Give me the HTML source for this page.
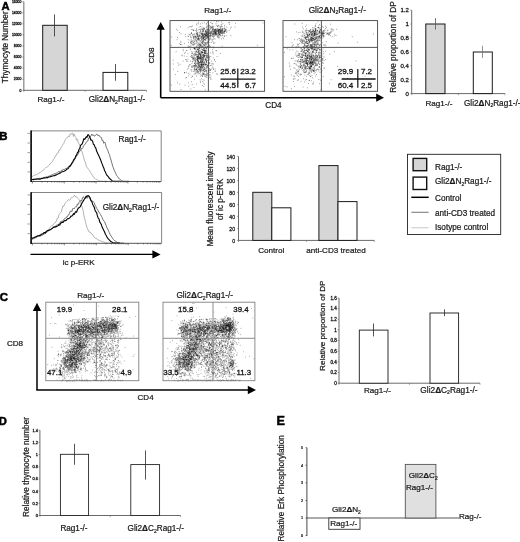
<!DOCTYPE html>
<html lang="en"><head><meta charset="utf-8"><title>Figure</title>
<style>html,body{margin:0;padding:0;background:#fff;}svg{display:block;}</style>
</head><body>
<svg width="520" height="542" viewBox="0 0 520 542" font-family='"Liberation Sans", sans-serif'>
<defs><filter id="bl" x="-5%" y="-5%" width="110%" height="110%"><feGaussianBlur stdDeviation="0.35"/></filter></defs>
<rect x="0" y="0" width="520" height="542" fill="#fff"/>
<text x="1.40" y="9.50" font-size="11.2" text-anchor="start" font-weight="bold" fill="#000" stroke="#000" stroke-width="0.5">A</text>
<text x="-0.70" y="139.50" font-size="11.4" text-anchor="start" font-weight="bold" fill="#000" stroke="#000" stroke-width="0.5">B</text>
<text x="-0.30" y="300.50" font-size="11.4" text-anchor="start" font-weight="bold" fill="#000" stroke="#000" stroke-width="0.5">C</text>
<text x="-1.20" y="425.10" font-size="11.2" text-anchor="start" font-weight="bold" fill="#000" stroke="#000" stroke-width="0.5">D</text>
<text x="276.60" y="425.00" font-size="12.6" text-anchor="start" font-weight="bold" fill="#000" stroke="#000" stroke-width="0.5">E</text>
<line x1="23.85" y1="1.70" x2="23.85" y2="90.30" stroke="#6a6a6a" stroke-width="1.0" />
<line x1="23.35" y1="90.30" x2="146.50" y2="90.30" stroke="#6a6a6a" stroke-width="1.0" />
<line x1="23.85" y1="90.30" x2="23.85" y2="91.90" stroke="#6a6a6a" stroke-width="0.6" />
<line x1="85.17" y1="90.30" x2="85.17" y2="91.90" stroke="#6a6a6a" stroke-width="0.6" />
<line x1="146.50" y1="90.30" x2="146.50" y2="91.90" stroke="#6a6a6a" stroke-width="0.6" />
<line x1="22.35" y1="90.30" x2="23.85" y2="90.30" stroke="#6a6a6a" stroke-width="0.6" />
<text transform="translate(21.40 91.52) scale(1.0 1)" font-size="3.4" text-anchor="end" font-weight="normal" fill="#1a1a1a" stroke="#1a1a1a" stroke-width="0.3">0</text>
<line x1="22.35" y1="79.22" x2="23.85" y2="79.22" stroke="#6a6a6a" stroke-width="0.6" />
<text transform="translate(21.40 80.45) scale(1.0 1)" font-size="3.4" text-anchor="end" font-weight="normal" fill="#1a1a1a" stroke="#1a1a1a" stroke-width="0.3">2000</text>
<line x1="22.35" y1="68.15" x2="23.85" y2="68.15" stroke="#6a6a6a" stroke-width="0.6" />
<text transform="translate(21.40 69.37) scale(1.0 1)" font-size="3.4" text-anchor="end" font-weight="normal" fill="#1a1a1a" stroke="#1a1a1a" stroke-width="0.3">4000</text>
<line x1="22.35" y1="57.08" x2="23.85" y2="57.08" stroke="#6a6a6a" stroke-width="0.6" />
<text transform="translate(21.40 58.30) scale(1.0 1)" font-size="3.4" text-anchor="end" font-weight="normal" fill="#1a1a1a" stroke="#1a1a1a" stroke-width="0.3">6000</text>
<line x1="22.35" y1="46.00" x2="23.85" y2="46.00" stroke="#6a6a6a" stroke-width="0.6" />
<text transform="translate(21.40 47.22) scale(1.0 1)" font-size="3.4" text-anchor="end" font-weight="normal" fill="#1a1a1a" stroke="#1a1a1a" stroke-width="0.3">8000</text>
<line x1="22.35" y1="34.92" x2="23.85" y2="34.92" stroke="#6a6a6a" stroke-width="0.6" />
<text transform="translate(21.40 36.15) scale(1.0 1)" font-size="3.4" text-anchor="end" font-weight="normal" fill="#1a1a1a" stroke="#1a1a1a" stroke-width="0.3">10000</text>
<line x1="22.35" y1="23.85" x2="23.85" y2="23.85" stroke="#6a6a6a" stroke-width="0.6" />
<text transform="translate(21.40 25.07) scale(1.0 1)" font-size="3.4" text-anchor="end" font-weight="normal" fill="#1a1a1a" stroke="#1a1a1a" stroke-width="0.3">12000</text>
<line x1="22.35" y1="12.78" x2="23.85" y2="12.78" stroke="#6a6a6a" stroke-width="0.6" />
<text transform="translate(21.40 14.00) scale(1.0 1)" font-size="3.4" text-anchor="end" font-weight="normal" fill="#1a1a1a" stroke="#1a1a1a" stroke-width="0.3">14000</text>
<line x1="22.35" y1="1.70" x2="23.85" y2="1.70" stroke="#6a6a6a" stroke-width="0.6" />
<text transform="translate(21.40 2.92) scale(1.0 1)" font-size="3.4" text-anchor="end" font-weight="normal" fill="#1a1a1a" stroke="#1a1a1a" stroke-width="0.3">16000</text>
<rect x="42.70" y="25.30" width="24.50" height="65.00" fill="#d6d6d6" stroke="#1a1a1a" stroke-width="1.0"/>
<line x1="54.50" y1="14.40" x2="54.50" y2="36.40" stroke="#2a2a2a" stroke-width="0.8" />
<rect x="103.00" y="72.40" width="24.80" height="17.90" fill="#fff" stroke="#1a1a1a" stroke-width="1.0"/>
<line x1="115.50" y1="64.00" x2="115.50" y2="80.80" stroke="#2a2a2a" stroke-width="0.8" />
<text x="51.00" y="102.00" font-size="8.1" text-anchor="middle" font-weight="normal" fill="#1a1a1a" stroke="#1a1a1a" stroke-width="0.22">Rag1-/-</text>
<text x="117.00" y="102.00" font-size="8.2" text-anchor="middle" font-weight="normal" fill="#1a1a1a" stroke="#1a1a1a" stroke-width="0.22">Gli2<tspan font-weight="bold">Δ</tspan>N<tspan font-size="5.08" dy="1.80">2</tspan><tspan dy="-1.80">Rag1-/-</tspan></text>
<text x="7.80" y="47.30" font-size="8.25" text-anchor="middle" font-weight="normal" fill="#1a1a1a" transform="rotate(-90 7.80 47.30)" stroke="#1a1a1a" stroke-width="0.22">Thymocyte Number</text>
<path d="M201.3 37.1h0.85M201.5 33.5h0.85M197.0 35.1h0.85M210.2 34.5h0.85M209.7 33.9h0.85M205.6 34.7h0.85M192.2 40.9h0.85M206.3 35.8h0.85M192.0 29.7h0.85M197.2 33.9h0.85M205.0 33.8h0.85M206.4 30.9h0.85M205.0 35.7h0.85M198.7 43.0h0.85M206.6 38.8h0.85M199.0 32.3h0.85M200.8 34.6h0.85M207.1 34.6h0.85M200.1 31.1h0.85M199.6 40.6h0.85M197.7 36.9h0.85M205.8 27.4h0.85M203.3 40.1h0.85M189.9 36.4h0.85M202.3 31.1h0.85M206.2 33.4h0.85M193.5 40.4h0.85M207.4 37.5h0.85M212.4 33.7h0.85M203.8 28.7h0.85M207.0 30.9h0.85M200.1 29.8h0.85M196.7 33.8h0.85M211.4 23.7h0.85M193.5 37.9h0.85M212.4 34.7h0.85M190.7 26.7h0.85M205.3 30.8h0.85M195.7 40.5h0.85M210.2 33.4h0.85M204.6 36.0h0.85M213.4 34.6h0.85M206.4 36.0h0.85M192.8 42.5h0.85M209.2 35.2h0.85M190.2 34.9h0.85M208.5 25.3h0.85M201.8 39.2h0.85M194.5 43.5h0.85M206.6 33.0h0.85M205.1 36.8h0.85M203.8 39.2h0.85M198.7 33.8h0.85M209.8 32.9h0.85M197.3 40.0h0.85M212.5 30.2h0.85M194.0 36.1h0.85M202.0 33.5h0.85M212.1 27.8h0.85M211.2 27.0h0.85M197.9 38.5h0.85M210.3 36.4h0.85M205.2 34.6h0.85M204.0 36.7h0.85M201.9 36.0h0.85M206.7 33.6h0.85M208.0 35.7h0.85M216.1 32.7h0.85M200.2 33.6h0.85M202.9 38.5h0.85M200.8 36.7h0.85M195.7 37.4h0.85M205.6 34.9h0.85M200.2 38.0h0.85M204.8 31.8h0.85M218.8 32.1h0.85M199.4 35.0h0.85M201.5 34.6h0.85M185.3 36.8h0.85M209.6 27.8h0.85M202.6 38.7h0.85M208.6 39.5h0.85M191.9 35.7h0.85M200.8 37.7h0.85M210.1 26.5h0.85M207.4 27.0h0.85M204.1 39.4h0.85M202.0 35.6h0.85M208.2 33.8h0.85M202.4 41.2h0.85M209.8 31.5h0.85M220.8 25.1h0.85M208.9 31.9h0.85M203.9 37.3h0.85M204.4 36.9h0.85M193.1 30.5h0.85M207.0 29.4h0.85M196.3 29.8h0.85M211.2 35.7h0.85M212.6 28.1h0.85M203.0 29.6h0.85M208.0 40.1h0.85M197.2 42.7h0.85M209.4 32.1h0.85M190.2 43.7h0.85M202.4 32.1h0.85M205.6 35.6h0.85M212.7 27.7h0.85M210.4 39.1h0.85M212.4 31.4h0.85M198.2 40.1h0.85M203.7 34.8h0.85M212.3 31.1h0.85M188.1 36.5h0.85M190.9 41.0h0.85M205.1 31.4h0.85M202.9 38.1h0.85M203.5 40.1h0.85M202.6 39.1h0.85M212.7 39.0h0.85M198.6 39.4h0.85M190.8 32.9h0.85M190.2 42.3h0.85M195.0 36.4h0.85M201.8 34.7h0.85M199.2 36.5h0.85M214.6 31.8h0.85M206.5 38.0h0.85M201.7 29.4h0.85M199.4 40.0h0.85M192.3 34.6h0.85M209.5 36.3h0.85M203.0 38.0h0.85M204.1 29.2h0.85M192.8 34.3h0.85M209.0 30.6h0.85M197.1 32.6h0.85M193.0 36.5h0.85M195.3 38.0h0.85M187.7 39.7h0.85M198.8 27.2h0.85M207.7 32.1h0.85M188.5 34.3h0.85M204.9 32.1h0.85M208.1 36.5h0.85M207.3 34.8h0.85M211.7 35.2h0.85M205.9 24.8h0.85M208.8 38.7h0.85M201.1 33.0h0.85M215.6 23.8h0.85M206.0 44.2h0.85M197.0 39.0h0.85M215.3 30.9h0.85M206.6 37.5h0.85M197.1 35.6h0.85M204.9 37.6h0.85M202.8 33.7h0.85M196.4 34.6h0.85M208.8 33.5h0.85M197.5 32.2h0.85M220.3 35.1h0.85M207.1 22.3h0.85M207.0 35.6h0.85M213.9 33.6h0.85M202.6 36.9h0.85M190.4 42.1h0.85M205.1 31.0h0.85M211.6 40.2h0.85M193.9 33.9h0.85M204.9 34.8h0.85M200.4 30.9h0.85M216.8 35.6h0.85M195.2 30.6h0.85M214.1 36.0h0.85M214.8 35.1h0.85M197.3 37.0h0.85M189.0 34.8h0.85M202.6 36.8h0.85M198.3 35.1h0.85M206.0 35.4h0.85M207.1 34.4h0.85M200.9 38.4h0.85M203.3 30.9h0.85M198.9 35.5h0.85M202.3 35.4h0.85M203.0 35.3h0.85M202.1 29.3h0.85M205.7 38.4h0.85M205.8 33.0h0.85M205.9 29.6h0.85M190.7 37.8h0.85M197.0 39.2h0.85M196.0 24.9h0.85M196.2 43.0h0.85M200.5 29.2h0.85M198.0 38.0h0.85M206.2 34.5h0.85M212.6 35.2h0.85M202.9 37.1h0.85M213.8 36.0h0.85M209.7 28.2h0.85M202.0 37.9h0.85M201.1 39.6h0.85M206.9 37.5h0.85M201.6 45.8h0.85M211.1 31.6h0.85M203.6 45.5h0.85M200.8 38.8h0.85M209.4 32.9h0.85M195.4 37.2h0.85M205.3 38.8h0.85M208.1 33.3h0.85M208.5 35.5h0.85M204.3 34.4h0.85M201.4 37.8h0.85M196.1 33.5h0.85M203.0 28.2h0.85M200.2 26.5h0.85M198.6 38.0h0.85M206.7 33.4h0.85M201.5 28.8h0.85M214.9 33.8h0.85M210.1 28.9h0.85M201.8 27.0h0.85M208.1 37.3h0.85M190.7 37.3h0.85M207.1 25.9h0.85M191.1 32.8h0.85M198.9 29.5h0.85M203.2 35.5h0.85M207.1 36.5h0.85M212.8 37.1h0.85M194.5 34.4h0.85M196.1 31.6h0.85M202.5 34.7h0.85M206.2 26.9h0.85M195.0 36.4h0.85M201.7 33.5h0.85M202.6 31.3h0.85M207.6 34.9h0.85M202.4 31.7h0.85M201.9 23.1h0.85M196.6 36.2h0.85M193.2 37.8h0.85M204.0 28.3h0.85M201.4 33.6h0.85M206.0 36.4h0.85M202.8 30.9h0.85M202.1 34.5h0.85M207.8 34.6h0.85M198.3 29.8h0.85M200.6 31.9h0.85M195.8 35.8h0.85M199.8 35.7h0.85M206.4 31.9h0.85M218.1 29.4h0.85M210.2 33.3h0.85M210.3 22.5h0.85M198.1 36.8h0.85M206.9 43.6h0.85M205.1 39.5h0.85M208.0 37.3h0.85M206.3 33.0h0.85M206.3 29.0h0.85M210.7 28.2h0.85M204.6 43.2h0.85M201.5 34.9h0.85M210.6 32.7h0.85M197.8 36.9h0.85M206.8 36.6h0.85M198.0 43.3h0.85M213.8 31.9h0.85M204.7 32.2h0.85M212.2 29.2h0.85M207.4 31.3h0.85M198.5 38.7h0.85M211.7 32.3h0.85M198.6 39.1h0.85M202.7 35.9h0.85M212.9 36.9h0.85M199.6 45.2h0.85M203.0 37.9h0.85M198.8 35.3h0.85M191.6 45.0h0.85M211.9 27.1h0.85M193.2 29.9h0.85M210.6 30.6h0.85M202.6 33.2h0.85M202.2 30.0h0.85M203.2 28.3h0.85M202.5 35.9h0.85M206.0 32.7h0.85M197.1 36.6h0.85M199.8 42.0h0.85M208.0 32.8h0.85M199.9 32.2h0.85M196.9 34.5h0.85M204.9 36.2h0.85M206.7 42.6h0.85M198.4 35.7h0.85M221.2 22.0h0.85M199.6 36.1h0.85M204.0 36.0h0.85M201.4 36.5h0.85M203.3 37.7h0.85M190.7 33.7h0.85M203.0 30.1h0.85M196.2 38.9h0.85M198.8 38.3h0.85M207.8 34.6h0.85M206.3 33.2h0.85M193.8 36.6h0.85M206.0 31.5h0.85M202.4 37.9h0.85M197.3 38.7h0.85M215.1 29.1h0.85M204.0 33.6h0.85M213.0 33.4h0.85M208.8 30.1h0.85M202.9 34.5h0.85M191.5 43.6h0.85M208.8 25.5h0.85M207.8 32.7h0.85M205.9 35.4h0.85M193.3 36.0h0.85M212.7 29.6h0.85M196.4 30.3h0.85M211.9 33.2h0.85M226.5 31.7h0.85M219.2 37.9h0.85M215.4 29.8h0.85M220.6 32.8h0.85M212.9 28.7h0.85M219.5 32.1h0.85M211.5 31.7h0.85M215.3 33.2h0.85M217.4 31.3h0.85M216.2 34.8h0.85M225.0 29.6h0.85M222.2 28.8h0.85M218.4 33.7h0.85M225.6 29.5h0.85M217.6 32.1h0.85M210.5 32.4h0.85M214.6 33.0h0.85M212.4 26.4h0.85M218.2 32.2h0.85M215.3 34.4h0.85M216.6 29.9h0.85M220.4 26.6h0.85M214.6 31.8h0.85M222.2 30.5h0.85M219.5 29.4h0.85M219.5 36.2h0.85M214.6 38.9h0.85M214.8 31.9h0.85M218.9 34.4h0.85M211.8 26.1h0.85M221.0 33.5h0.85M221.1 38.9h0.85M219.0 32.1h0.85M222.6 32.0h0.85M226.3 26.9h0.85M216.1 21.6h0.85M222.1 29.9h0.85M222.6 37.3h0.85M218.0 30.8h0.85M215.5 29.3h0.85M214.8 33.8h0.85M218.2 31.7h0.85M217.1 34.3h0.85M220.5 30.8h0.85M221.3 30.7h0.85M212.2 36.5h0.85M220.3 28.4h0.85M223.4 31.9h0.85M210.2 37.2h0.85M219.7 33.9h0.85M219.0 30.9h0.85M210.3 35.3h0.85M218.2 30.6h0.85M219.8 31.5h0.85M221.4 30.0h0.85M217.8 25.2h0.85M215.9 33.7h0.85M224.7 29.6h0.85M217.4 36.2h0.85M216.4 33.9h0.85M226.4 30.6h0.85M224.1 28.7h0.85M219.0 31.1h0.85M218.6 34.8h0.85M229.9 28.1h0.85M215.1 33.3h0.85M212.7 33.6h0.85M220.9 30.3h0.85M220.7 26.6h0.85M221.8 26.5h0.85M214.5 30.3h0.85M216.0 34.3h0.85M218.4 30.3h0.85M220.7 35.8h0.85M218.0 32.6h0.85M224.2 31.5h0.85M211.6 39.6h0.85M229.0 24.3h0.85M217.8 32.8h0.85M222.8 32.9h0.85M216.6 28.6h0.85M218.5 34.5h0.85M212.6 29.1h0.85M217.9 25.8h0.85M216.7 30.4h0.85M220.3 29.2h0.85M213.6 30.9h0.85M217.8 29.6h0.85M218.1 33.7h0.85M223.9 35.8h0.85M214.1 30.7h0.85M205.6 38.6h0.85M214.4 31.8h0.85M220.6 27.2h0.85M220.3 31.1h0.85M208.9 33.5h0.85M224.0 25.3h0.85M222.0 31.6h0.85M220.4 32.5h0.85M224.5 30.1h0.85M222.4 29.8h0.85M221.6 28.7h0.85M217.5 36.7h0.85M220.2 30.8h0.85M212.3 29.9h0.85M219.0 34.1h0.85M220.1 32.8h0.85M217.8 35.5h0.85M216.0 30.1h0.85M222.4 31.2h0.85M216.6 30.0h0.85M216.7 33.5h0.85M219.8 27.7h0.85M220.1 31.8h0.85M213.0 34.4h0.85M216.6 30.7h0.85M222.0 34.9h0.85M214.6 33.2h0.85M213.6 38.8h0.85M215.5 35.3h0.85M214.8 34.3h0.85M229.1 22.7h0.85M215.8 33.2h0.85M217.5 29.6h0.85M228.8 30.4h0.85M209.8 35.0h0.85M209.4 35.9h0.85M215.1 32.3h0.85M224.3 31.1h0.85M211.0 27.3h0.85M223.9 33.0h0.85M213.9 34.5h0.85M220.5 33.1h0.85M206.7 32.0h0.85M222.5 33.1h0.85M222.4 23.7h0.85M218.8 32.8h0.85M230.8 27.2h0.85M216.4 31.8h0.85M222.4 29.7h0.85M223.7 28.5h0.85M219.3 29.8h0.85M218.8 29.4h0.85M210.0 35.7h0.85M219.5 29.7h0.85M219.0 34.3h0.85M213.1 31.8h0.85M220.7 32.7h0.85M216.3 25.5h0.85M224.2 31.7h0.85M218.1 30.7h0.85M219.3 30.1h0.85M212.9 29.9h0.85M215.0 30.1h0.85M212.2 34.1h0.85M211.5 34.2h0.85M212.9 33.1h0.85M224.9 31.3h0.85M214.3 32.1h0.85M218.7 26.3h0.85M215.0 32.3h0.85M215.7 32.0h0.85M221.7 33.3h0.85M222.5 32.7h0.85M216.6 31.6h0.85M216.6 30.7h0.85M217.1 26.5h0.85M216.3 31.6h0.85M213.1 32.0h0.85M220.6 30.7h0.85M228.4 22.6h0.85M217.0 26.3h0.85M222.9 38.7h0.85M205.5 33.4h0.85M220.6 30.3h0.85M220.8 24.6h0.85M222.3 32.1h0.85M218.1 29.8h0.85M221.2 29.7h0.85M219.1 29.9h0.85M206.8 32.8h0.85M219.0 33.6h0.85M213.6 31.9h0.85M221.1 31.6h0.85M224.2 36.6h0.85M213.5 26.4h0.85M222.3 35.5h0.85M222.6 33.3h0.85M214.9 29.8h0.85M222.4 28.3h0.85M208.9 29.7h0.85M230.5 35.7h0.85M214.6 29.8h0.85M219.2 29.2h0.85M224.6 30.5h0.85M212.6 36.0h0.85M215.1 32.5h0.85M217.9 30.6h0.85M219.6 29.3h0.85M208.8 26.1h0.85M211.7 30.0h0.85M217.9 31.7h0.85M220.8 31.5h0.85M214.0 29.9h0.85M207.4 32.3h0.85M220.4 32.8h0.85M217.4 31.1h0.85M222.7 31.0h0.85M221.7 32.8h0.85M219.1 35.2h0.85M215.1 30.8h0.85M214.0 29.6h0.85M225.8 35.7h0.85M218.1 33.2h0.85M223.9 33.2h0.85M224.0 27.1h0.85M214.8 33.2h0.85M225.2 30.9h0.85M213.7 31.0h0.85M214.7 29.4h0.85M225.5 28.8h0.85M218.1 37.8h0.85M223.9 31.8h0.85M214.9 33.1h0.85M226.1 32.4h0.85M224.3 31.0h0.85M220.6 30.6h0.85M220.1 35.1h0.85M210.8 32.2h0.85M201.7 59.2h0.85M199.0 68.3h0.85M210.1 69.6h0.85M202.1 52.3h0.85M209.8 65.6h0.85M200.3 55.0h0.85M200.2 55.1h0.85M200.8 66.4h0.85M200.6 65.0h0.85M196.4 72.3h0.85M197.4 49.4h0.85M199.6 57.4h0.85M195.7 59.4h0.85M201.9 54.9h0.85M199.8 73.0h0.85M203.8 62.7h0.85M201.1 62.3h0.85M200.3 68.2h0.85M200.1 45.8h0.85M200.4 56.6h0.85M203.6 59.4h0.85M201.2 78.7h0.85M195.5 53.9h0.85M193.7 44.4h0.85M191.5 63.6h0.85M197.4 49.0h0.85M193.4 65.8h0.85M196.8 59.6h0.85M202.1 73.0h0.85M209.8 72.4h0.85M201.2 64.5h0.85M209.2 75.1h0.85M199.0 65.9h0.85M201.9 63.7h0.85M198.1 53.0h0.85M197.9 51.4h0.85M206.4 68.1h0.85M194.7 71.6h0.85M204.8 50.4h0.85M209.3 70.8h0.85M210.4 56.5h0.85M203.0 66.6h0.85M201.5 64.4h0.85M205.6 53.5h0.85M194.5 51.7h0.85M197.8 58.1h0.85M202.3 65.3h0.85M200.7 58.2h0.85M198.4 69.3h0.85M204.2 64.5h0.85M199.0 73.7h0.85M197.6 67.0h0.85M206.0 62.4h0.85M204.5 55.9h0.85M205.4 65.5h0.85M192.9 66.1h0.85M196.2 71.2h0.85M197.2 61.1h0.85M201.9 60.9h0.85M201.7 59.3h0.85M203.7 63.8h0.85M201.5 43.6h0.85M206.1 64.5h0.85M191.9 61.8h0.85M202.7 71.1h0.85M195.3 72.8h0.85M199.7 79.9h0.85M199.8 67.7h0.85M198.7 54.7h0.85M205.8 70.6h0.85M207.9 70.8h0.85M197.7 50.5h0.85M197.4 57.5h0.85M196.6 66.3h0.85M202.1 61.4h0.85M201.3 62.1h0.85M201.5 68.6h0.85M205.1 59.2h0.85M193.3 71.5h0.85M201.0 71.0h0.85M192.6 58.9h0.85M200.6 52.8h0.85M198.0 67.6h0.85M205.7 75.5h0.85M196.4 52.1h0.85M203.0 70.3h0.85M201.4 53.9h0.85M204.3 69.5h0.85M203.2 60.1h0.85M202.0 69.0h0.85M197.8 49.3h0.85M202.1 66.8h0.85M200.6 69.3h0.85M197.7 61.8h0.85M199.0 66.7h0.85M208.2 62.9h0.85M210.4 76.1h0.85M204.3 68.0h0.85M209.0 63.6h0.85M200.0 55.3h0.85M202.8 73.1h0.85M203.1 66.6h0.85M199.5 64.0h0.85M193.7 68.9h0.85M198.5 54.7h0.85M196.9 56.3h0.85M204.6 71.5h0.85M194.0 68.1h0.85M204.8 59.8h0.85M193.4 56.1h0.85M197.5 64.8h0.85M198.8 48.2h0.85M201.6 52.3h0.85M204.8 55.4h0.85M197.2 56.2h0.85M197.9 71.7h0.85M204.6 68.2h0.85M202.0 52.3h0.85M198.0 58.5h0.85M195.8 65.6h0.85M196.9 57.1h0.85M195.5 47.2h0.85M203.4 73.1h0.85M201.3 56.2h0.85M187.5 61.3h0.85M206.3 66.4h0.85M205.0 74.5h0.85M205.9 61.1h0.85M205.6 69.7h0.85M193.1 58.5h0.85M193.7 60.7h0.85M203.3 56.0h0.85M190.6 70.0h0.85M202.3 73.9h0.85M194.1 69.1h0.85M210.5 79.5h0.85M199.5 64.7h0.85M199.8 69.9h0.85M205.5 64.7h0.85M194.0 66.8h0.85M198.2 67.0h0.85M201.8 74.8h0.85M206.0 61.0h0.85M202.2 75.9h0.85M197.9 65.5h0.85M206.2 73.2h0.85M203.0 54.2h0.85M194.4 63.4h0.85M202.4 81.6h0.85M196.4 70.2h0.85M204.2 51.9h0.85M196.6 63.3h0.85M198.1 61.4h0.85M202.8 57.7h0.85M202.7 59.0h0.85M197.9 66.2h0.85M197.7 64.4h0.85M208.2 64.9h0.85M199.8 68.1h0.85M198.7 70.3h0.85M194.3 66.0h0.85M198.0 56.8h0.85M209.0 58.9h0.85M208.9 69.6h0.85M207.5 57.6h0.85M206.3 74.7h0.85M199.9 62.0h0.85M212.3 66.9h0.85M198.5 58.1h0.85M202.6 65.8h0.85M201.4 75.4h0.85M198.9 66.0h0.85M207.5 57.4h0.85M205.5 77.2h0.85M194.0 53.7h0.85M195.5 48.7h0.85M202.7 50.3h0.85M202.9 73.9h0.85M192.7 59.0h0.85M191.3 66.5h0.85M197.0 60.3h0.85M200.8 66.9h0.85M198.8 62.7h0.85M197.9 63.2h0.85M194.9 62.2h0.85M191.2 57.4h0.85M209.7 65.6h0.85M194.5 63.5h0.85M195.8 50.2h0.85M197.0 67.5h0.85M202.3 62.7h0.85M196.1 54.3h0.85M207.0 66.2h0.85M195.9 46.9h0.85M193.9 79.1h0.85M195.0 61.2h0.85M201.5 62.1h0.85M199.2 52.9h0.85M195.5 73.9h0.85M196.9 68.2h0.85M192.4 59.2h0.85M201.8 70.7h0.85M195.1 66.0h0.85M202.4 58.2h0.85M202.8 57.1h0.85M196.7 62.0h0.85M187.5 59.3h0.85M195.7 51.5h0.85M198.5 68.0h0.85M198.6 71.6h0.85M194.9 52.4h0.85M207.9 67.5h0.85M205.0 58.1h0.85M204.4 65.7h0.85M203.6 63.9h0.85M206.3 59.7h0.85M195.9 51.4h0.85M206.1 59.0h0.85M195.5 55.2h0.85M198.4 53.5h0.85M199.1 58.2h0.85M197.9 55.6h0.85M200.7 59.8h0.85M201.1 64.9h0.85M202.1 47.8h0.85M197.9 56.8h0.85M204.2 52.6h0.85M197.1 60.1h0.85M198.9 69.7h0.85M198.4 69.4h0.85M193.5 48.5h0.85M206.4 67.4h0.85M202.8 64.4h0.85M202.8 54.9h0.85M205.1 60.2h0.85M205.2 64.7h0.85M191.0 51.7h0.85M205.9 63.2h0.85M198.6 64.3h0.85M198.5 58.7h0.85M201.0 64.1h0.85M207.8 65.0h0.85M209.5 77.9h0.85M208.7 72.4h0.85M201.1 64.1h0.85M199.8 57.6h0.85M200.2 58.4h0.85M208.4 68.6h0.85M198.4 48.9h0.85M200.2 60.0h0.85M195.3 53.7h0.85M189.7 64.6h0.85M200.2 81.3h0.85M200.4 61.9h0.85M207.4 65.5h0.85M201.3 60.5h0.85M197.6 73.0h0.85M205.3 76.3h0.85M198.8 62.8h0.85M196.3 68.9h0.85M193.8 65.5h0.85M205.8 74.2h0.85M196.0 69.7h0.85M197.1 56.8h0.85M194.1 69.8h0.85M208.4 60.5h0.85M196.9 59.8h0.85M212.5 72.9h0.85M197.9 49.6h0.85M197.3 70.7h0.85M209.5 63.1h0.85M197.2 58.6h0.85M191.4 67.4h0.85M195.3 69.4h0.85M192.3 52.1h0.85M201.9 57.9h0.85M204.3 63.9h0.85M194.9 66.2h0.85M204.5 50.3h0.85M209.3 68.5h0.85M204.1 50.6h0.85M197.0 59.7h0.85M205.7 53.8h0.85M196.3 47.6h0.85M199.3 65.2h0.85M192.4 57.0h0.85M202.9 74.8h0.85M203.7 61.6h0.85M194.8 55.1h0.85M197.3 63.3h0.85M200.3 74.8h0.85M201.9 55.7h0.85M207.9 71.4h0.85M201.0 58.0h0.85M191.5 53.7h0.85M204.9 58.3h0.85M194.2 63.0h0.85M201.7 67.6h0.85M203.6 73.7h0.85M196.5 69.1h0.85M195.8 66.9h0.85M201.4 64.9h0.85M205.1 63.9h0.85M205.8 70.4h0.85M201.2 59.1h0.85M196.9 58.4h0.85M199.5 62.6h0.85M214.8 70.8h0.85M204.2 57.7h0.85M197.1 60.0h0.85M201.4 55.8h0.85M208.2 60.7h0.85M205.7 47.5h0.85M200.5 65.0h0.85M201.4 67.5h0.85M201.8 64.5h0.85M191.4 55.9h0.85M189.3 64.9h0.85M202.0 61.9h0.85M196.6 58.0h0.85M209.4 77.3h0.85M200.2 72.1h0.85M192.9 47.5h0.85M198.2 56.2h0.85M197.8 63.7h0.85M215.0 61.6h0.85M200.7 65.0h0.85M200.3 69.6h0.85M209.0 56.1h0.85M201.3 61.3h0.85M202.2 52.5h0.85M192.1 44.6h0.85M203.0 64.9h0.85M200.9 46.2h0.85M198.7 57.2h0.85M193.7 55.0h0.85M203.8 67.6h0.85M200.4 66.6h0.85M197.6 62.9h0.85M200.7 67.0h0.85M200.2 61.9h0.85M199.9 58.3h0.85M211.2 69.1h0.85M202.6 79.8h0.85M207.2 53.4h0.85M203.8 69.7h0.85M209.5 74.4h0.85M204.2 55.5h0.85M196.3 64.0h0.85M202.9 56.3h0.85M198.7 59.7h0.85M200.8 65.5h0.85M199.1 53.9h0.85M206.5 75.7h0.85M200.0 70.2h0.85M202.6 68.2h0.85M202.8 58.1h0.85M203.3 70.8h0.85M196.2 76.0h0.85M210.5 78.2h0.85M210.0 70.4h0.85M198.9 58.4h0.85M196.6 62.9h0.85M200.3 67.7h0.85M190.8 77.3h0.85M211.4 65.3h0.85M203.7 67.1h0.85M201.8 61.8h0.85M199.9 57.0h0.85M201.4 63.0h0.85M202.0 57.3h0.85M200.7 63.4h0.85M203.4 56.1h0.85M202.5 70.5h0.85M203.4 61.0h0.85M198.1 60.8h0.85M204.0 74.8h0.85M199.7 58.3h0.85M202.3 64.9h0.85M196.1 56.8h0.85M200.0 67.7h0.85M194.8 54.5h0.85M202.9 54.8h0.85M201.0 65.6h0.85M200.0 55.6h0.85M200.2 60.6h0.85M202.1 57.4h0.85M205.7 52.3h0.85M199.7 62.9h0.85M205.1 59.7h0.85M203.1 59.6h0.85M204.0 76.2h0.85M198.6 65.7h0.85M196.0 68.9h0.85M206.3 64.6h0.85M195.1 64.6h0.85M206.0 72.0h0.85M204.4 50.8h0.85M197.2 72.4h0.85M194.6 69.7h0.85M209.5 70.5h0.85M205.9 61.8h0.85M194.6 60.9h0.85M199.5 62.4h0.85M203.8 62.7h0.85M201.4 66.2h0.85M200.5 76.1h0.85M202.6 64.1h0.85M199.5 58.3h0.85M207.0 65.5h0.85M195.3 57.8h0.85M199.8 59.7h0.85M205.7 55.9h0.85M202.9 64.6h0.85M194.8 62.1h0.85M200.0 66.5h0.85M198.3 64.7h0.85M192.5 53.5h0.85M204.3 71.3h0.85M200.4 58.7h0.85M205.7 49.3h0.85M196.7 66.9h0.85M203.6 56.4h0.85M191.4 71.3h0.85M201.2 56.8h0.85M200.8 69.5h0.85M188.1 68.1h0.85M204.1 49.0h0.85M204.2 51.2h0.85M206.0 67.1h0.85M211.3 61.1h0.85M200.5 70.5h0.85M197.4 57.3h0.85M198.7 62.1h0.85M195.3 65.3h0.85M203.1 64.1h0.85M208.7 62.5h0.85M206.8 60.5h0.85M204.1 50.0h0.85M201.5 62.0h0.85M198.1 58.1h0.85M198.8 57.5h0.85M190.0 56.4h0.85M197.9 58.7h0.85M195.4 60.9h0.85M204.3 62.1h0.85M198.1 72.1h0.85M205.2 70.6h0.85M206.0 61.9h0.85M199.9 70.8h0.85M197.8 61.6h0.85M202.3 66.1h0.85M199.2 69.7h0.85M199.6 68.0h0.85M205.6 68.8h0.85M204.0 55.5h0.85M194.2 57.2h0.85M202.8 74.2h0.85M194.6 63.9h0.85M196.4 56.9h0.85M202.0 52.8h0.85M203.7 56.3h0.85M199.6 54.2h0.85M206.3 48.5h0.85M204.7 44.1h0.85M199.2 45.2h0.85M200.8 68.2h0.85M201.3 59.6h0.85M203.7 50.2h0.85M205.6 42.5h0.85M206.2 50.6h0.85M197.7 52.2h0.85M204.9 51.2h0.85M208.5 45.1h0.85M204.8 53.2h0.85M199.8 56.4h0.85M197.9 38.9h0.85M204.8 40.4h0.85M202.6 36.5h0.85M203.2 40.1h0.85M204.2 37.3h0.85M204.6 46.1h0.85M203.2 47.5h0.85M203.5 38.8h0.85M194.0 48.2h0.85M199.7 44.8h0.85M204.5 34.1h0.85M200.3 43.7h0.85M199.3 50.3h0.85M202.5 42.3h0.85M199.6 53.7h0.85M200.7 52.1h0.85M204.6 34.7h0.85M199.2 48.0h0.85M204.2 53.5h0.85M205.8 55.2h0.85M201.7 46.5h0.85M205.7 45.0h0.85M206.7 36.9h0.85M205.3 46.8h0.85M196.1 54.9h0.85M204.1 48.1h0.85M199.2 44.7h0.85M208.3 42.2h0.85M190.8 42.0h0.85M198.8 47.1h0.85M201.6 41.6h0.85M200.1 55.3h0.85M198.0 61.7h0.85M201.1 40.4h0.85M205.8 51.9h0.85M199.4 53.2h0.85M196.6 41.5h0.85M206.9 46.2h0.85M198.4 51.6h0.85M206.2 47.8h0.85M196.7 45.6h0.85M204.5 53.4h0.85M209.5 46.2h0.85M201.3 47.7h0.85M207.2 41.4h0.85M207.6 28.8h0.85M205.8 43.3h0.85M204.6 52.8h0.85M198.9 47.4h0.85M203.8 52.1h0.85M199.7 41.1h0.85M196.3 65.8h0.85M202.3 46.4h0.85M197.8 54.5h0.85M201.1 58.0h0.85M206.0 48.1h0.85M205.5 40.2h0.85M201.9 44.0h0.85M198.6 48.1h0.85M202.5 58.0h0.85M191.3 43.3h0.85M199.8 44.8h0.85M204.5 50.8h0.85M203.1 44.7h0.85M204.7 50.5h0.85M196.6 46.2h0.85M198.2 39.7h0.85M203.5 48.4h0.85M203.4 41.9h0.85M202.3 41.6h0.85M204.3 52.8h0.85M209.1 56.9h0.85M200.2 44.8h0.85M199.7 50.1h0.85M209.9 53.0h0.85M195.3 39.2h0.85M198.5 51.6h0.85M203.0 50.1h0.85M209.2 42.2h0.85M200.0 61.8h0.85M204.2 42.5h0.85M195.9 37.3h0.85M194.4 48.5h0.85M203.2 55.0h0.85M202.5 43.1h0.85M200.4 61.3h0.85M196.8 49.2h0.85M203.1 52.3h0.85M201.6 51.5h0.85M205.9 47.0h0.85M201.4 46.7h0.85M199.6 46.5h0.85M201.9 49.5h0.85M207.7 57.2h0.85M201.4 52.2h0.85M204.0 53.3h0.85M203.1 49.9h0.85M201.4 42.5h0.85M206.1 57.1h0.85M205.3 51.1h0.85M203.9 44.8h0.85M196.8 52.6h0.85M203.7 44.1h0.85M199.6 56.9h0.85M196.7 60.3h0.85M205.2 64.6h0.85M200.5 47.8h0.85M201.2 49.1h0.85M202.3 42.8h0.85M206.8 42.5h0.85M201.2 51.9h0.85M201.1 45.0h0.85M204.2 45.4h0.85M198.6 47.3h0.85M202.2 59.9h0.85M199.2 54.8h0.85M200.2 45.5h0.85M201.9 49.9h0.85M206.0 60.2h0.85M200.8 57.3h0.85M206.5 53.7h0.85M200.3 54.3h0.85M202.6 50.5h0.85M202.1 52.6h0.85M206.9 55.9h0.85M202.3 55.0h0.85M208.1 41.5h0.85M208.2 38.7h0.85M204.9 52.2h0.85M208.2 50.0h0.85M201.3 42.4h0.85M198.6 53.4h0.85M202.2 43.0h0.85M204.9 42.6h0.85M193.2 45.1h0.85M216.2 73.9h0.85M196.3 28.4h0.85M201.0 53.1h0.85M201.8 60.5h0.85M194.5 65.9h0.85M207.2 55.2h0.85M193.5 44.8h0.85M205.6 35.5h0.85M196.2 40.8h0.85M182.7 61.1h0.85M197.7 52.5h0.85M207.6 29.6h0.85M197.3 56.3h0.85M207.2 35.7h0.85M205.9 55.3h0.85M212.9 69.1h0.85M204.0 84.2h0.85M198.0 45.6h0.85M194.3 37.9h0.85M197.7 23.8h0.85M197.1 58.4h0.85M208.9 46.8h0.85M213.3 42.2h0.85M196.5 23.8h0.85M189.6 40.1h0.85M214.0 59.8h0.85M186.1 59.8h0.85M203.2 48.6h0.85M198.2 47.5h0.85M192.2 26.0h0.85M197.0 70.8h0.85M213.4 47.9h0.85M190.0 48.9h0.85M207.6 57.1h0.85M191.7 57.3h0.85M195.8 59.5h0.85M193.6 30.5h0.85M198.6 63.1h0.85M186.1 50.4h0.85M207.4 46.5h0.85M191.0 81.7h0.85M206.9 67.0h0.85M187.9 75.9h0.85M180.3 44.4h0.85M205.9 71.4h0.85M188.0 42.3h0.85M200.1 23.9h0.85M204.8 60.2h0.85M193.2 59.8h0.85M206.3 56.5h0.85M203.6 74.1h0.85M192.9 54.4h0.85M192.4 67.1h0.85M193.7 58.9h0.85M199.5 53.0h0.85M216.3 50.8h0.85M213.1 64.0h0.85M212.1 49.6h0.85M207.9 63.0h0.85M191.5 55.9h0.85M196.6 51.5h0.85M211.8 41.6h0.85M180.1 26.8h0.85M193.2 42.7h0.85M198.2 60.2h0.85M216.7 56.5h0.85M202.9 41.4h0.85M204.2 71.7h0.85M212.2 23.7h0.85M207.4 74.9h0.85M206.8 30.4h0.85M194.7 60.5h0.85M202.4 40.3h0.85M188.6 66.0h0.85M183.9 72.7h0.85M198.2 56.3h0.85M183.9 43.4h0.85M205.3 30.8h0.85M219.9 31.7h0.85M185.1 52.6h0.85M203.1 62.6h0.85M194.1 49.0h0.85M195.5 43.7h0.85M200.7 54.3h0.85M191.4 55.6h0.85M197.9 50.9h0.85M209.7 27.2h0.85M200.7 36.6h0.85M194.6 73.6h0.85M186.5 50.6h0.85M191.7 65.7h0.85M187.7 27.8h0.85M203.4 46.9h0.85M194.6 67.6h0.85M188.6 46.6h0.85M199.6 58.0h0.85M192.5 66.9h0.85M221.7 46.1h0.85M217.8 21.6h0.85M212.9 47.0h0.85M199.5 47.1h0.85M191.3 33.6h0.85M193.8 70.7h0.85M210.0 47.0h0.85M192.4 41.9h0.85M185.3 78.0h0.85M205.0 53.7h0.85M192.8 37.3h0.85M211.9 63.2h0.85M187.9 66.2h0.85M186.3 61.2h0.85M187.9 46.0h0.85M203.2 58.2h0.85M208.7 39.9h0.85M214.7 71.4h0.85M197.9 58.7h0.85M189.8 49.8h0.85M184.1 53.3h0.85M200.1 71.3h0.85M208.0 63.7h0.85M194.2 48.8h0.85M194.4 55.2h0.85M177.6 63.1h0.85M181.5 44.6h0.85M198.2 44.6h0.85M215.6 50.6h0.85M214.6 68.9h0.85M192.8 57.8h0.85M211.7 47.2h0.85M198.9 44.0h0.85M198.6 46.9h0.85M198.9 66.4h0.85M212.7 53.9h0.85M200.1 64.3h0.85M194.9 36.8h0.85M209.7 38.5h0.85M207.8 38.1h0.85M217.3 37.0h0.85M207.0 73.6h0.85M187.9 73.4h0.85M189.3 26.6h0.85M205.6 62.1h0.85M197.4 47.6h0.85M194.0 47.8h0.85M179.1 43.8h0.85M217.0 74.3h0.85M194.2 41.7h0.85M202.2 67.3h0.85M205.6 35.2h0.85M199.7 54.0h0.85M213.2 69.2h0.85M203.5 69.5h0.85M193.8 74.1h0.85M193.5 57.7h0.85M207.7 38.8h0.85M190.6 26.7h0.85M199.7 51.2h0.85M194.5 59.2h0.85M175.7 51.7h0.85M198.9 48.2h0.85M206.4 77.2h0.85M193.3 38.5h0.85M191.6 53.3h0.85M204.2 39.6h0.85M208.6 37.2h0.85M206.7 58.2h0.85M202.9 83.1h0.85M195.2 49.6h0.85M203.0 64.4h0.85M183.9 56.0h0.85M190.2 61.1h0.85M212.5 52.7h0.85M196.9 54.6h0.85M203.9 54.4h0.85M193.8 41.5h0.85M196.1 69.5h0.85M196.9 71.4h0.85M170.8 45.4h0.85M200.9 51.8h0.85M180.5 42.4h0.85M211.2 33.4h0.85M187.5 36.2h0.85M192.2 61.3h0.85M204.3 22.8h0.85M213.4 43.5h0.85M191.8 76.0h0.85M197.1 34.1h0.85M191.3 41.5h0.85M187.3 47.2h0.85M207.3 57.0h0.85M187.5 53.7h0.85M198.3 63.0h0.85M194.5 58.6h0.85M220.2 53.4h0.85M186.6 56.7h0.85M189.5 46.7h0.85M200.0 56.9h0.85M195.0 64.2h0.85M196.0 33.2h0.85M207.3 46.8h0.85M210.8 42.6h0.85M204.0 56.5h0.85M186.2 72.3h0.85M178.1 65.2h0.85M209.5 59.1h0.85M205.1 44.9h0.85M197.9 55.2h0.85M202.4 62.2h0.85M195.8 41.9h0.85M192.1 57.9h0.85M180.5 33.9h0.85M193.7 44.0h0.85M194.4 48.4h0.85M206.2 23.5h0.85M194.8 58.8h0.85M203.2 69.2h0.85M209.1 36.9h0.85M204.7 47.2h0.85M189.5 74.1h0.85M191.3 39.7h0.85M193.7 39.7h0.85M208.6 57.5h0.85M212.8 57.9h0.85M185.1 59.6h0.85M196.9 44.7h0.85M190.9 29.5h0.85M211.6 64.0h0.85M214.4 32.1h0.85M197.6 74.0h0.85M184.8 34.5h0.85M177.0 37.5h0.85M204.5 34.2h0.85M206.6 55.1h0.85M194.2 65.5h0.85M195.0 69.8h0.85M197.1 49.3h0.85M203.3 44.8h0.85M202.0 76.5h0.85M204.9 48.0h0.85M204.8 89.9h0.85M190.4 46.0h0.85M193.5 87.6h0.85M175.9 29.2h0.85M191.4 69.7h0.85M204.8 51.3h0.85M214.5 42.9h0.85M204.0 34.2h0.85M171.3 37.0h0.85M172.7 60.1h0.85M195.0 40.0h0.85M212.3 51.5h0.85M176.7 39.7h0.85M203.2 86.4h0.85M177.3 30.4h0.85M205.0 43.8h0.85M214.2 59.9h0.85M198.6 50.2h0.85M206.0 57.4h0.85M184.6 85.2h0.85M174.9 74.6h0.85M172.9 69.1h0.85M188.1 82.8h0.85M172.7 64.0h0.85M188.4 86.2h0.85M212.5 67.9h0.85M180.1 44.4h0.85M181.8 55.8h0.85M180.4 41.3h0.85M204.2 68.9h0.85M179.7 64.3h0.85M177.1 82.7h0.85M209.1 45.4h0.85M203.8 80.2h0.85M182.7 49.4h0.85M191.8 84.5h0.85M177.3 71.4h0.85M196.9 57.0h0.85M196.1 84.0h0.85M179.4 84.0h0.85M186.2 77.5h0.85M208.9 40.0h0.85M198.2 22.3h0.85M180.6 89.5h0.85M170.9 85.1h0.85M184.3 72.6h0.85M179.2 32.5h0.85M234.6 27.0h0.85M202.1 85.5h0.85M237.8 83.0h0.85M262.7 22.9h0.85M192.2 76.6h0.85M235.2 23.3h0.85M217.8 37.0h0.85M210.7 28.0h0.85M199.9 82.7h0.85M181.4 55.1h0.85M182.8 50.9h0.85M186.9 69.1h0.85M184.0 72.8h0.85M217.4 28.5h0.85M203.4 55.7h0.85M256.9 45.3h0.85M190.4 89.0h0.85M253.5 72.3h0.85M195.8 33.1h0.85" stroke="#000" stroke-opacity="0.5" stroke-width="0.85" fill="none" filter="url(#bl)"/>
<rect x="170.00" y="20.60" width="94.60" height="70.70" fill="none" stroke="#444" stroke-width="0.9"/>
<line x1="208.40" y1="20.60" x2="208.40" y2="91.30" stroke="#444" stroke-width="0.9" />
<line x1="170.00" y1="47.40" x2="264.60" y2="47.40" stroke="#444" stroke-width="0.9" />
<text x="217.70" y="12.50" font-size="8.1" text-anchor="middle" font-weight="normal" fill="#1a1a1a" stroke="#1a1a1a" stroke-width="0.22">Rag1-/-</text>
<text x="228.10" y="73.80" font-size="8.05" text-anchor="middle" font-weight="normal" fill="#1a1a1a" stroke="#111" stroke-width="0.3">25.6</text>
<text x="248.00" y="73.80" font-size="8.05" text-anchor="middle" font-weight="normal" fill="#1a1a1a" stroke="#111" stroke-width="0.3">23.2</text>
<text x="228.10" y="87.90" font-size="8.05" text-anchor="middle" font-weight="normal" fill="#1a1a1a" stroke="#111" stroke-width="0.3">44.5</text>
<text x="250.50" y="87.90" font-size="8.05" text-anchor="middle" font-weight="normal" fill="#1a1a1a" stroke="#111" stroke-width="0.3">6.7</text>
<line x1="220.50" y1="79.10" x2="255.50" y2="79.10" stroke="#111" stroke-width="1.3" />
<line x1="237.80" y1="68.50" x2="237.80" y2="87.70" stroke="#111" stroke-width="1.2" />
<path d="M312.3 38.4h0.85M319.4 36.3h0.85M306.1 41.6h0.85M311.9 37.2h0.85M309.2 30.7h0.85M305.2 36.7h0.85M306.3 25.0h0.85M319.2 29.1h0.85M308.3 40.2h0.85M298.4 46.6h0.85M308.0 40.9h0.85M309.7 38.7h0.85M313.1 36.3h0.85M301.8 32.2h0.85M312.3 43.4h0.85M309.3 39.9h0.85M313.4 38.6h0.85M318.3 27.8h0.85M314.1 35.2h0.85M310.7 32.8h0.85M307.9 32.7h0.85M306.1 50.3h0.85M322.4 34.0h0.85M316.8 30.7h0.85M296.2 31.9h0.85M313.3 43.2h0.85M312.3 31.7h0.85M311.1 32.0h0.85M304.3 37.5h0.85M310.2 33.2h0.85M307.3 33.4h0.85M313.9 42.9h0.85M311.3 47.6h0.85M303.0 40.3h0.85M305.7 37.5h0.85M313.1 39.0h0.85M319.1 32.1h0.85M305.2 37.5h0.85M314.2 32.7h0.85M317.7 43.3h0.85M304.2 40.4h0.85M318.4 25.7h0.85M313.7 35.1h0.85M304.2 45.0h0.85M313.8 33.9h0.85M315.1 38.9h0.85M317.0 38.1h0.85M314.9 30.2h0.85M310.0 37.8h0.85M296.3 51.0h0.85M310.3 32.0h0.85M301.9 40.5h0.85M312.7 33.6h0.85M310.1 32.8h0.85M308.1 37.2h0.85M308.7 40.8h0.85M311.7 37.4h0.85M314.9 42.0h0.85M316.0 36.7h0.85M311.5 32.9h0.85M310.5 40.3h0.85M313.8 34.3h0.85M304.7 31.1h0.85M314.4 41.0h0.85M314.7 29.3h0.85M311.3 37.9h0.85M307.1 39.6h0.85M311.3 32.8h0.85M305.2 42.3h0.85M314.6 31.7h0.85M306.6 42.3h0.85M316.0 34.1h0.85M321.8 32.7h0.85M306.3 43.4h0.85M311.4 38.5h0.85M312.7 31.6h0.85M305.6 37.4h0.85M320.7 29.5h0.85M320.4 35.5h0.85M306.0 39.5h0.85M315.8 31.3h0.85M300.1 41.5h0.85M306.0 40.3h0.85M301.3 38.7h0.85M307.8 30.6h0.85M311.1 37.7h0.85M309.2 31.6h0.85M313.7 27.7h0.85M315.6 38.1h0.85M322.3 38.2h0.85M314.6 37.2h0.85M312.7 30.1h0.85M321.0 36.8h0.85M310.8 31.4h0.85M321.2 36.8h0.85M305.6 41.5h0.85M323.6 33.5h0.85M314.8 33.9h0.85M308.8 42.6h0.85M330.4 32.4h0.85M311.8 40.5h0.85M310.7 40.5h0.85M317.3 30.3h0.85M306.3 37.8h0.85M317.4 36.6h0.85M319.7 28.0h0.85M315.4 32.8h0.85M313.1 37.9h0.85M306.8 36.9h0.85M305.7 39.5h0.85M307.5 35.4h0.85M313.8 33.0h0.85M319.2 31.7h0.85M317.4 36.6h0.85M306.5 37.0h0.85M307.6 36.0h0.85M310.9 45.7h0.85M310.1 44.7h0.85M315.1 29.5h0.85M299.0 43.3h0.85M300.9 43.0h0.85M318.5 36.8h0.85M311.3 35.6h0.85M314.0 34.7h0.85M309.4 35.5h0.85M319.3 31.7h0.85M314.7 30.4h0.85M308.4 31.0h0.85M311.4 40.1h0.85M314.3 33.7h0.85M316.1 33.9h0.85M314.7 37.3h0.85M315.6 23.8h0.85M304.9 42.2h0.85M311.9 47.4h0.85M311.1 34.2h0.85M321.2 36.9h0.85M323.5 36.1h0.85M311.3 40.3h0.85M307.9 35.5h0.85M309.3 36.3h0.85M317.0 33.0h0.85M314.4 33.6h0.85M317.6 21.9h0.85M311.3 37.6h0.85M306.2 43.0h0.85M313.8 42.3h0.85M318.1 38.1h0.85M311.6 31.5h0.85M311.2 34.6h0.85M313.9 33.9h0.85M330.2 24.2h0.85M319.3 32.5h0.85M311.1 41.3h0.85M312.5 30.7h0.85M314.9 34.9h0.85M300.6 40.6h0.85M306.4 34.5h0.85M315.3 37.2h0.85M310.8 47.3h0.85M314.9 32.9h0.85M313.9 35.6h0.85M299.7 32.3h0.85M304.4 48.5h0.85M311.4 35.5h0.85M309.2 42.0h0.85M312.7 44.6h0.85M317.1 43.2h0.85M311.8 38.5h0.85M310.0 36.3h0.85M302.5 36.3h0.85M307.0 34.8h0.85M319.5 35.9h0.85M319.6 38.8h0.85M317.8 39.9h0.85M309.0 41.2h0.85M310.6 34.4h0.85M319.4 45.1h0.85M306.8 46.3h0.85M317.3 31.2h0.85M314.1 37.9h0.85M314.7 34.2h0.85M305.1 38.6h0.85M317.5 39.0h0.85M316.3 40.8h0.85M306.8 37.8h0.85M314.5 40.8h0.85M313.4 38.7h0.85M313.3 46.3h0.85M299.9 39.7h0.85M326.8 33.9h0.85M301.9 39.9h0.85M304.2 35.4h0.85M313.8 44.4h0.85M315.2 39.0h0.85M318.4 35.9h0.85M307.5 37.3h0.85M314.4 34.7h0.85M308.6 35.8h0.85M303.8 33.9h0.85M312.0 34.9h0.85M312.7 43.1h0.85M314.2 35.9h0.85M305.7 33.1h0.85M314.7 31.8h0.85M315.0 30.7h0.85M313.3 36.0h0.85M318.3 33.1h0.85M310.4 38.2h0.85M312.8 44.5h0.85M311.0 34.3h0.85M310.7 39.2h0.85M313.9 39.5h0.85M304.5 50.4h0.85M323.1 33.6h0.85M305.5 39.1h0.85M314.9 25.2h0.85M312.6 29.4h0.85M315.1 42.4h0.85M318.5 27.8h0.85M320.5 38.8h0.85M310.4 39.4h0.85M321.3 32.6h0.85M312.4 33.9h0.85M319.2 24.5h0.85M320.7 29.8h0.85M317.8 27.4h0.85M307.1 35.1h0.85M317.3 27.5h0.85M316.0 32.6h0.85M319.7 33.2h0.85M315.3 35.0h0.85M322.9 32.1h0.85M312.4 46.0h0.85M312.9 39.7h0.85M308.2 38.6h0.85M299.4 40.4h0.85M308.8 30.3h0.85M304.3 44.1h0.85M315.0 28.6h0.85M323.0 30.5h0.85M310.4 38.2h0.85M305.9 30.5h0.85M308.2 43.3h0.85M318.0 27.5h0.85M319.5 34.9h0.85M315.4 36.0h0.85M314.9 31.1h0.85M307.3 34.5h0.85M310.4 40.0h0.85M305.5 45.9h0.85M308.8 34.6h0.85M316.6 37.5h0.85M310.5 31.9h0.85M306.7 30.4h0.85M319.1 40.0h0.85M323.3 36.1h0.85M314.4 39.6h0.85M318.0 33.8h0.85M314.5 46.3h0.85M302.7 32.3h0.85M306.9 41.5h0.85M319.4 33.1h0.85M316.4 35.3h0.85M314.2 33.5h0.85M312.3 36.5h0.85M319.0 45.5h0.85M302.0 41.8h0.85M312.5 41.1h0.85M318.6 38.6h0.85M317.2 30.7h0.85M302.6 47.0h0.85M319.5 30.1h0.85M320.0 37.7h0.85M298.3 44.5h0.85M306.8 43.6h0.85M308.6 34.0h0.85M303.6 37.8h0.85M318.4 31.8h0.85M301.8 49.5h0.85M323.2 37.0h0.85M309.4 31.5h0.85M303.0 41.6h0.85M320.0 29.5h0.85M312.5 35.2h0.85M311.0 39.3h0.85M324.6 30.3h0.85M317.4 40.4h0.85M310.9 36.2h0.85M304.7 43.7h0.85M309.4 34.2h0.85M312.9 32.3h0.85M306.5 36.6h0.85M321.1 33.3h0.85M315.5 28.7h0.85M301.2 48.1h0.85M310.2 29.7h0.85M311.9 39.6h0.85M302.5 34.9h0.85M314.0 31.7h0.85M317.1 39.9h0.85M315.1 33.8h0.85M312.2 33.5h0.85M311.7 38.2h0.85M310.8 41.6h0.85M327.5 30.0h0.85M314.5 39.9h0.85M316.2 34.4h0.85M309.7 42.0h0.85M316.1 38.0h0.85M307.8 40.7h0.85M317.1 34.4h0.85M316.2 45.9h0.85M301.6 42.2h0.85M305.7 31.7h0.85M311.1 39.5h0.85M312.8 30.8h0.85M304.2 36.0h0.85M312.6 32.5h0.85M303.8 47.2h0.85M307.6 37.0h0.85M309.3 34.5h0.85M312.7 35.0h0.85M316.1 29.9h0.85M303.9 48.1h0.85M312.1 40.3h0.85M319.3 37.4h0.85M312.7 29.0h0.85M303.2 43.6h0.85M316.4 38.2h0.85M302.9 28.8h0.85M306.4 32.4h0.85M313.4 31.3h0.85M321.7 31.1h0.85M309.2 41.5h0.85M314.4 31.7h0.85M317.3 44.5h0.85M305.4 37.2h0.85M306.2 28.8h0.85M316.1 38.9h0.85M318.2 37.1h0.85M300.8 39.4h0.85M308.6 31.8h0.85M306.1 41.9h0.85M310.8 46.4h0.85M315.2 26.6h0.85M317.7 41.2h0.85M312.7 30.6h0.85M322.8 27.5h0.85M312.0 27.4h0.85M305.2 30.2h0.85M318.9 40.5h0.85M310.1 30.6h0.85M312.1 38.4h0.85M303.6 33.2h0.85M311.9 40.1h0.85M312.9 38.6h0.85M305.2 26.4h0.85M314.3 31.6h0.85M311.8 34.9h0.85M315.3 32.0h0.85M321.0 34.5h0.85M315.6 38.7h0.85M318.6 36.9h0.85M302.3 36.1h0.85M323.4 36.0h0.85M315.8 37.9h0.85M308.7 34.2h0.85M308.7 43.1h0.85M314.6 44.6h0.85M315.4 44.9h0.85M315.2 30.1h0.85M322.7 35.5h0.85M319.5 35.7h0.85M310.6 37.8h0.85M305.9 32.4h0.85M307.3 35.3h0.85M304.5 38.1h0.85M314.3 45.9h0.85M323.3 33.4h0.85M315.1 58.9h0.85M312.0 60.8h0.85M306.1 62.7h0.85M300.1 66.4h0.85M307.7 54.8h0.85M307.2 65.6h0.85M305.2 65.5h0.85M313.1 71.0h0.85M302.6 62.2h0.85M312.8 70.7h0.85M311.2 66.1h0.85M300.1 59.6h0.85M320.1 57.4h0.85M323.3 53.8h0.85M307.7 51.4h0.85M313.6 62.4h0.85M322.4 59.9h0.85M307.9 52.6h0.85M309.0 67.8h0.85M314.2 68.6h0.85M315.0 60.0h0.85M313.4 61.8h0.85M301.0 74.5h0.85M311.9 54.1h0.85M312.0 62.9h0.85M315.9 69.7h0.85M290.0 69.2h0.85M319.3 53.2h0.85M297.6 65.8h0.85M311.7 63.4h0.85M302.4 59.9h0.85M310.8 66.1h0.85M323.6 60.5h0.85M305.6 46.7h0.85M316.4 59.2h0.85M308.8 55.1h0.85M314.2 48.7h0.85M310.2 62.2h0.85M311.4 69.7h0.85M308.9 62.3h0.85M315.0 50.1h0.85M307.6 62.3h0.85M315.7 54.9h0.85M314.7 63.0h0.85M299.9 53.7h0.85M300.3 64.4h0.85M310.8 66.0h0.85M314.8 56.7h0.85M316.4 65.5h0.85M312.5 64.0h0.85M301.2 65.6h0.85M302.8 55.0h0.85M307.2 62.9h0.85M309.2 59.4h0.85M303.0 64.1h0.85M304.7 53.2h0.85M310.1 71.0h0.85M306.9 55.0h0.85M318.4 71.0h0.85M307.6 60.5h0.85M310.9 80.8h0.85M310.4 67.9h0.85M312.4 48.8h0.85M302.4 54.8h0.85M312.3 61.6h0.85M321.1 57.3h0.85M311.5 61.6h0.85M310.4 76.7h0.85M311.3 70.9h0.85M317.9 55.7h0.85M313.9 58.0h0.85M310.2 62.4h0.85M309.6 58.4h0.85M319.6 57.6h0.85M314.1 71.7h0.85M313.6 67.5h0.85M318.5 66.8h0.85M320.6 49.7h0.85M322.2 59.0h0.85M298.2 59.6h0.85M300.5 63.2h0.85M299.8 56.8h0.85M311.4 62.1h0.85M304.3 61.0h0.85M308.9 62.1h0.85M309.5 60.0h0.85M315.2 49.6h0.85M306.3 63.1h0.85M306.9 58.4h0.85M306.7 63.5h0.85M317.6 58.6h0.85M307.8 64.2h0.85M307.9 49.0h0.85M311.2 58.6h0.85M305.8 66.5h0.85M309.8 57.7h0.85M295.4 53.0h0.85M309.6 60.7h0.85M312.3 62.4h0.85M306.4 53.7h0.85M302.4 62.1h0.85M302.0 68.1h0.85M300.9 51.4h0.85M308.2 49.9h0.85M320.1 52.7h0.85M309.2 59.9h0.85M304.2 50.8h0.85M297.4 69.8h0.85M316.1 74.5h0.85M300.0 67.2h0.85M309.4 67.2h0.85M306.2 67.0h0.85M315.3 64.3h0.85M318.9 58.4h0.85M319.5 54.7h0.85M320.3 40.9h0.85M309.6 56.1h0.85M309.5 68.4h0.85M314.2 61.2h0.85M320.6 49.4h0.85M304.2 72.7h0.85M311.6 47.2h0.85M311.7 53.1h0.85M319.1 67.1h0.85M305.9 70.9h0.85M304.1 68.8h0.85M313.3 59.9h0.85M300.3 61.6h0.85M294.6 60.9h0.85M297.5 72.1h0.85M303.2 46.6h0.85M313.3 63.2h0.85M306.2 76.3h0.85M314.5 60.9h0.85M305.3 42.7h0.85M312.6 67.2h0.85M305.7 52.9h0.85M309.2 50.4h0.85M309.5 66.6h0.85M319.3 61.2h0.85M310.8 66.2h0.85M318.6 57.5h0.85M301.5 57.9h0.85M301.3 57.3h0.85M308.7 63.9h0.85M310.5 61.8h0.85M307.2 64.8h0.85M315.3 65.4h0.85M319.2 57.5h0.85M307.9 73.1h0.85M310.8 64.0h0.85M307.3 68.4h0.85M306.9 55.3h0.85M309.1 58.6h0.85M314.9 57.8h0.85M310.3 59.9h0.85M311.7 56.8h0.85M316.7 50.5h0.85M307.0 57.3h0.85M313.7 60.9h0.85M312.7 58.6h0.85M304.8 55.0h0.85M307.3 58.4h0.85M311.3 63.5h0.85M315.9 59.5h0.85M304.6 55.4h0.85M309.9 63.8h0.85M322.2 60.1h0.85M320.9 71.6h0.85M302.7 71.0h0.85M316.9 68.9h0.85M309.4 67.9h0.85M306.4 61.7h0.85M309.6 73.4h0.85M308.1 68.2h0.85M309.9 56.7h0.85M311.1 65.6h0.85M304.9 66.7h0.85M304.9 56.6h0.85M310.9 59.6h0.85M303.1 52.0h0.85M309.7 63.1h0.85M306.5 63.4h0.85M299.6 66.2h0.85M312.2 62.8h0.85M305.5 62.9h0.85M310.3 68.4h0.85M311.3 62.8h0.85M304.8 68.2h0.85M317.1 56.6h0.85M313.7 62.7h0.85M309.2 53.0h0.85M320.9 46.7h0.85M311.5 58.6h0.85M316.9 57.1h0.85M309.8 65.5h0.85M312.5 57.4h0.85M313.9 63.2h0.85M315.9 56.8h0.85M309.2 59.0h0.85M304.1 64.3h0.85M312.2 70.4h0.85M307.4 64.5h0.85M316.9 59.2h0.85M309.9 62.3h0.85M305.0 55.9h0.85M316.7 61.1h0.85M309.0 53.3h0.85M310.3 69.1h0.85M302.0 57.1h0.85M316.7 69.5h0.85M319.6 55.7h0.85M313.4 55.7h0.85M312.9 58.4h0.85M310.8 70.1h0.85M311.7 59.4h0.85M309.9 63.2h0.85M306.2 63.6h0.85M313.4 71.0h0.85M296.2 56.4h0.85M301.5 69.0h0.85M325.3 59.5h0.85M310.3 68.9h0.85M293.7 63.6h0.85M289.4 66.7h0.85M306.2 59.0h0.85M311.7 57.2h0.85M316.7 60.0h0.85M312.0 77.8h0.85M306.6 68.2h0.85M304.2 70.9h0.85M315.7 61.1h0.85M315.9 70.8h0.85M318.4 59.6h0.85M309.1 68.9h0.85M300.0 59.5h0.85M312.6 64.6h0.85M321.5 70.6h0.85M311.6 64.0h0.85M301.0 62.1h0.85M311.2 59.7h0.85M309.9 65.4h0.85M303.4 59.0h0.85M298.1 71.4h0.85M302.7 51.7h0.85M314.5 59.1h0.85M315.7 57.8h0.85M323.2 63.3h0.85M310.5 62.1h0.85M308.2 67.1h0.85M322.4 56.0h0.85M302.5 66.9h0.85M316.4 50.2h0.85M305.1 55.9h0.85M313.1 64.1h0.85M304.8 55.1h0.85M313.9 47.0h0.85M313.6 59.6h0.85M321.8 65.5h0.85M305.8 60.5h0.85M307.7 57.1h0.85M310.0 67.7h0.85M299.8 62.0h0.85M319.1 64.4h0.85M304.3 57.3h0.85M304.0 52.1h0.85M316.9 60.4h0.85M305.0 53.0h0.85M307.0 58.7h0.85M320.5 56.2h0.85M310.2 68.4h0.85M313.8 59.4h0.85M295.5 73.6h0.85M313.3 57.9h0.85M308.9 55.4h0.85M303.8 53.0h0.85M312.7 64.2h0.85M310.6 66.4h0.85M312.9 61.6h0.85M303.9 66.6h0.85M317.1 64.0h0.85M317.5 56.7h0.85M303.2 71.0h0.85M305.8 63.9h0.85M308.3 61.9h0.85M307.8 58.3h0.85M298.1 76.3h0.85M310.8 48.6h0.85M303.7 55.3h0.85M304.8 45.8h0.85M313.2 71.5h0.85M307.9 66.7h0.85M313.3 52.6h0.85M317.3 48.9h0.85M305.8 59.9h0.85M317.5 60.6h0.85M308.7 56.4h0.85M310.1 61.7h0.85M314.2 69.6h0.85M314.2 60.6h0.85M308.5 72.2h0.85M310.8 61.1h0.85M320.9 69.3h0.85M313.1 60.0h0.85M305.5 69.3h0.85M306.6 68.4h0.85M304.5 63.2h0.85M312.1 61.9h0.85M311.0 63.7h0.85M302.4 55.8h0.85M308.6 73.5h0.85M308.7 55.6h0.85M305.3 62.6h0.85M317.0 56.2h0.85M313.1 62.0h0.85M307.2 55.8h0.85M308.5 57.0h0.85M312.9 49.3h0.85M316.7 64.9h0.85M313.2 70.5h0.85M313.3 49.6h0.85M309.8 64.4h0.85M305.2 55.1h0.85M312.2 64.3h0.85M306.8 60.5h0.85M306.3 58.5h0.85M309.1 68.6h0.85M299.3 61.4h0.85M319.7 61.4h0.85M310.5 66.7h0.85M303.1 55.0h0.85M299.0 54.2h0.85M311.1 66.7h0.85M306.9 57.6h0.85M312.1 65.0h0.85M311.1 48.8h0.85M306.0 45.8h0.85M311.0 55.7h0.85M305.3 72.1h0.85M317.9 62.9h0.85M311.2 62.3h0.85M305.8 61.9h0.85M321.6 53.3h0.85M305.3 63.4h0.85M315.1 65.7h0.85M303.4 61.9h0.85M307.8 53.9h0.85M310.0 58.3h0.85M315.3 63.1h0.85M304.6 63.1h0.85M307.2 57.9h0.85M306.4 69.0h0.85M306.9 50.9h0.85M304.6 67.8h0.85M323.1 51.8h0.85M307.3 59.8h0.85M300.6 66.0h0.85M309.2 63.4h0.85M323.7 56.8h0.85M314.5 65.9h0.85M305.5 58.5h0.85M319.3 64.1h0.85M310.4 54.2h0.85M315.1 63.8h0.85M323.4 68.1h0.85M314.6 62.2h0.85M309.9 57.9h0.85M311.5 62.7h0.85M313.6 67.7h0.85M311.5 57.6h0.85M314.6 70.5h0.85M304.2 65.3h0.85M313.0 64.3h0.85M312.7 60.2h0.85M308.9 72.6h0.85M320.4 50.1h0.85M293.5 67.7h0.85M305.2 59.0h0.85M299.4 65.9h0.85M309.2 58.1h0.85M315.2 76.1h0.85M318.8 67.2h0.85M306.9 66.3h0.85M309.3 69.0h0.85M313.2 60.5h0.85M313.0 56.1h0.85M314.5 70.2h0.85M307.2 65.6h0.85M299.0 69.8h0.85M315.0 53.7h0.85M320.5 59.9h0.85M298.6 54.9h0.85M315.0 58.6h0.85M316.5 50.0h0.85M308.9 68.0h0.85M305.2 66.8h0.85M307.2 64.2h0.85M311.5 75.5h0.85M301.7 68.2h0.85M317.8 52.5h0.85M310.0 76.3h0.85M316.1 40.9h0.85M308.0 50.7h0.85M311.4 56.4h0.85M306.0 56.8h0.85M311.4 58.1h0.85M303.8 61.2h0.85M312.1 55.4h0.85M316.5 49.3h0.85M312.1 58.4h0.85M319.4 55.3h0.85M305.3 53.7h0.85M322.0 62.9h0.85M302.7 60.8h0.85M303.5 72.6h0.85M312.1 47.8h0.85M310.8 67.1h0.85M309.5 64.6h0.85M308.8 63.0h0.85M310.8 56.6h0.85M311.7 62.1h0.85M309.3 57.1h0.85M303.1 64.4h0.85M314.7 44.8h0.85M306.1 71.0h0.85M315.3 55.7h0.85M318.0 53.3h0.85M304.5 75.1h0.85M306.7 60.7h0.85M299.1 57.1h0.85M302.1 62.2h0.85M297.9 70.8h0.85M307.3 58.0h0.85M305.5 67.2h0.85M319.2 56.8h0.85M319.7 69.8h0.85M318.0 61.7h0.85M300.1 67.8h0.85M306.9 63.3h0.85M297.6 62.2h0.85M311.0 55.1h0.85M311.4 72.0h0.85M311.0 56.8h0.85M324.6 44.4h0.85M303.7 65.4h0.85M305.8 47.4h0.85M311.1 66.5h0.85M304.5 72.1h0.85M312.7 68.6h0.85M299.8 63.5h0.85M319.6 72.5h0.85M317.8 59.8h0.85M310.7 57.2h0.85M316.5 55.5h0.85M310.3 47.9h0.85M300.0 75.0h0.85M309.9 62.8h0.85M295.6 64.2h0.85M322.6 49.0h0.85M294.4 63.6h0.85M306.1 60.8h0.85M301.5 54.4h0.85M301.7 67.3h0.85M309.2 66.9h0.85M302.7 66.8h0.85M306.7 62.7h0.85M315.4 60.5h0.85M307.3 51.1h0.85M309.9 66.5h0.85M305.5 61.9h0.85M298.3 55.2h0.85M312.1 69.4h0.85M307.5 51.0h0.85M307.1 51.8h0.85M307.7 74.5h0.85M311.4 60.1h0.85M316.1 57.6h0.85M311.6 62.4h0.85M312.3 51.3h0.85M314.0 66.3h0.85M314.8 25.9h0.85M321.6 36.2h0.85M326.1 34.2h0.85M328.7 34.7h0.85M322.9 31.1h0.85M327.8 34.0h0.85M328.8 33.3h0.85M323.6 35.2h0.85M328.3 35.1h0.85M313.5 35.0h0.85M314.0 33.0h0.85M322.7 32.8h0.85M323.7 31.7h0.85M326.9 33.4h0.85M322.1 26.3h0.85M322.2 33.8h0.85M321.8 33.6h0.85M324.2 30.2h0.85M331.8 36.6h0.85M325.5 32.4h0.85M330.7 29.2h0.85M321.7 35.3h0.85M330.4 31.3h0.85M322.2 33.4h0.85M319.1 31.3h0.85M324.9 26.4h0.85M328.9 34.4h0.85M331.3 28.9h0.85M319.7 30.5h0.85M319.5 37.6h0.85M321.2 31.7h0.85M327.0 33.6h0.85M333.2 29.8h0.85M330.4 32.9h0.85M320.2 32.9h0.85M319.1 36.5h0.85M322.4 35.0h0.85M332.4 31.0h0.85M321.6 32.8h0.85M320.8 34.7h0.85M326.9 30.6h0.85M322.6 34.3h0.85M318.8 36.7h0.85M322.1 32.0h0.85M321.4 36.5h0.85M330.1 35.7h0.85M329.2 32.7h0.85M334.4 34.2h0.85M328.2 33.9h0.85M329.7 33.2h0.85M325.2 28.5h0.85M336.2 29.3h0.85M315.3 30.7h0.85M335.6 35.5h0.85M323.0 33.2h0.85M325.9 27.6h0.85M324.3 33.2h0.85M331.8 29.5h0.85M314.8 28.6h0.85M327.6 32.7h0.85M311.7 49.9h0.85M309.4 40.8h0.85M313.0 51.3h0.85M313.6 56.5h0.85M305.4 35.0h0.85M303.0 61.8h0.85M306.9 51.4h0.85M310.9 53.4h0.85M325.4 45.9h0.85M310.2 45.4h0.85M312.1 52.1h0.85M306.6 56.9h0.85M316.2 51.7h0.85M310.5 47.6h0.85M303.6 52.9h0.85M306.6 46.0h0.85M315.5 43.5h0.85M308.7 54.1h0.85M319.4 44.9h0.85M316.0 45.1h0.85M312.7 51.9h0.85M305.9 55.2h0.85M319.1 49.3h0.85M312.2 42.0h0.85M319.0 49.4h0.85M305.3 53.6h0.85M304.4 44.9h0.85M301.4 57.3h0.85M320.9 45.2h0.85M308.1 45.5h0.85M308.5 52.3h0.85M317.6 43.0h0.85M313.0 38.2h0.85M317.9 48.5h0.85M307.8 58.2h0.85M310.5 57.2h0.85M315.8 58.9h0.85M307.4 49.3h0.85M312.7 47.8h0.85M317.9 44.7h0.85M315.5 57.2h0.85M302.2 43.2h0.85M306.9 45.7h0.85M312.8 48.0h0.85M311.4 46.2h0.85M310.6 51.9h0.85M314.4 44.3h0.85M310.5 44.4h0.85M310.2 40.4h0.85M315.3 53.0h0.85M310.4 44.9h0.85M308.9 45.0h0.85M304.1 58.8h0.85M325.8 41.6h0.85M305.7 52.5h0.85M313.7 39.6h0.85M302.4 52.3h0.85M302.0 57.5h0.85M308.8 49.5h0.85M311.0 45.6h0.85M310.4 47.2h0.85M316.6 48.4h0.85M310.9 45.8h0.85M308.1 44.6h0.85M311.0 60.0h0.85M316.0 50.4h0.85M318.5 55.1h0.85M311.9 48.0h0.85M306.1 50.5h0.85M309.6 39.5h0.85M305.2 60.6h0.85M312.0 52.0h0.85M311.9 46.2h0.85M313.1 55.5h0.85M309.6 52.1h0.85M315.6 46.1h0.85M311.8 44.6h0.85M313.7 46.8h0.85M316.2 44.4h0.85M318.6 47.1h0.85M307.2 43.6h0.85M314.0 43.9h0.85M319.1 56.7h0.85M313.3 40.5h0.85M310.9 44.6h0.85M302.8 51.6h0.85M320.9 45.8h0.85M314.6 56.7h0.85M306.7 47.0h0.85M312.2 51.8h0.85M305.8 50.3h0.85M310.5 54.7h0.85M303.8 45.6h0.85M308.7 47.1h0.85M314.3 45.2h0.85M323.3 44.8h0.85M314.8 55.1h0.85M315.3 47.8h0.85M307.3 47.5h0.85M314.0 49.7h0.85M313.6 52.4h0.85M307.0 43.4h0.85M317.5 46.1h0.85M303.9 60.2h0.85M307.2 43.4h0.85M315.4 42.2h0.85M307.1 55.3h0.85M307.3 64.0h0.85M311.4 65.1h0.85M311.6 49.3h0.85M308.1 47.7h0.85M308.7 48.9h0.85M314.5 41.4h0.85M306.9 36.4h0.85M317.8 48.6h0.85M310.9 48.7h0.85M315.5 50.9h0.85M314.8 48.0h0.85M310.5 48.7h0.85M302.6 55.5h0.85M303.9 43.0h0.85M314.0 49.3h0.85M314.7 59.2h0.85M319.4 57.3h0.85M310.0 61.3h0.85M307.0 48.5h0.85M315.5 47.7h0.85M310.5 46.9h0.85M317.1 34.2h0.85M316.7 55.4h0.85M306.3 63.9h0.85M297.3 71.5h0.85M337.6 43.1h0.85M321.0 55.2h0.85M303.6 49.2h0.85M305.1 38.5h0.85M293.4 79.3h0.85M306.8 63.7h0.85M310.1 62.7h0.85M291.7 42.7h0.85M313.3 70.0h0.85M295.6 47.9h0.85M296.3 65.1h0.85M310.4 56.5h0.85M300.5 60.8h0.85M307.3 45.6h0.85M310.3 46.7h0.85M316.5 64.8h0.85M300.1 64.2h0.85M307.7 46.1h0.85M297.9 32.7h0.85M295.7 60.9h0.85M319.1 47.2h0.85M308.6 60.8h0.85M314.8 62.2h0.85M319.3 66.7h0.85M299.4 61.6h0.85M307.2 64.1h0.85M304.0 67.7h0.85M320.2 44.2h0.85M301.6 59.6h0.85M311.9 58.0h0.85M315.3 39.4h0.85M314.8 72.3h0.85M318.1 62.0h0.85M304.6 61.6h0.85M306.3 33.8h0.85M300.9 55.4h0.85M301.8 42.9h0.85M304.7 50.8h0.85M307.7 55.3h0.85M308.7 69.9h0.85M308.4 61.7h0.85M303.0 65.5h0.85M303.6 47.3h0.85M294.6 68.5h0.85M301.7 59.4h0.85M318.3 63.5h0.85M329.4 54.1h0.85M316.6 65.7h0.85M300.4 56.7h0.85M301.4 41.7h0.85M310.0 45.2h0.85M323.8 45.6h0.85M301.6 57.3h0.85M301.8 56.7h0.85M300.9 36.1h0.85M322.2 62.2h0.85M308.5 49.5h0.85M305.5 60.2h0.85M293.1 44.8h0.85M298.1 73.6h0.85M296.4 72.4h0.85M306.2 56.5h0.85M320.5 68.2h0.85M316.4 41.0h0.85M318.4 79.5h0.85M306.0 49.2h0.85M296.1 70.2h0.85M309.9 56.1h0.85M294.6 78.7h0.85M315.8 55.7h0.85M321.8 42.7h0.85M315.8 42.0h0.85M321.1 52.1h0.85M319.2 50.2h0.85M311.0 72.0h0.85M298.0 57.4h0.85M298.6 67.9h0.85M301.0 50.8h0.85M305.0 72.3h0.85M296.6 55.6h0.85M303.7 48.3h0.85M299.1 53.8h0.85M309.0 34.3h0.85M309.3 39.4h0.85M307.1 87.9h0.85M297.3 55.1h0.85M304.5 69.7h0.85M302.3 31.0h0.85M290.9 58.5h0.85M309.5 70.9h0.85M301.6 65.3h0.85M296.4 74.1h0.85M306.3 46.5h0.85M308.8 80.4h0.85M298.5 38.6h0.85M296.8 39.8h0.85M306.5 60.9h0.85M305.4 58.8h0.85M318.9 52.0h0.85M294.5 24.0h0.85M309.4 46.5h0.85M304.5 61.7h0.85M311.6 34.1h0.85M297.4 57.0h0.85M305.6 72.1h0.85M302.0 27.1h0.85M318.7 33.1h0.85M297.3 61.5h0.85M309.4 63.5h0.85M302.6 87.0h0.85M312.4 46.0h0.85M319.5 32.3h0.85M301.1 60.0h0.85M308.4 42.6h0.85M322.8 76.6h0.85M297.7 61.2h0.85M300.7 49.9h0.85M316.9 57.8h0.85M305.9 57.4h0.85M295.3 73.1h0.85M299.5 74.3h0.85M302.4 49.6h0.85M321.9 58.7h0.85M300.6 48.5h0.85M313.1 82.2h0.85M313.1 50.5h0.85M295.8 46.6h0.85M305.8 59.4h0.85M300.4 73.9h0.85M297.4 46.0h0.85M312.0 62.7h0.85M303.1 69.5h0.85M292.9 78.9h0.85M328.9 83.3h0.85M308.2 83.5h0.85M307.5 74.6h0.85M305.0 58.7h0.85M312.2 31.5h0.85M304.9 80.0h0.85M316.2 60.6h0.85M308.9 75.4h0.85M310.4 29.5h0.85M297.6 51.9h0.85M308.4 49.7h0.85M306.0 79.4h0.85M316.4 64.4h0.85M307.2 56.9h0.85M310.6 59.4h0.85M299.8 66.9h0.85M298.7 55.4h0.85M303.4 39.9h0.85M313.0 55.0h0.85M295.4 54.9h0.85M293.2 76.1h0.85M312.2 83.8h0.85M301.3 65.9h0.85M297.3 44.1h0.85M306.1 61.7h0.85M316.2 52.3h0.85M318.0 69.5h0.85M298.3 53.5h0.85M297.9 79.8h0.85M301.5 68.4h0.85M316.1 52.5h0.85M302.1 60.8h0.85M299.3 38.4h0.85M297.4 60.7h0.85M308.9 80.6h0.85M288.8 63.0h0.85M295.5 72.1h0.85M313.9 57.8h0.85M321.7 50.8h0.85M301.7 41.3h0.85M300.5 57.6h0.85M313.7 73.8h0.85M304.3 45.8h0.85M303.7 50.0h0.85M302.3 50.4h0.85M298.3 55.3h0.85M301.9 53.7h0.85M293.2 58.0h0.85M312.7 65.0h0.85M301.5 40.1h0.85M294.1 39.7h0.85M300.6 51.7h0.85M289.4 65.3h0.85M291.7 46.5h0.85M299.8 67.5h0.85M325.3 51.1h0.85M304.3 50.6h0.85M305.0 53.6h0.85M320.4 89.7h0.85M312.1 48.3h0.85M316.8 43.0h0.85M316.1 63.2h0.85M300.6 81.3h0.85M310.5 63.9h0.85M317.5 44.5h0.85M318.9 52.5h0.85M284.0 52.4h0.85M285.6 36.8h0.85M308.0 39.7h0.85M289.4 49.8h0.85M294.1 86.6h0.85M319.2 83.7h0.85M322.6 58.4h0.85M314.8 49.1h0.85M320.1 80.2h0.85M312.3 46.0h0.85M286.7 86.9h0.85M305.1 68.5h0.85M317.5 41.0h0.85M311.0 59.8h0.85M314.4 59.4h0.85M290.9 88.7h0.85M294.2 76.3h0.85M316.2 47.1h0.85M310.8 55.9h0.85M292.0 45.4h0.85M321.2 54.2h0.85M303.4 62.0h0.85M284.1 76.8h0.85M312.8 84.0h0.85M297.3 44.9h0.85M296.9 75.6h0.85M309.3 56.4h0.85M304.0 41.6h0.85M319.7 60.3h0.85M303.3 78.8h0.85M290.9 75.0h0.85M297.1 80.3h0.85M286.8 48.8h0.85M308.4 60.9h0.85M298.1 66.6h0.85M291.7 58.3h0.85M293.2 81.4h0.85M305.1 67.9h0.85M308.0 40.0h0.85M314.1 49.7h0.85M364.6 76.2h0.85M347.2 78.2h0.85M324.3 68.2h0.85M373.1 34.0h0.85M292.5 49.7h0.85M331.2 31.1h0.85M303.9 81.9h0.85M319.7 31.1h0.85M300.3 61.4h0.85M301.0 54.2h0.85M333.9 51.7h0.85M330.7 79.8h0.85M284.6 86.3h0.85M301.8 23.3h0.85M355.6 60.9h0.85M333.9 36.0h0.85M356.9 42.3h0.85M351.8 36.7h0.85M337.2 66.4h0.85M318.2 54.5h0.85" stroke="#000" stroke-opacity="0.5" stroke-width="0.85" fill="none" filter="url(#bl)"/>
<rect x="283.00" y="20.60" width="94.60" height="70.70" fill="none" stroke="#444" stroke-width="0.9"/>
<line x1="321.40" y1="20.60" x2="321.40" y2="91.30" stroke="#444" stroke-width="0.9" />
<line x1="283.00" y1="47.40" x2="377.60" y2="47.40" stroke="#444" stroke-width="0.9" />
<text x="337.30" y="12.50" font-size="8.3" text-anchor="middle" font-weight="normal" fill="#1a1a1a" stroke="#1a1a1a" stroke-width="0.22">Gli2<tspan font-weight="bold">Δ</tspan>N<tspan font-size="5.15" dy="1.83">2</tspan><tspan dy="-1.83">Rag1-/-</tspan></text>
<text x="345.50" y="73.80" font-size="8.05" text-anchor="middle" font-weight="normal" fill="#1a1a1a" stroke="#111" stroke-width="0.3">29.9</text>
<text x="366.50" y="73.80" font-size="8.05" text-anchor="middle" font-weight="normal" fill="#1a1a1a" stroke="#111" stroke-width="0.3">7.2</text>
<text x="345.50" y="88.20" font-size="8.05" text-anchor="middle" font-weight="normal" fill="#1a1a1a" stroke="#111" stroke-width="0.3">60.4</text>
<text x="366.50" y="88.20" font-size="8.05" text-anchor="middle" font-weight="normal" fill="#1a1a1a" stroke="#111" stroke-width="0.3">2.5</text>
<line x1="341.60" y1="79.00" x2="375.60" y2="79.00" stroke="#111" stroke-width="1.3" />
<line x1="357.80" y1="69.00" x2="357.80" y2="87.70" stroke="#111" stroke-width="1.2" />
<line x1="160.70" y1="28.80" x2="160.70" y2="97.70" stroke="#000" stroke-width="1.6" />
<polygon points="160.70,22.00 156.60,29.80 164.80,29.80" fill="#000"/>
<line x1="160.70" y1="97.70" x2="377.20" y2="97.70" stroke="#000" stroke-width="1.6" />
<polygon points="384.00,97.70 376.20,93.60 376.20,101.80" fill="#000"/>
<text x="154.40" y="55.50" font-size="8.1" text-anchor="middle" font-weight="normal" fill="#1a1a1a" transform="rotate(-90 154.40 55.50)" stroke="#1a1a1a" stroke-width="0.22">CD8</text>
<text x="265.30" y="107.90" font-size="8.2" text-anchor="start" font-weight="normal" fill="#1a1a1a" stroke="#1a1a1a" stroke-width="0.22">CD4</text>
<line x1="411.70" y1="10.10" x2="411.70" y2="93.60" stroke="#6a6a6a" stroke-width="1.0" />
<line x1="411.20" y1="93.60" x2="505.00" y2="93.60" stroke="#6a6a6a" stroke-width="1.0" />
<line x1="411.70" y1="93.60" x2="411.70" y2="95.20" stroke="#6a6a6a" stroke-width="0.6" />
<line x1="458.35" y1="93.60" x2="458.35" y2="95.20" stroke="#6a6a6a" stroke-width="0.6" />
<line x1="505.00" y1="93.60" x2="505.00" y2="95.20" stroke="#6a6a6a" stroke-width="0.6" />
<line x1="410.20" y1="93.60" x2="411.70" y2="93.60" stroke="#6a6a6a" stroke-width="0.6" />
<text transform="translate(408.80 95.76) scale(1.0 1)" font-size="6.0" text-anchor="end" font-weight="normal" fill="#1a1a1a" stroke="#1a1a1a" stroke-width="0.3">0</text>
<line x1="410.20" y1="79.68" x2="411.70" y2="79.68" stroke="#6a6a6a" stroke-width="0.6" />
<text transform="translate(408.80 81.84) scale(1.0 1)" font-size="6.0" text-anchor="end" font-weight="normal" fill="#1a1a1a" stroke="#1a1a1a" stroke-width="0.3">0.2</text>
<line x1="410.20" y1="65.77" x2="411.70" y2="65.77" stroke="#6a6a6a" stroke-width="0.6" />
<text transform="translate(408.80 67.93) scale(1.0 1)" font-size="6.0" text-anchor="end" font-weight="normal" fill="#1a1a1a" stroke="#1a1a1a" stroke-width="0.3">0.4</text>
<line x1="410.20" y1="51.85" x2="411.70" y2="51.85" stroke="#6a6a6a" stroke-width="0.6" />
<text transform="translate(408.80 54.01) scale(1.0 1)" font-size="6.0" text-anchor="end" font-weight="normal" fill="#1a1a1a" stroke="#1a1a1a" stroke-width="0.3">0.6</text>
<line x1="410.20" y1="37.93" x2="411.70" y2="37.93" stroke="#6a6a6a" stroke-width="0.6" />
<text transform="translate(408.80 40.09) scale(1.0 1)" font-size="6.0" text-anchor="end" font-weight="normal" fill="#1a1a1a" stroke="#1a1a1a" stroke-width="0.3">0.8</text>
<line x1="410.20" y1="24.02" x2="411.70" y2="24.02" stroke="#6a6a6a" stroke-width="0.6" />
<text transform="translate(408.80 26.18) scale(1.0 1)" font-size="6.0" text-anchor="end" font-weight="normal" fill="#1a1a1a" stroke="#1a1a1a" stroke-width="0.3">1</text>
<line x1="410.20" y1="10.10" x2="411.70" y2="10.10" stroke="#6a6a6a" stroke-width="0.6" />
<text transform="translate(408.80 12.26) scale(1.0 1)" font-size="6.0" text-anchor="end" font-weight="normal" fill="#1a1a1a" stroke="#1a1a1a" stroke-width="0.3">1.2</text>
<rect x="425.80" y="24.00" width="19.20" height="69.60" fill="#d6d6d6" stroke="#1a1a1a" stroke-width="1.0"/>
<line x1="435.50" y1="18.00" x2="435.50" y2="29.60" stroke="#555" stroke-width="0.8" />
<rect x="473.30" y="52.00" width="19.00" height="41.60" fill="#fff" stroke="#1a1a1a" stroke-width="1.0"/>
<line x1="482.50" y1="45.80" x2="482.50" y2="57.90" stroke="#777" stroke-width="0.8" />
<text x="439.00" y="105.50" font-size="8.1" text-anchor="middle" font-weight="normal" fill="#1a1a1a" stroke="#1a1a1a" stroke-width="0.22">Rag1-/-</text>
<text x="464.00" y="105.50" font-size="8.2" text-anchor="start" font-weight="normal" fill="#1a1a1a" stroke="#1a1a1a" stroke-width="0.22">Gli2<tspan font-weight="bold">Δ</tspan>N<tspan font-size="5.08" dy="1.80">2</tspan><tspan dy="-1.80">Rag1-/-</tspan></text>
<text x="395.70" y="47.00" font-size="8.2" text-anchor="middle" font-weight="normal" fill="#1a1a1a" transform="rotate(-90 395.70 47.00)" stroke="#1a1a1a" stroke-width="0.22">Relative proportion of DP</text>
<path d="M31.8 176.4 L32.6 176.4 L33.4 175.6 L34.2 175.7 L35.0 175.0 L35.8 174.7 L36.6 174.9 L37.4 174.0 L38.2 173.5 L39.0 173.2 L39.8 172.9 L40.6 172.0 L41.4 171.7 L42.2 170.7 L43.0 170.4 L43.8 169.8 L44.6 168.8 L45.4 168.1 L46.2 167.3 L47.0 167.1 L47.8 166.4 L48.6 165.7 L49.4 165.1 L50.2 163.6 L51.0 163.1 L51.8 162.1 L52.6 161.3 L53.4 159.4 L54.2 158.5 L55.0 156.6 L55.8 156.2 L56.6 154.0 L57.4 153.1 L58.2 153.1 L59.0 149.8 L59.8 150.2 L60.6 148.6 L61.4 146.8 L62.2 145.9 L63.0 144.5 L63.8 143.4 L64.6 141.1 L65.4 139.6 L66.2 138.5 L67.0 137.4 L67.8 137.3 L68.6 135.9 L69.4 136.7 L70.2 133.9 L71.0 134.1 L71.8 133.8 L72.6 132.9 L73.4 136.4 L74.2 133.9 L75.0 136.3 L75.8 137.3 L76.6 140.2 L77.4 139.2 L78.2 142.9 L79.0 143.4 L79.8 145.7 L80.6 147.5 L81.4 150.8 L82.2 152.1 L83.0 155.2 L83.8 158.0 L84.6 161.2 L85.4 161.8 L86.2 165.9 L87.0 167.5 L87.8 168.2 L88.6 169.5 L89.4 170.3 L90.2 172.1 L91.0 172.9 L91.8 174.3 L92.6 175.7 L93.4 177.0 L94.2 178.0 L95.0 178.6 L95.8 179.4 L96.6 179.4 L97.4 179.8 L98.2 180.5 L99.0 180.9 L99.8 181.2 L100.6 181.2 L101.4 181.2 L102.2 181.2 L103.0 181.2 L103.8 181.2 L104.6 181.2 L105.4 181.2 L106.2 181.2 L107.0 181.2 L107.8 181.2" fill="none" stroke="#9a9a9a" stroke-width="0.75" stroke-linejoin="round"/>
<path d="M31.8 179.7 L32.6 179.4 L33.4 179.2 L34.2 179.3 L35.0 179.0 L35.8 178.9 L36.6 178.7 L37.4 178.7 L38.2 178.8 L39.0 178.5 L39.8 178.2 L40.6 178.4 L41.4 178.1 L42.2 178.1 L43.0 177.9 L43.8 177.5 L44.6 177.3 L45.4 177.2 L46.2 176.8 L47.0 176.9 L47.8 176.8 L48.6 176.3 L49.4 176.0 L50.2 175.6 L51.0 175.2 L51.8 174.9 L52.6 174.6 L53.4 174.2 L54.2 174.0 L55.0 173.4 L55.8 173.5 L56.6 173.1 L57.4 172.4 L58.2 171.6 L59.0 171.9 L59.8 171.8 L60.6 170.9 L61.4 170.5 L62.2 170.1 L63.0 170.1 L63.8 169.2 L64.6 169.4 L65.4 168.6 L66.2 168.6 L67.0 167.9 L67.8 167.4 L68.6 166.3 L69.4 165.8 L70.2 165.0 L71.0 164.3 L71.8 163.1 L72.6 161.7 L73.4 161.2 L74.2 160.3 L75.0 158.6 L75.8 157.2 L76.6 155.9 L77.4 155.3 L78.2 153.9 L79.0 151.9 L79.8 151.4 L80.6 149.8 L81.4 148.6 L82.2 148.7 L83.0 147.4 L83.8 145.4 L84.6 144.8 L85.4 144.0 L86.2 142.2 L87.0 141.5 L87.8 141.0 L88.6 138.0 L89.4 138.0 L90.2 136.9 L91.0 135.7 L91.8 134.0 L92.6 135.4 L93.4 134.9 L94.2 136.1 L95.0 135.9 L95.8 135.1 L96.6 134.1 L97.4 134.4 L98.2 136.0 L99.0 135.2 L99.8 136.7 L100.6 137.2 L101.4 137.5 L102.2 140.7 L103.0 140.4 L103.8 143.3 L104.6 142.0 L105.4 143.5 L106.2 147.2 L107.0 148.8 L107.8 150.4 L108.6 153.0 L109.4 154.4 L110.2 157.6 L111.0 160.0 L111.8 162.9 L112.6 165.9 L113.4 167.9 L114.2 170.1 L115.0 171.8 L115.8 173.7 L116.6 175.3 L117.4 176.4 L118.2 177.6 L119.0 178.2 L119.8 179.4 L120.6 179.8 L121.4 180.4 L122.2 180.7 L123.0 181.2 L123.8 181.2 L124.6 181.2 L125.4 181.2 L126.2 181.2 L127.0 181.2 L127.8 181.2 L128.6 181.2 L129.4 181.2" fill="none" stroke="#5a5a5a" stroke-width="0.85" stroke-linejoin="round"/>
<path d="M31.8 179.5 L32.6 179.5 L33.4 179.7 L34.2 179.2 L35.0 179.3 L35.8 179.2 L36.6 179.2 L37.4 178.9 L38.2 179.0 L39.0 179.1 L39.8 179.1 L40.6 179.0 L41.4 178.5 L42.2 178.5 L43.0 178.3 L43.8 177.9 L44.6 177.8 L45.4 178.0 L46.2 177.7 L47.0 177.5 L47.8 177.6 L48.6 177.0 L49.4 177.0 L50.2 176.7 L51.0 176.4 L51.8 176.3 L52.6 176.0 L53.4 175.8 L54.2 175.5 L55.0 175.7 L55.8 174.9 L56.6 174.9 L57.4 174.4 L58.2 173.8 L59.0 173.7 L59.8 172.8 L60.6 173.0 L61.4 172.0 L62.2 171.7 L63.0 171.6 L63.8 171.3 L64.6 170.9 L65.4 170.5 L66.2 169.8 L67.0 169.0 L67.8 168.8 L68.6 167.8 L69.4 166.4 L70.2 166.2 L71.0 164.9 L71.8 163.3 L72.6 162.7 L73.4 160.4 L74.2 159.1 L75.0 158.3 L75.8 155.8 L76.6 155.0 L77.4 152.6 L78.2 152.0 L79.0 149.4 L79.8 148.2 L80.6 145.4 L81.4 144.5 L82.2 143.8 L83.0 141.8 L83.8 138.7 L84.6 139.4 L85.4 138.4 L86.2 136.7 L87.0 137.3 L87.8 134.7 L88.6 134.8 L89.4 136.4 L90.2 138.0 L91.0 140.2 L91.8 140.1 L92.6 141.2 L93.4 144.3 L94.2 144.7 L95.0 147.2 L95.8 148.0 L96.6 151.1 L97.4 152.7 L98.2 154.4 L99.0 156.1 L99.8 158.0 L100.6 159.8 L101.4 162.1 L102.2 164.1 L103.0 166.3 L103.8 168.0 L104.6 170.7 L105.4 172.0 L106.2 173.9 L107.0 175.4 L107.8 176.2 L108.6 177.1 L109.4 178.4 L110.2 179.0 L111.0 179.8 L111.8 180.4 L112.6 180.9 L113.4 181.2 L114.2 181.2 L115.0 181.2 L115.8 181.2 L116.6 181.2 L117.4 181.2 L118.2 181.2 L119.0 181.2 L119.8 181.2 L120.6 181.2" fill="none" stroke="#000" stroke-width="1.1" stroke-linejoin="round"/>
<line x1="30.90" y1="130.90" x2="161.20" y2="130.90" stroke="#777" stroke-width="0.9" />
<line x1="161.20" y1="130.90" x2="161.20" y2="181.50" stroke="#777" stroke-width="0.9" />
<line x1="30.90" y1="181.50" x2="161.20" y2="181.50" stroke="#444" stroke-width="0.9" />
<line x1="31.10" y1="130.60" x2="31.10" y2="182.10" stroke="#000" stroke-width="1.6" />
<line x1="32.40" y1="181.50" x2="32.40" y2="183.50" stroke="#333" stroke-width="0.6" />
<line x1="41.98" y1="181.50" x2="41.98" y2="182.60" stroke="#333" stroke-width="0.6" />
<line x1="47.58" y1="181.50" x2="47.58" y2="182.60" stroke="#333" stroke-width="0.6" />
<line x1="51.56" y1="181.50" x2="51.56" y2="182.60" stroke="#333" stroke-width="0.6" />
<line x1="54.64" y1="181.50" x2="54.64" y2="182.60" stroke="#333" stroke-width="0.6" />
<line x1="57.16" y1="181.50" x2="57.16" y2="182.60" stroke="#333" stroke-width="0.6" />
<line x1="59.30" y1="181.50" x2="59.30" y2="182.60" stroke="#333" stroke-width="0.6" />
<line x1="61.14" y1="181.50" x2="61.14" y2="182.60" stroke="#333" stroke-width="0.6" />
<line x1="62.77" y1="181.50" x2="62.77" y2="182.60" stroke="#333" stroke-width="0.6" />
<line x1="64.22" y1="181.50" x2="64.22" y2="183.50" stroke="#333" stroke-width="0.6" />
<line x1="73.81" y1="181.50" x2="73.81" y2="182.60" stroke="#333" stroke-width="0.6" />
<line x1="79.41" y1="181.50" x2="79.41" y2="182.60" stroke="#333" stroke-width="0.6" />
<line x1="83.39" y1="181.50" x2="83.39" y2="182.60" stroke="#333" stroke-width="0.6" />
<line x1="86.47" y1="181.50" x2="86.47" y2="182.60" stroke="#333" stroke-width="0.6" />
<line x1="88.99" y1="181.50" x2="88.99" y2="182.60" stroke="#333" stroke-width="0.6" />
<line x1="91.12" y1="181.50" x2="91.12" y2="182.60" stroke="#333" stroke-width="0.6" />
<line x1="92.97" y1="181.50" x2="92.97" y2="182.60" stroke="#333" stroke-width="0.6" />
<line x1="94.59" y1="181.50" x2="94.59" y2="182.60" stroke="#333" stroke-width="0.6" />
<line x1="96.05" y1="181.50" x2="96.05" y2="183.50" stroke="#333" stroke-width="0.6" />
<line x1="105.63" y1="181.50" x2="105.63" y2="182.60" stroke="#333" stroke-width="0.6" />
<line x1="111.23" y1="181.50" x2="111.23" y2="182.60" stroke="#333" stroke-width="0.6" />
<line x1="115.21" y1="181.50" x2="115.21" y2="182.60" stroke="#333" stroke-width="0.6" />
<line x1="118.29" y1="181.50" x2="118.29" y2="182.60" stroke="#333" stroke-width="0.6" />
<line x1="120.81" y1="181.50" x2="120.81" y2="182.60" stroke="#333" stroke-width="0.6" />
<line x1="122.95" y1="181.50" x2="122.95" y2="182.60" stroke="#333" stroke-width="0.6" />
<line x1="124.79" y1="181.50" x2="124.79" y2="182.60" stroke="#333" stroke-width="0.6" />
<line x1="126.42" y1="181.50" x2="126.42" y2="182.60" stroke="#333" stroke-width="0.6" />
<line x1="127.88" y1="181.50" x2="127.88" y2="183.50" stroke="#333" stroke-width="0.6" />
<line x1="137.46" y1="181.50" x2="137.46" y2="182.60" stroke="#333" stroke-width="0.6" />
<line x1="143.06" y1="181.50" x2="143.06" y2="182.60" stroke="#333" stroke-width="0.6" />
<line x1="147.04" y1="181.50" x2="147.04" y2="182.60" stroke="#333" stroke-width="0.6" />
<line x1="150.12" y1="181.50" x2="150.12" y2="182.60" stroke="#333" stroke-width="0.6" />
<line x1="152.64" y1="181.50" x2="152.64" y2="182.60" stroke="#333" stroke-width="0.6" />
<line x1="154.77" y1="181.50" x2="154.77" y2="182.60" stroke="#333" stroke-width="0.6" />
<line x1="156.62" y1="181.50" x2="156.62" y2="182.60" stroke="#333" stroke-width="0.6" />
<line x1="158.24" y1="181.50" x2="158.24" y2="182.60" stroke="#333" stroke-width="0.6" />
<line x1="159.70" y1="181.50" x2="159.70" y2="183.10" stroke="#555" stroke-width="0.5" />
<line x1="27.40" y1="133.40" x2="30.90" y2="133.40" stroke="#777" stroke-width="0.7" />
<line x1="27.40" y1="143.02" x2="30.90" y2="143.02" stroke="#777" stroke-width="0.7" />
<line x1="27.40" y1="152.64" x2="30.90" y2="152.64" stroke="#777" stroke-width="0.7" />
<line x1="27.40" y1="162.26" x2="30.90" y2="162.26" stroke="#777" stroke-width="0.7" />
<line x1="27.40" y1="171.88" x2="30.90" y2="171.88" stroke="#777" stroke-width="0.7" />
<path d="M31.8 238.8 L32.6 238.5 L33.4 238.5 L34.2 237.6 L35.0 237.6 L35.8 236.8 L36.6 237.2 L37.4 236.6 L38.2 236.5 L39.0 235.7 L39.8 235.6 L40.6 234.9 L41.4 234.3 L42.2 234.0 L43.0 233.0 L43.8 232.7 L44.6 232.5 L45.4 231.7 L46.2 231.0 L47.0 231.4 L47.8 230.0 L48.6 229.1 L49.4 228.5 L50.2 227.4 L51.0 226.5 L51.8 225.7 L52.6 225.8 L53.4 224.1 L54.2 223.3 L55.0 222.6 L55.8 222.3 L56.6 219.9 L57.4 218.2 L58.2 218.2 L59.0 214.5 L59.8 213.5 L60.6 212.5 L61.4 211.9 L62.2 208.3 L63.0 205.9 L63.8 206.4 L64.6 204.2 L65.4 202.8 L66.2 202.2 L67.0 201.2 L67.8 200.6 L68.6 199.5 L69.4 200.2 L70.2 199.8 L71.0 198.1 L71.8 197.3 L72.6 197.7 L73.4 197.0 L74.2 195.4 L75.0 195.7 L75.8 197.1 L76.6 196.9 L77.4 197.5 L78.2 198.7 L79.0 199.6 L79.8 201.0 L80.6 201.2 L81.4 205.6 L82.2 207.1 L83.0 209.9 L83.8 215.0 L84.6 218.4 L85.4 221.5 L86.2 224.7 L87.0 227.6 L87.8 229.1 L88.6 231.0 L89.4 232.2 L90.2 232.0 L91.0 233.0 L91.8 234.3 L92.6 234.6 L93.4 235.9 L94.2 237.2 L95.0 237.9 L95.8 238.4 L96.6 238.4 L97.4 239.7 L98.2 239.9 L99.0 240.5 L99.8 240.8 L100.6 240.9 L101.4 241.2 L102.2 241.5 L103.0 242.0 L103.8 242.0 L104.6 242.3 L105.4 242.6 L106.2 242.8 L107.0 242.9 L107.8 243.0 L108.6 243.0 L109.4 243.0 L110.2 243.0 L111.0 243.0 L111.8 243.0 L112.6 243.0 L113.4 243.0 L114.2 243.0 L115.0 243.0 L115.8 243.0 L116.6 243.0" fill="none" stroke="#9a9a9a" stroke-width="0.75" stroke-linejoin="round"/>
<path d="M31.8 239.1 L32.6 239.2 L33.4 238.7 L34.2 238.5 L35.0 238.0 L35.8 237.7 L36.6 237.3 L37.4 237.0 L38.2 236.2 L39.0 236.2 L39.8 235.9 L40.6 236.0 L41.4 235.6 L42.2 235.2 L43.0 234.9 L43.8 233.9 L44.6 233.8 L45.4 233.6 L46.2 232.5 L47.0 232.4 L47.8 231.5 L48.6 230.5 L49.4 230.5 L50.2 229.6 L51.0 229.4 L51.8 228.6 L52.6 228.4 L53.4 226.8 L54.2 228.0 L55.0 227.1 L55.8 225.8 L56.6 225.0 L57.4 224.8 L58.2 224.5 L59.0 223.8 L59.8 223.2 L60.6 221.5 L61.4 221.3 L62.2 221.9 L63.0 220.7 L63.8 219.3 L64.6 219.0 L65.4 217.9 L66.2 217.2 L67.0 217.3 L67.8 215.5 L68.6 215.1 L69.4 213.5 L70.2 211.4 L71.0 210.8 L71.8 211.7 L72.6 208.9 L73.4 208.0 L74.2 208.8 L75.0 207.4 L75.8 206.6 L76.6 206.9 L77.4 204.0 L78.2 204.6 L79.0 202.6 L79.8 201.3 L80.6 200.6 L81.4 201.0 L82.2 199.1 L83.0 197.0 L83.8 196.9 L84.6 198.4 L85.4 197.6 L86.2 195.6 L87.0 198.3 L87.8 196.5 L88.6 196.4 L89.4 197.8 L90.2 199.3 L91.0 200.7 L91.8 201.2 L92.6 201.1 L93.4 202.0 L94.2 202.6 L95.0 205.1 L95.8 206.3 L96.6 208.5 L97.4 209.1 L98.2 211.0 L99.0 212.2 L99.8 213.4 L100.6 214.7 L101.4 216.2 L102.2 217.5 L103.0 219.8 L103.8 220.9 L104.6 221.6 L105.4 224.0 L106.2 225.6 L107.0 227.9 L107.8 229.1 L108.6 231.1 L109.4 232.7 L110.2 234.5 L111.0 235.9 L111.8 237.1 L112.6 238.3 L113.4 239.5 L114.2 240.3 L115.0 240.9 L115.8 241.3 L116.6 241.9 L117.4 242.4 L118.2 242.8 L119.0 243.0 L119.8 243.0 L120.6 243.0 L121.4 243.0 L122.2 243.0 L123.0 243.0 L123.8 243.0" fill="none" stroke="#5a5a5a" stroke-width="0.85" stroke-linejoin="round"/>
<path d="M31.8 238.5 L32.6 238.0 L33.4 237.8 L34.2 237.4 L35.0 237.1 L35.8 236.7 L36.6 236.5 L37.4 235.8 L38.2 235.7 L39.0 235.8 L39.8 235.2 L40.6 235.2 L41.4 234.2 L42.2 234.0 L43.0 233.8 L43.8 232.8 L44.6 232.5 L45.4 233.0 L46.2 231.5 L47.0 231.0 L47.8 230.6 L48.6 230.4 L49.4 229.9 L50.2 229.9 L51.0 229.4 L51.8 228.6 L52.6 228.2 L53.4 227.4 L54.2 226.9 L55.0 226.8 L55.8 227.0 L56.6 226.3 L57.4 226.1 L58.2 225.6 L59.0 224.6 L59.8 225.1 L60.6 223.3 L61.4 222.7 L62.2 222.3 L63.0 222.5 L63.8 221.4 L64.6 220.5 L65.4 220.6 L66.2 220.4 L67.0 219.2 L67.8 218.6 L68.6 218.7 L69.4 218.1 L70.2 217.5 L71.0 216.0 L71.8 216.1 L72.6 215.5 L73.4 213.6 L74.2 214.5 L75.0 212.8 L75.8 211.6 L76.6 212.2 L77.4 209.9 L78.2 208.3 L79.0 207.7 L79.8 207.1 L80.6 206.1 L81.4 204.3 L82.2 202.5 L83.0 201.4 L83.8 200.1 L84.6 198.7 L85.4 198.1 L86.2 196.6 L87.0 196.4 L87.8 195.5 L88.6 195.8 L89.4 196.9 L90.2 198.0 L91.0 200.8 L91.8 201.3 L92.6 204.1 L93.4 205.9 L94.2 207.0 L95.0 210.2 L95.8 211.8 L96.6 212.4 L97.4 215.9 L98.2 218.0 L99.0 219.0 L99.8 222.1 L100.6 223.3 L101.4 224.6 L102.2 227.3 L103.0 228.8 L103.8 230.4 L104.6 232.0 L105.4 234.3 L106.2 235.5 L107.0 237.1 L107.8 238.3 L108.6 239.2 L109.4 240.1 L110.2 241.0 L111.0 241.5 L111.8 241.9 L112.6 242.4 L113.4 242.8 L114.2 243.0 L115.0 243.0 L115.8 243.0 L116.6 243.0 L117.4 243.0 L118.2 243.0 L119.0 243.0 L119.8 243.0" fill="none" stroke="#000" stroke-width="1.1" stroke-linejoin="round"/>
<line x1="30.90" y1="192.50" x2="161.60" y2="192.50" stroke="#777" stroke-width="0.9" />
<line x1="161.60" y1="192.50" x2="161.60" y2="243.30" stroke="#777" stroke-width="0.9" />
<line x1="30.90" y1="243.30" x2="161.60" y2="243.30" stroke="#444" stroke-width="0.9" />
<line x1="31.10" y1="192.20" x2="31.10" y2="243.90" stroke="#000" stroke-width="1.6" />
<line x1="32.40" y1="243.30" x2="32.40" y2="245.30" stroke="#333" stroke-width="0.6" />
<line x1="42.01" y1="243.30" x2="42.01" y2="244.40" stroke="#333" stroke-width="0.6" />
<line x1="47.63" y1="243.30" x2="47.63" y2="244.40" stroke="#333" stroke-width="0.6" />
<line x1="51.62" y1="243.30" x2="51.62" y2="244.40" stroke="#333" stroke-width="0.6" />
<line x1="54.71" y1="243.30" x2="54.71" y2="244.40" stroke="#333" stroke-width="0.6" />
<line x1="57.24" y1="243.30" x2="57.24" y2="244.40" stroke="#333" stroke-width="0.6" />
<line x1="59.38" y1="243.30" x2="59.38" y2="244.40" stroke="#333" stroke-width="0.6" />
<line x1="61.23" y1="243.30" x2="61.23" y2="244.40" stroke="#333" stroke-width="0.6" />
<line x1="62.86" y1="243.30" x2="62.86" y2="244.40" stroke="#333" stroke-width="0.6" />
<line x1="64.32" y1="243.30" x2="64.32" y2="245.30" stroke="#333" stroke-width="0.6" />
<line x1="73.94" y1="243.30" x2="73.94" y2="244.40" stroke="#333" stroke-width="0.6" />
<line x1="79.56" y1="243.30" x2="79.56" y2="244.40" stroke="#333" stroke-width="0.6" />
<line x1="83.55" y1="243.30" x2="83.55" y2="244.40" stroke="#333" stroke-width="0.6" />
<line x1="86.64" y1="243.30" x2="86.64" y2="244.40" stroke="#333" stroke-width="0.6" />
<line x1="89.17" y1="243.30" x2="89.17" y2="244.40" stroke="#333" stroke-width="0.6" />
<line x1="91.30" y1="243.30" x2="91.30" y2="244.40" stroke="#333" stroke-width="0.6" />
<line x1="93.16" y1="243.30" x2="93.16" y2="244.40" stroke="#333" stroke-width="0.6" />
<line x1="94.79" y1="243.30" x2="94.79" y2="244.40" stroke="#333" stroke-width="0.6" />
<line x1="96.25" y1="243.30" x2="96.25" y2="245.30" stroke="#333" stroke-width="0.6" />
<line x1="105.86" y1="243.30" x2="105.86" y2="244.40" stroke="#333" stroke-width="0.6" />
<line x1="111.48" y1="243.30" x2="111.48" y2="244.40" stroke="#333" stroke-width="0.6" />
<line x1="115.47" y1="243.30" x2="115.47" y2="244.40" stroke="#333" stroke-width="0.6" />
<line x1="118.56" y1="243.30" x2="118.56" y2="244.40" stroke="#333" stroke-width="0.6" />
<line x1="121.09" y1="243.30" x2="121.09" y2="244.40" stroke="#333" stroke-width="0.6" />
<line x1="123.23" y1="243.30" x2="123.23" y2="244.40" stroke="#333" stroke-width="0.6" />
<line x1="125.08" y1="243.30" x2="125.08" y2="244.40" stroke="#333" stroke-width="0.6" />
<line x1="126.71" y1="243.30" x2="126.71" y2="244.40" stroke="#333" stroke-width="0.6" />
<line x1="128.17" y1="243.30" x2="128.17" y2="245.30" stroke="#333" stroke-width="0.6" />
<line x1="137.79" y1="243.30" x2="137.79" y2="244.40" stroke="#333" stroke-width="0.6" />
<line x1="143.41" y1="243.30" x2="143.41" y2="244.40" stroke="#333" stroke-width="0.6" />
<line x1="147.40" y1="243.30" x2="147.40" y2="244.40" stroke="#333" stroke-width="0.6" />
<line x1="150.49" y1="243.30" x2="150.49" y2="244.40" stroke="#333" stroke-width="0.6" />
<line x1="153.02" y1="243.30" x2="153.02" y2="244.40" stroke="#333" stroke-width="0.6" />
<line x1="155.15" y1="243.30" x2="155.15" y2="244.40" stroke="#333" stroke-width="0.6" />
<line x1="157.01" y1="243.30" x2="157.01" y2="244.40" stroke="#333" stroke-width="0.6" />
<line x1="158.64" y1="243.30" x2="158.64" y2="244.40" stroke="#333" stroke-width="0.6" />
<line x1="160.10" y1="243.30" x2="160.10" y2="244.90" stroke="#555" stroke-width="0.5" />
<line x1="27.40" y1="195.00" x2="30.90" y2="195.00" stroke="#777" stroke-width="0.7" />
<line x1="27.40" y1="204.66" x2="30.90" y2="204.66" stroke="#777" stroke-width="0.7" />
<line x1="27.40" y1="214.32" x2="30.90" y2="214.32" stroke="#777" stroke-width="0.7" />
<line x1="27.40" y1="223.98" x2="30.90" y2="223.98" stroke="#777" stroke-width="0.7" />
<line x1="27.40" y1="233.64" x2="30.90" y2="233.64" stroke="#777" stroke-width="0.7" />
<text x="132.20" y="142.20" font-size="8.2" text-anchor="middle" font-weight="normal" fill="#1a1a1a" stroke="#1a1a1a" stroke-width="0.22">Rag1-/-</text>
<text x="131.00" y="210.00" font-size="8.2" text-anchor="middle" font-weight="normal" fill="#1a1a1a" stroke="#1a1a1a" stroke-width="0.22">Gli2<tspan font-weight="bold">Δ</tspan>N<tspan font-size="5.08" dy="1.80">2</tspan><tspan dy="-1.80">Rag1-/-</tspan></text>
<line x1="30.40" y1="254.40" x2="153.40" y2="254.40" stroke="#000" stroke-width="1.3" />
<polygon points="160.60,254.40 152.40,250.30 152.40,258.50" fill="#000"/>
<text x="78.60" y="265.30" font-size="8.1" text-anchor="middle" font-weight="normal" fill="#1a1a1a" stroke="#1a1a1a" stroke-width="0.22">ic p-ERK</text>
<line x1="238.50" y1="156.40" x2="238.50" y2="240.40" stroke="#6a6a6a" stroke-width="1.0" />
<line x1="238.00" y1="240.40" x2="374.30" y2="240.40" stroke="#6a6a6a" stroke-width="1.0" />
<line x1="238.50" y1="240.40" x2="238.50" y2="242.00" stroke="#6a6a6a" stroke-width="0.6" />
<line x1="306.40" y1="240.40" x2="306.40" y2="242.00" stroke="#6a6a6a" stroke-width="0.6" />
<line x1="374.30" y1="240.40" x2="374.30" y2="242.00" stroke="#6a6a6a" stroke-width="0.6" />
<line x1="237.00" y1="240.40" x2="238.50" y2="240.40" stroke="#6a6a6a" stroke-width="0.6" />
<text transform="translate(235.00 242.56) scale(0.86 1)" font-size="6.0" text-anchor="end" font-weight="normal" fill="#1a1a1a" stroke="#1a1a1a" stroke-width="0.3">0</text>
<line x1="237.00" y1="228.40" x2="238.50" y2="228.40" stroke="#6a6a6a" stroke-width="0.6" />
<text transform="translate(235.00 230.56) scale(0.86 1)" font-size="6.0" text-anchor="end" font-weight="normal" fill="#1a1a1a" stroke="#1a1a1a" stroke-width="0.3">20</text>
<line x1="237.00" y1="216.40" x2="238.50" y2="216.40" stroke="#6a6a6a" stroke-width="0.6" />
<text transform="translate(235.00 218.56) scale(0.86 1)" font-size="6.0" text-anchor="end" font-weight="normal" fill="#1a1a1a" stroke="#1a1a1a" stroke-width="0.3">40</text>
<line x1="237.00" y1="204.40" x2="238.50" y2="204.40" stroke="#6a6a6a" stroke-width="0.6" />
<text transform="translate(235.00 206.56) scale(0.86 1)" font-size="6.0" text-anchor="end" font-weight="normal" fill="#1a1a1a" stroke="#1a1a1a" stroke-width="0.3">60</text>
<line x1="237.00" y1="192.40" x2="238.50" y2="192.40" stroke="#6a6a6a" stroke-width="0.6" />
<text transform="translate(235.00 194.56) scale(0.86 1)" font-size="6.0" text-anchor="end" font-weight="normal" fill="#1a1a1a" stroke="#1a1a1a" stroke-width="0.3">80</text>
<line x1="237.00" y1="180.40" x2="238.50" y2="180.40" stroke="#6a6a6a" stroke-width="0.6" />
<text transform="translate(235.00 182.56) scale(0.86 1)" font-size="6.0" text-anchor="end" font-weight="normal" fill="#1a1a1a" stroke="#1a1a1a" stroke-width="0.3">100</text>
<line x1="237.00" y1="168.40" x2="238.50" y2="168.40" stroke="#6a6a6a" stroke-width="0.6" />
<text transform="translate(235.00 170.56) scale(0.86 1)" font-size="6.0" text-anchor="end" font-weight="normal" fill="#1a1a1a" stroke="#1a1a1a" stroke-width="0.3">120</text>
<line x1="237.00" y1="156.40" x2="238.50" y2="156.40" stroke="#6a6a6a" stroke-width="0.6" />
<text transform="translate(235.00 158.56) scale(0.86 1)" font-size="6.0" text-anchor="end" font-weight="normal" fill="#1a1a1a" stroke="#1a1a1a" stroke-width="0.3">140</text>
<rect x="252.80" y="192.30" width="19.00" height="48.10" fill="#d6d6d6" stroke="#1a1a1a" stroke-width="1.0"/>
<rect x="271.80" y="207.80" width="19.10" height="32.60" fill="#fff" stroke="#1a1a1a" stroke-width="1.0"/>
<rect x="318.90" y="165.60" width="19.10" height="74.80" fill="#d6d6d6" stroke="#1a1a1a" stroke-width="1.0"/>
<rect x="338.00" y="201.60" width="19.00" height="38.80" fill="#fff" stroke="#1a1a1a" stroke-width="1.0"/>
<text x="271.30" y="253.20" font-size="8.1" text-anchor="middle" font-weight="normal" fill="#1a1a1a" stroke="#1a1a1a" stroke-width="0.22">Control</text>
<text x="336.00" y="253.20" font-size="8.1" text-anchor="middle" font-weight="normal" fill="#1a1a1a" stroke="#1a1a1a" stroke-width="0.22">anti-CD3 treated</text>
<text x="213.20" y="199.00" font-size="8.2" text-anchor="middle" font-weight="normal" fill="#1a1a1a" transform="rotate(-90 213.20 199.00)" stroke="#1a1a1a" stroke-width="0.22">Mean fluorescent intensity</text>
<text x="222.60" y="199.30" font-size="8.2" text-anchor="middle" font-weight="normal" fill="#1a1a1a" transform="rotate(-90 222.60 199.30)" stroke="#1a1a1a" stroke-width="0.22">of ic p-ERK</text>
<rect x="407.50" y="154.30" width="93.20" height="80.20" fill="#fff" stroke="#222" stroke-width="0.9"/>
<rect x="413.10" y="158.40" width="13.60" height="12.30" fill="#d6d6d6" stroke="#111" stroke-width="1.4"/>
<rect x="413.10" y="177.10" width="13.60" height="12.40" fill="#fff" stroke="#111" stroke-width="1.4"/>
<text x="435.00" y="170.00" font-size="8.2" text-anchor="start" font-weight="normal" fill="#1a1a1a" stroke="#1a1a1a" stroke-width="0.22">Rag1-/-</text>
<text x="435.00" y="183.80" font-size="8.2" text-anchor="start" font-weight="normal" fill="#1a1a1a" stroke="#1a1a1a" stroke-width="0.22">Gli2<tspan font-weight="bold">Δ</tspan>N<tspan font-size="5.08" dy="1.80">2</tspan><tspan dy="-1.80">Rag1-/-</tspan></text>
<text x="435.00" y="200.80" font-size="8.2" text-anchor="start" font-weight="normal" fill="#1a1a1a" stroke="#1a1a1a" stroke-width="0.22">Control</text>
<text x="435.00" y="215.80" font-size="8.2" text-anchor="start" font-weight="normal" fill="#1a1a1a" stroke="#1a1a1a" stroke-width="0.22">anti-CD3 treated</text>
<text x="435.00" y="230.00" font-size="8.2" text-anchor="start" font-weight="normal" fill="#1a1a1a" stroke="#1a1a1a" stroke-width="0.22">Isotype control</text>
<line x1="411.30" y1="197.30" x2="428.70" y2="197.30" stroke="#000" stroke-width="1.5" />
<line x1="411.30" y1="212.30" x2="428.70" y2="212.30" stroke="#808080" stroke-width="1.1" />
<line x1="411.30" y1="227.80" x2="428.70" y2="227.80" stroke="#c4c4c4" stroke-width="0.9" />
<path d="M86.5 324.8h0.85M88.7 328.3h0.85M75.1 329.1h0.85M108.5 329.5h0.85M74.5 322.7h0.85M76.2 328.1h0.85M99.5 326.0h0.85M69.0 329.7h0.85M78.2 330.5h0.85M87.7 332.0h0.85M92.4 324.0h0.85M99.2 328.9h0.85M120.7 326.1h0.85M102.4 330.8h0.85M86.0 332.3h0.85M89.3 324.7h0.85M115.0 326.6h0.85M81.0 326.3h0.85M115.4 327.9h0.85M99.5 324.1h0.85M70.6 339.9h0.85M106.5 329.8h0.85M77.2 332.6h0.85M75.5 327.6h0.85M78.0 326.8h0.85M101.5 331.1h0.85M78.6 339.4h0.85M106.2 336.8h0.85M76.0 335.3h0.85M104.7 336.0h0.85M79.1 337.5h0.85M84.6 330.7h0.85M72.0 328.0h0.85M96.3 331.9h0.85M112.4 327.6h0.85M111.1 329.6h0.85M113.2 323.6h0.85M77.8 319.3h0.85M82.4 326.0h0.85M97.1 329.1h0.85M72.3 328.9h0.85M102.7 336.6h0.85M97.3 330.9h0.85M104.9 328.9h0.85M97.5 322.7h0.85M83.6 327.3h0.85M69.5 335.1h0.85M72.8 333.8h0.85M97.7 331.3h0.85M114.7 325.9h0.85M101.2 326.4h0.85M75.0 330.7h0.85M103.0 327.4h0.85M96.3 328.9h0.85M85.1 328.8h0.85M94.9 318.1h0.85M103.4 319.4h0.85M111.1 332.9h0.85M113.7 323.2h0.85M108.7 322.5h0.85M97.0 332.3h0.85M100.7 331.1h0.85M119.0 321.2h0.85M87.4 322.4h0.85M90.6 326.8h0.85M107.7 328.5h0.85M92.5 335.7h0.85M89.5 321.4h0.85M83.0 329.3h0.85M101.9 330.5h0.85M111.3 322.6h0.85M110.4 333.4h0.85M75.2 333.2h0.85M114.3 323.6h0.85M96.6 330.4h0.85M94.9 320.2h0.85M104.7 326.3h0.85M75.6 330.7h0.85M76.9 332.9h0.85M91.2 336.8h0.85M115.4 327.3h0.85M70.9 328.8h0.85M101.5 325.9h0.85M108.1 327.6h0.85M94.5 329.6h0.85M80.8 330.3h0.85M96.5 330.3h0.85M102.2 317.6h0.85M102.6 332.8h0.85M79.8 329.6h0.85M104.0 331.0h0.85M84.8 323.4h0.85M98.6 323.1h0.85M107.7 326.1h0.85M113.6 324.4h0.85M87.7 321.2h0.85M83.4 324.8h0.85M109.3 325.3h0.85M101.2 335.1h0.85M106.3 321.4h0.85M83.8 321.0h0.85M112.5 325.0h0.85M87.7 323.6h0.85M87.6 331.3h0.85M95.7 322.6h0.85M70.6 328.2h0.85M108.2 331.1h0.85M107.5 329.4h0.85M93.2 319.2h0.85M104.3 325.6h0.85M115.8 328.5h0.85M93.5 335.8h0.85M95.9 326.8h0.85M95.1 332.5h0.85M110.7 325.1h0.85M112.2 325.8h0.85M97.3 333.7h0.85M92.8 327.6h0.85M113.5 326.4h0.85M105.3 325.3h0.85M104.4 329.9h0.85M93.2 325.4h0.85M80.9 329.6h0.85M91.5 319.0h0.85M91.3 331.3h0.85M99.6 326.7h0.85M107.7 327.7h0.85M79.2 325.4h0.85M85.4 327.3h0.85M105.8 331.4h0.85M81.8 334.7h0.85M88.5 332.1h0.85M95.1 330.9h0.85M97.7 323.5h0.85M106.8 321.2h0.85M80.0 320.5h0.85M111.6 330.8h0.85M114.7 336.9h0.85M112.6 329.6h0.85M103.8 329.7h0.85M105.8 331.4h0.85M72.6 333.9h0.85M70.8 336.8h0.85M113.7 326.4h0.85M93.4 322.6h0.85M102.2 329.4h0.85M76.6 330.9h0.85M92.7 327.2h0.85M79.0 338.1h0.85M117.3 325.6h0.85M74.1 328.0h0.85M104.7 332.3h0.85M91.3 331.2h0.85M68.5 321.2h0.85M74.6 331.8h0.85M88.9 331.3h0.85M97.8 328.9h0.85M106.4 318.2h0.85M97.0 331.7h0.85M96.8 327.1h0.85M84.2 324.7h0.85M107.1 322.8h0.85M114.3 321.7h0.85M106.0 322.5h0.85M105.3 329.3h0.85M93.4 328.6h0.85M98.6 325.5h0.85M113.4 323.1h0.85M98.4 325.4h0.85M90.6 328.5h0.85M103.1 317.5h0.85M67.6 324.9h0.85M80.8 330.1h0.85M77.7 330.9h0.85M83.1 325.6h0.85M95.9 326.8h0.85M114.4 320.1h0.85M69.9 325.3h0.85M72.2 328.5h0.85M92.8 333.2h0.85M102.8 331.8h0.85M86.5 327.7h0.85M85.9 335.6h0.85M95.2 335.6h0.85M84.7 329.2h0.85M72.9 336.4h0.85M90.4 323.7h0.85M76.2 328.7h0.85M74.3 326.8h0.85M93.4 327.7h0.85M97.1 325.1h0.85M95.1 327.0h0.85M100.1 332.2h0.85M91.1 329.9h0.85M95.9 331.8h0.85M99.6 328.9h0.85M93.9 332.3h0.85M99.4 327.7h0.85M104.3 329.9h0.85M112.4 320.4h0.85M85.8 336.0h0.85M93.7 324.5h0.85M105.7 330.8h0.85M119.6 321.5h0.85M72.4 331.2h0.85M88.7 327.0h0.85M95.8 329.0h0.85M98.8 325.8h0.85M85.5 329.3h0.85M85.4 319.7h0.85M75.2 335.5h0.85M99.1 324.6h0.85M89.2 337.3h0.85M83.3 318.9h0.85M81.5 326.7h0.85M111.5 329.0h0.85M74.2 328.2h0.85M70.9 327.7h0.85M100.9 335.7h0.85M73.3 336.6h0.85M71.9 337.1h0.85M102.1 330.3h0.85M85.9 324.3h0.85M74.0 323.6h0.85M117.2 322.7h0.85M90.6 324.6h0.85M80.5 335.8h0.85M112.0 331.5h0.85M85.2 332.5h0.85M88.5 334.4h0.85M103.6 325.3h0.85M97.5 335.2h0.85M111.2 328.0h0.85M91.3 326.7h0.85M113.3 319.8h0.85M68.7 327.5h0.85M75.9 333.3h0.85M114.6 330.2h0.85M75.8 322.6h0.85M81.4 337.1h0.85M94.2 323.4h0.85M88.1 327.2h0.85M89.6 326.8h0.85M104.8 325.0h0.85M106.7 319.2h0.85M109.8 318.4h0.85M113.4 322.4h0.85M103.8 322.8h0.85M91.2 334.7h0.85M115.7 328.8h0.85M77.3 331.2h0.85M117.1 328.1h0.85M72.4 323.1h0.85M79.7 331.3h0.85M97.5 327.3h0.85M74.8 332.7h0.85M79.8 322.9h0.85M80.4 332.8h0.85M77.4 325.3h0.85M96.3 323.1h0.85M84.9 322.0h0.85M80.6 325.6h0.85M92.3 329.9h0.85M115.1 322.3h0.85M92.7 327.9h0.85M115.7 323.8h0.85M67.6 330.9h0.85M106.6 321.0h0.85M77.5 332.9h0.85M83.1 324.8h0.85M101.1 327.6h0.85M96.7 334.7h0.85M70.7 321.5h0.85M109.8 329.0h0.85M105.3 330.6h0.85M94.1 326.5h0.85M109.0 335.2h0.85M89.8 327.5h0.85M109.3 333.0h0.85M96.3 335.6h0.85M83.7 330.7h0.85M80.6 330.7h0.85M85.9 326.7h0.85M82.9 332.0h0.85M108.6 326.6h0.85M86.7 325.3h0.85M95.8 328.3h0.85M117.0 323.5h0.85M98.1 332.5h0.85M94.4 332.4h0.85M87.1 325.5h0.85M78.4 325.1h0.85M111.4 324.1h0.85M85.3 327.0h0.85M78.3 333.4h0.85M103.9 331.9h0.85M108.4 326.1h0.85M80.4 331.2h0.85M92.6 333.1h0.85M86.6 328.2h0.85M106.7 323.1h0.85M84.6 329.3h0.85M86.5 318.7h0.85M105.4 321.9h0.85M69.0 333.8h0.85M101.8 330.6h0.85M94.3 319.5h0.85M100.2 334.7h0.85M110.6 325.7h0.85M95.0 334.1h0.85M113.2 326.1h0.85M110.7 337.1h0.85M99.4 329.7h0.85M78.0 325.9h0.85M86.5 326.8h0.85M95.1 337.2h0.85M77.6 326.0h0.85M94.5 326.8h0.85M116.3 326.2h0.85M100.5 334.0h0.85M84.0 326.8h0.85M97.2 325.3h0.85M95.7 328.7h0.85M82.4 328.1h0.85M99.5 334.5h0.85M102.4 332.0h0.85M108.9 327.5h0.85M92.7 332.0h0.85M97.5 333.1h0.85M80.0 327.4h0.85M102.7 329.3h0.85M78.6 327.7h0.85M89.2 332.1h0.85M102.3 319.6h0.85M96.1 327.8h0.85M108.2 330.0h0.85M98.2 324.6h0.85M90.3 332.8h0.85M87.4 331.3h0.85M111.9 320.5h0.85M104.2 333.6h0.85M73.9 333.3h0.85M92.6 329.3h0.85M100.9 327.2h0.85M82.5 331.2h0.85M76.7 322.8h0.85M102.4 323.9h0.85M108.2 335.1h0.85M97.0 326.8h0.85M108.8 331.4h0.85M116.1 326.7h0.85M83.0 330.5h0.85M112.8 322.5h0.85M85.6 328.1h0.85M71.9 327.3h0.85M98.0 322.6h0.85M92.1 332.2h0.85M114.3 324.9h0.85M107.8 331.6h0.85M82.0 319.0h0.85M77.8 327.0h0.85M112.1 327.7h0.85M102.2 337.2h0.85M110.5 324.6h0.85M104.4 325.5h0.85M73.1 333.7h0.85M103.5 330.4h0.85M78.5 322.0h0.85M84.7 320.4h0.85M97.5 332.0h0.85M112.7 323.6h0.85M104.5 334.8h0.85M87.7 327.6h0.85M69.9 327.6h0.85M81.3 327.2h0.85M82.7 325.4h0.85M81.2 328.2h0.85M112.6 326.8h0.85M91.2 323.7h0.85M112.3 326.9h0.85M94.5 324.6h0.85M101.1 322.1h0.85M95.0 322.1h0.85M95.2 327.3h0.85M107.8 332.9h0.85M77.1 332.4h0.85M107.1 323.9h0.85M93.0 334.5h0.85M95.6 329.5h0.85M99.7 323.5h0.85M77.9 330.1h0.85M90.8 330.5h0.85M81.9 327.3h0.85M110.3 324.6h0.85M107.1 330.0h0.85M85.6 329.9h0.85M97.3 327.4h0.85M100.4 332.5h0.85M77.2 332.2h0.85M103.9 320.2h0.85M70.3 332.3h0.85M80.0 329.0h0.85M92.9 318.2h0.85M72.8 331.9h0.85M71.1 339.9h0.85M74.5 332.1h0.85M89.8 329.1h0.85M117.1 318.8h0.85M80.0 335.3h0.85M76.1 332.1h0.85M83.5 339.0h0.85M100.3 329.0h0.85M101.9 329.3h0.85M104.1 322.7h0.85M109.6 328.3h0.85M106.9 333.0h0.85M78.6 331.8h0.85M96.1 330.9h0.85M77.6 330.2h0.85M93.5 328.0h0.85M111.0 331.6h0.85M71.8 325.5h0.85M83.4 329.3h0.85M78.0 336.1h0.85M103.1 332.1h0.85M78.1 327.6h0.85M105.0 317.4h0.85M69.1 334.2h0.85M74.3 326.7h0.85M105.3 327.2h0.85M88.0 330.0h0.85M75.8 328.8h0.85M81.8 331.8h0.85M75.1 326.0h0.85M103.3 325.2h0.85M78.2 336.8h0.85M85.4 335.1h0.85M79.4 333.5h0.85M79.8 329.5h0.85M95.9 324.6h0.85M114.9 333.6h0.85M113.8 334.0h0.85M104.9 324.8h0.85M79.7 327.7h0.85M89.0 329.6h0.85M86.3 333.7h0.85M83.5 333.1h0.85M93.3 334.4h0.85M82.0 331.5h0.85M90.8 333.6h0.85M99.7 325.4h0.85M68.6 332.9h0.85M71.5 330.7h0.85M90.9 325.7h0.85M84.6 329.9h0.85M87.7 324.8h0.85M80.9 326.5h0.85M87.8 320.8h0.85M82.2 323.8h0.85M104.1 322.7h0.85M87.3 330.6h0.85M110.2 323.9h0.85M113.7 327.5h0.85M92.7 332.6h0.85M116.7 329.2h0.85M79.3 326.1h0.85M67.1 328.8h0.85M77.6 329.7h0.85M93.5 323.9h0.85M110.7 326.2h0.85M87.0 326.0h0.85M102.3 320.8h0.85M115.8 324.2h0.85M96.3 328.4h0.85M86.0 336.6h0.85M94.8 331.8h0.85M85.7 334.0h0.85M75.7 330.2h0.85M73.6 327.4h0.85M91.0 323.0h0.85M79.5 322.0h0.85M71.5 335.5h0.85M104.8 332.2h0.85M80.7 325.0h0.85M85.2 319.6h0.85M106.9 325.3h0.85M100.2 321.5h0.85M108.8 330.5h0.85M101.3 330.8h0.85M65.6 324.4h0.85M117.6 332.0h0.85M87.8 325.1h0.85M114.4 326.7h0.85M103.7 328.5h0.85M82.0 319.0h0.85M74.5 330.6h0.85M93.1 328.8h0.85M85.0 320.1h0.85M80.5 333.4h0.85M107.7 326.7h0.85M98.9 325.4h0.85M76.5 331.5h0.85M113.8 332.4h0.85M74.6 330.4h0.85M97.9 333.2h0.85M82.5 334.5h0.85M86.5 330.3h0.85M73.4 327.1h0.85M73.7 334.7h0.85M118.1 335.8h0.85M89.1 333.0h0.85M90.4 330.6h0.85M99.4 325.2h0.85M118.3 316.4h0.85M91.9 321.7h0.85M78.6 329.8h0.85M76.4 331.5h0.85M104.3 332.9h0.85M70.8 339.9h0.85M65.9 328.7h0.85M106.8 322.5h0.85M109.1 319.9h0.85M120.3 333.4h0.85M87.9 325.2h0.85M115.3 327.7h0.85M78.4 332.3h0.85M101.2 323.5h0.85M98.6 331.0h0.85M112.1 328.9h0.85M85.0 325.6h0.85M101.8 325.6h0.85M78.4 331.0h0.85M85.6 329.1h0.85M91.7 330.8h0.85M96.1 327.1h0.85M109.8 334.4h0.85M76.3 329.1h0.85M115.6 331.5h0.85M103.6 331.0h0.85M103.2 326.2h0.85M74.0 339.7h0.85M74.8 326.1h0.85M100.6 334.2h0.85M113.4 321.6h0.85M92.3 327.4h0.85M108.4 322.3h0.85M99.2 330.2h0.85M77.9 325.7h0.85M96.5 329.4h0.85M88.2 325.1h0.85M115.0 331.2h0.85M116.5 322.5h0.85M106.4 327.0h0.85M114.9 336.8h0.85M93.0 337.5h0.85M103.6 324.1h0.85M100.9 326.6h0.85M74.3 324.1h0.85M81.8 324.1h0.85M95.6 325.7h0.85M81.9 327.6h0.85M96.2 322.7h0.85M81.8 320.1h0.85M101.9 324.5h0.85M108.3 331.0h0.85M75.6 330.5h0.85M111.0 325.0h0.85M74.7 335.6h0.85M99.2 326.8h0.85M117.2 333.1h0.85M110.9 323.9h0.85M100.8 328.1h0.85M84.2 335.1h0.85M79.9 324.8h0.85M79.8 334.5h0.85M92.1 330.1h0.85M112.7 324.0h0.85M81.5 328.9h0.85M103.2 330.8h0.85M90.3 333.9h0.85M90.3 324.0h0.85M86.2 328.3h0.85M85.2 325.5h0.85M95.9 337.6h0.85M84.6 323.2h0.85M92.6 326.4h0.85M102.9 324.5h0.85M70.7 331.8h0.85M91.8 327.3h0.85M101.7 324.5h0.85M91.6 335.9h0.85M79.5 331.3h0.85M110.0 321.9h0.85M98.7 333.9h0.85M72.0 333.3h0.85M102.8 323.8h0.85M112.5 326.6h0.85M97.5 328.9h0.85M90.1 335.1h0.85M103.4 325.1h0.85M113.7 332.4h0.85M98.1 317.9h0.85M70.2 331.0h0.85M101.7 337.8h0.85M78.3 331.3h0.85M87.9 326.7h0.85M75.4 324.1h0.85M104.5 336.3h0.85M104.2 325.1h0.85M95.4 329.1h0.85M114.7 326.1h0.85M83.4 327.6h0.85M74.8 325.6h0.85M95.2 332.5h0.85M77.3 332.4h0.85M83.4 325.4h0.85M90.2 329.6h0.85M88.6 326.7h0.85M112.9 332.6h0.85M78.8 328.2h0.85M85.5 322.6h0.85M115.0 327.1h0.85M77.7 322.3h0.85M104.6 332.4h0.85M71.7 332.4h0.85M113.0 319.6h0.85M70.5 330.8h0.85M84.9 335.8h0.85M81.9 329.6h0.85M114.0 324.8h0.85M94.7 325.5h0.85M83.3 325.3h0.85M84.6 331.2h0.85M84.2 331.1h0.85M71.7 328.3h0.85M92.4 326.9h0.85M81.3 331.8h0.85M82.7 329.4h0.85M104.7 327.5h0.85M88.8 328.5h0.85M99.3 326.7h0.85M96.6 331.0h0.85M96.8 325.8h0.85M89.6 327.7h0.85M72.8 331.7h0.85M82.6 324.2h0.85M108.9 329.5h0.85M106.6 334.4h0.85M108.1 330.9h0.85M109.0 320.5h0.85M71.8 328.3h0.85M94.6 324.7h0.85M104.3 329.1h0.85M104.9 327.2h0.85M101.7 331.2h0.85M116.9 325.7h0.85M103.4 330.5h0.85M85.1 330.5h0.85M73.3 336.8h0.85M75.3 335.6h0.85M100.0 327.1h0.85M72.9 339.8h0.85M97.1 326.5h0.85M85.2 326.8h0.85M76.5 325.6h0.85M68.7 331.9h0.85M103.5 325.1h0.85M99.5 333.2h0.85M74.0 326.7h0.85M97.7 332.2h0.85M75.3 334.7h0.85M92.0 332.4h0.85M107.8 332.2h0.85M93.8 327.7h0.85M102.6 331.3h0.85M102.7 325.9h0.85M73.0 325.5h0.85M100.9 330.5h0.85M100.2 326.2h0.85M89.4 328.8h0.85M106.5 329.8h0.85M112.7 328.5h0.85M94.6 326.8h0.85M79.5 326.8h0.85M110.5 331.9h0.85M80.3 334.8h0.85M100.7 333.4h0.85M100.6 321.3h0.85M98.9 336.8h0.85M102.5 336.8h0.85M103.8 331.2h0.85M68.5 329.2h0.85M83.0 331.5h0.85M92.0 332.3h0.85M78.3 328.8h0.85M79.2 322.0h0.85M95.1 326.0h0.85M92.3 319.3h0.85M106.2 329.0h0.85M111.7 333.4h0.85M78.4 330.7h0.85M106.2 325.4h0.85M95.3 331.0h0.85M118.2 333.8h0.85M104.4 332.0h0.85M73.0 328.7h0.85M115.0 335.8h0.85M71.6 328.2h0.85M65.3 324.3h0.85M104.0 320.9h0.85M96.2 330.8h0.85M76.0 328.7h0.85M94.0 335.3h0.85M88.2 328.8h0.85M87.4 324.1h0.85M97.1 331.1h0.85M83.7 318.9h0.85M120.2 323.0h0.85M110.6 326.7h0.85M89.9 324.6h0.85M94.9 320.9h0.85M68.1 328.6h0.85M73.6 335.9h0.85M115.4 326.9h0.85M107.9 321.9h0.85M97.0 319.3h0.85M72.3 333.3h0.85M116.8 322.4h0.85M84.9 329.6h0.85M105.8 333.8h0.85M92.7 334.5h0.85M91.2 338.3h0.85M78.3 332.3h0.85M92.4 324.1h0.85M79.6 326.2h0.85M94.0 338.1h0.85M78.0 333.4h0.85M84.4 321.8h0.85M106.2 326.9h0.85M105.7 330.8h0.85M90.8 328.2h0.85M91.3 320.7h0.85M89.9 334.9h0.85M104.7 334.7h0.85M86.6 335.0h0.85M100.9 329.1h0.85M67.7 330.1h0.85M73.1 328.3h0.85M82.5 320.6h0.85M111.2 336.3h0.85M74.7 319.5h0.85M80.2 334.6h0.85M110.6 317.0h0.85M90.1 330.3h0.85M82.8 328.3h0.85M77.5 330.6h0.85M84.2 331.2h0.85M91.8 326.8h0.85M100.8 325.8h0.85M73.0 331.6h0.85M84.2 318.8h0.85M94.1 331.9h0.85M95.3 336.3h0.85M113.1 328.5h0.85M108.3 327.9h0.85M114.8 326.6h0.85M105.1 328.4h0.85M78.3 336.3h0.85M80.6 329.6h0.85M104.5 327.5h0.85M91.5 329.2h0.85M85.1 329.8h0.85M97.2 332.0h0.85M98.2 332.1h0.85M109.6 324.7h0.85M93.2 329.4h0.85M113.3 337.0h0.85M110.8 325.1h0.85M95.1 327.8h0.85M77.0 326.0h0.85M99.7 337.6h0.85M85.1 333.0h0.85M83.5 326.9h0.85M111.3 326.6h0.85M67.5 330.2h0.85M95.1 324.2h0.85M71.0 329.9h0.85M101.4 327.0h0.85M93.3 332.6h0.85M82.0 321.5h0.85M83.2 325.7h0.85M84.9 324.9h0.85M90.9 328.9h0.85M107.5 327.2h0.85M79.3 338.1h0.85M112.0 325.5h0.85M102.8 320.4h0.85M108.3 324.4h0.85M107.6 330.7h0.85M115.5 327.5h0.85M86.2 322.4h0.85M115.4 323.9h0.85M71.6 327.8h0.85M117.3 323.6h0.85M76.8 321.8h0.85M115.5 325.0h0.85M107.6 330.7h0.85M106.8 317.8h0.85M99.0 325.5h0.85M91.2 331.4h0.85M72.0 337.0h0.85M78.0 322.5h0.85M100.6 327.4h0.85M83.2 335.4h0.85M103.6 326.0h0.85M114.9 324.7h0.85M110.9 318.7h0.85M105.3 330.8h0.85M93.5 328.4h0.85M108.2 326.0h0.85M104.7 330.7h0.85M97.0 332.3h0.85M74.1 331.1h0.85M97.0 325.9h0.85M87.7 330.6h0.85M92.7 327.7h0.85M88.4 321.1h0.85M92.7 319.5h0.85M112.3 332.9h0.85M115.6 326.2h0.85M106.8 328.3h0.85M95.0 335.7h0.85M102.4 335.1h0.85M99.5 322.7h0.85M91.5 331.8h0.85M115.3 325.7h0.85M72.0 337.1h0.85M91.5 332.0h0.85M96.4 323.2h0.85M99.0 321.8h0.85M71.0 327.4h0.85M71.3 330.0h0.85M70.8 333.3h0.85M77.8 326.7h0.85M90.9 326.3h0.85M117.5 329.4h0.85M81.2 324.8h0.85M85.3 334.8h0.85M82.2 321.8h0.85M89.1 332.4h0.85M89.6 334.7h0.85M87.6 336.5h0.85M86.8 330.4h0.85M87.8 335.9h0.85M116.3 321.9h0.85M101.1 323.7h0.85M106.5 325.2h0.85M98.4 330.7h0.85M80.2 323.3h0.85M114.3 333.2h0.85M66.9 334.2h0.85M80.4 327.0h0.85M89.4 328.4h0.85M115.3 329.1h0.85M109.5 323.1h0.85M96.5 320.2h0.85M103.5 325.8h0.85M100.5 325.5h0.85M118.7 332.8h0.85M83.9 318.9h0.85M79.9 326.8h0.85M94.2 334.1h0.85M111.0 323.6h0.85M106.7 328.6h0.85M95.7 329.6h0.85M112.1 321.9h0.85M86.0 326.9h0.85M82.3 322.2h0.85M107.6 329.9h0.85M85.8 328.6h0.85M86.4 326.5h0.85M87.2 320.7h0.85M81.4 331.3h0.85M74.0 322.1h0.85M78.6 329.8h0.85M72.0 321.1h0.85M78.2 322.2h0.85M86.2 326.4h0.85M90.9 333.2h0.85M105.5 324.6h0.85M116.6 330.0h0.85M101.8 337.7h0.85M83.4 330.8h0.85M111.3 323.4h0.85M75.3 335.5h0.85M82.4 322.5h0.85M78.9 331.9h0.85M106.4 329.5h0.85M73.4 324.6h0.85M97.5 328.8h0.85M88.6 328.0h0.85M111.2 327.9h0.85M69.6 327.1h0.85M80.6 322.8h0.85M82.9 329.8h0.85M94.8 331.7h0.85M80.5 332.8h0.85M68.8 336.0h0.85M84.8 334.9h0.85M89.8 328.2h0.85M111.7 320.3h0.85M99.8 322.5h0.85M87.0 332.3h0.85M89.1 327.5h0.85M108.0 325.1h0.85M69.9 331.1h0.85M106.0 324.7h0.85M80.8 322.4h0.85M100.6 320.4h0.85M88.8 332.3h0.85M115.7 326.1h0.85M110.4 328.7h0.85M113.3 325.3h0.85M85.4 324.4h0.85M122.2 333.2h0.85M70.8 333.7h0.85M101.7 331.6h0.85M111.0 330.2h0.85M96.3 326.6h0.85M93.7 324.0h0.85M77.0 331.4h0.85M82.7 325.8h0.85M70.4 336.8h0.85M82.3 332.6h0.85M87.5 327.1h0.85M72.8 326.9h0.85M107.5 319.3h0.85M75.2 331.4h0.85M75.9 330.6h0.85M71.9 331.8h0.85M84.2 337.9h0.85M76.0 324.5h0.85M116.4 328.3h0.85M88.1 325.4h0.85M104.2 332.7h0.85M115.6 330.6h0.85M112.7 325.3h0.85M78.1 333.3h0.85M107.8 317.2h0.85M99.8 324.4h0.85M102.7 327.7h0.85M90.8 332.4h0.85M77.0 331.8h0.85M86.3 331.2h0.85M98.5 326.4h0.85M89.6 328.6h0.85M96.2 331.2h0.85M107.3 331.8h0.85M71.4 334.8h0.85M107.1 321.9h0.85M105.4 325.9h0.85M109.3 329.4h0.85M74.8 331.3h0.85M87.8 329.4h0.85M106.0 321.0h0.85M72.0 332.3h0.85M79.2 331.3h0.85M100.3 330.3h0.85M93.9 330.2h0.85M94.3 328.0h0.85M94.4 329.8h0.85M78.1 329.9h0.85M109.9 324.6h0.85M96.0 327.1h0.85M86.9 324.3h0.85M103.4 326.8h0.85M81.8 336.8h0.85M105.2 317.4h0.85M74.8 335.4h0.85M110.0 335.8h0.85M105.8 324.0h0.85M102.2 325.0h0.85M102.4 317.6h0.85M106.4 317.3h0.85M73.8 333.2h0.85M75.5 327.8h0.85M98.9 332.1h0.85M98.9 332.8h0.85M111.7 326.7h0.85M86.1 325.9h0.85M110.6 332.9h0.85M85.4 328.8h0.85M68.3 333.4h0.85M116.1 325.3h0.85M103.6 333.0h0.85M106.6 318.5h0.85M88.4 333.0h0.85M83.9 323.6h0.85M103.9 334.4h0.85M116.2 333.0h0.85M78.8 330.4h0.85M77.5 323.2h0.85M102.1 327.3h0.85M75.9 330.7h0.85M107.6 321.7h0.85M109.4 328.8h0.85M101.2 328.3h0.85M70.8 331.3h0.85M96.4 332.8h0.85M108.0 329.3h0.85M100.7 317.9h0.85M92.1 323.6h0.85M103.1 327.0h0.85M104.7 323.5h0.85M68.0 330.6h0.85M95.5 327.8h0.85M73.7 334.5h0.85M105.3 326.9h0.85M80.6 330.7h0.85M104.0 334.2h0.85M90.4 331.8h0.85M86.8 328.7h0.85M90.8 331.9h0.85M77.5 333.4h0.85M98.1 322.8h0.85M80.3 336.6h0.85M83.4 329.7h0.85M92.9 330.2h0.85M111.7 325.2h0.85M101.9 332.8h0.85M102.5 331.2h0.85M87.2 335.3h0.85M77.1 331.0h0.85M94.4 323.2h0.85M81.5 330.9h0.85M90.2 338.6h0.85M78.5 327.8h0.85M116.0 324.6h0.85M83.7 318.9h0.85M109.4 328.6h0.85M71.0 326.5h0.85M110.5 333.2h0.85M85.9 335.7h0.85M104.4 331.8h0.85M102.1 322.4h0.85M75.7 331.2h0.85M105.8 327.6h0.85M85.7 331.0h0.85M115.0 325.2h0.85M100.5 324.0h0.85M102.8 321.4h0.85M113.1 330.7h0.85M85.4 331.3h0.85M99.0 331.5h0.85M110.6 320.2h0.85M107.3 331.8h0.85M80.7 331.2h0.85M108.8 325.3h0.85M88.0 330.4h0.85M100.3 326.5h0.85M81.3 325.7h0.85M109.8 331.5h0.85M78.1 334.2h0.85M82.3 327.9h0.85M100.2 323.8h0.85M78.8 330.6h0.85M106.7 326.8h0.85M89.3 326.1h0.85M69.0 332.1h0.85M112.8 335.3h0.85M109.7 326.0h0.85M109.9 330.4h0.85M75.4 332.2h0.85M79.1 329.0h0.85M115.3 324.6h0.85M96.6 329.5h0.85M102.5 332.6h0.85M85.7 328.1h0.85M98.9 324.3h0.85M109.5 328.6h0.85M74.0 339.7h0.85M81.8 331.1h0.85M95.5 336.3h0.85M87.0 321.6h0.85M68.2 329.4h0.85M112.9 328.5h0.85M103.4 323.7h0.85M87.5 328.3h0.85M91.1 335.6h0.85M75.0 332.0h0.85M94.4 328.0h0.85M117.4 322.6h0.85M79.1 319.2h0.85M77.7 320.5h0.85M114.2 329.2h0.85M77.4 339.5h0.85M111.6 327.4h0.85M86.1 335.7h0.85M103.9 322.5h0.85M89.0 329.5h0.85M89.6 321.6h0.85M83.6 327.9h0.85M69.7 332.9h0.85M72.4 332.2h0.85M114.5 325.8h0.85M83.0 332.0h0.85M72.4 324.8h0.85M87.7 330.7h0.85M69.9 326.5h0.85M104.0 325.6h0.85M76.7 337.0h0.85M103.7 332.5h0.85M82.5 330.5h0.85M83.2 319.0h0.85M102.4 324.8h0.85M78.6 329.1h0.85M108.9 330.0h0.85M91.8 322.2h0.85M82.0 323.3h0.85M95.0 329.4h0.85M78.9 334.9h0.85M97.9 326.3h0.85M80.6 324.8h0.85M80.5 329.8h0.85M86.9 327.3h0.85M96.0 328.9h0.85M100.2 332.6h0.85M87.0 330.3h0.85M82.9 331.3h0.85M70.0 330.0h0.85M109.8 331.1h0.85M95.1 328.5h0.85M104.5 325.5h0.85M85.5 323.1h0.85M109.2 318.4h0.85M102.8 322.9h0.85M92.5 325.5h0.85M108.7 326.0h0.85M103.1 323.3h0.85M114.8 328.4h0.85M88.2 327.7h0.85M98.1 334.3h0.85M92.3 324.3h0.85M112.8 327.1h0.85M106.7 321.6h0.85M85.0 332.5h0.85M108.4 331.4h0.85M96.6 329.2h0.85M88.5 334.7h0.85M115.4 330.4h0.85M81.7 327.0h0.85M83.1 331.9h0.85M86.0 322.3h0.85M116.9 321.7h0.85M80.0 334.5h0.85M98.4 325.2h0.85M116.5 327.5h0.85M74.2 337.1h0.85M110.8 328.0h0.85M81.6 319.1h0.85M85.8 336.3h0.85M115.2 321.4h0.85M105.1 321.8h0.85M79.1 328.2h0.85M83.8 326.9h0.85M115.9 330.0h0.85M119.4 323.1h0.85M111.5 319.8h0.85M99.1 331.4h0.85M109.4 325.9h0.85M71.7 324.3h0.85M114.1 326.5h0.85M99.9 321.5h0.85M86.2 327.4h0.85M111.6 318.5h0.85M91.8 333.4h0.85M100.8 327.1h0.85M68.0 332.2h0.85M80.3 334.1h0.85M104.9 323.7h0.85M71.8 324.9h0.85M102.7 324.7h0.85M87.9 331.7h0.85M69.7 320.3h0.85M98.2 322.5h0.85M117.4 316.5h0.85M93.8 328.9h0.85M101.4 322.7h0.85M90.2 328.8h0.85M101.7 327.1h0.85M110.8 317.0h0.85M92.8 325.4h0.85M68.7 334.0h0.85M115.4 329.1h0.85M103.6 329.9h0.85M89.9 333.1h0.85M89.9 324.4h0.85M116.7 332.2h0.85M81.5 329.5h0.85M111.4 332.4h0.85M93.9 334.1h0.85M71.2 333.0h0.85M108.5 319.8h0.85M99.8 322.0h0.85M73.9 335.5h0.85M112.8 326.4h0.85M74.0 326.9h0.85M101.5 337.1h0.85M92.8 338.4h0.85M90.2 331.5h0.85M81.8 333.1h0.85M96.9 334.5h0.85M116.6 326.1h0.85M113.2 335.8h0.85M72.6 328.8h0.85M74.7 328.8h0.85M103.3 327.5h0.85M110.9 330.8h0.85M106.1 327.5h0.85M70.2 328.6h0.85M96.9 324.8h0.85M74.0 322.3h0.85M85.2 322.6h0.85M87.3 328.1h0.85M84.2 326.1h0.85M105.1 329.8h0.85M72.3 327.9h0.85M115.5 325.8h0.85M79.5 331.3h0.85M100.5 326.7h0.85M80.4 331.8h0.85M68.3 330.2h0.85M88.3 327.4h0.85M107.8 326.8h0.85M67.3 323.9h0.85M71.0 326.5h0.85M103.6 320.9h0.85M83.7 339.0h0.85M115.2 324.0h0.85M68.5 337.7h0.85M72.1 331.1h0.85M110.8 328.6h0.85M86.7 333.6h0.85M98.1 326.1h0.85M96.7 329.8h0.85M107.5 336.2h0.85M77.9 334.6h0.85M66.8 328.1h0.85M106.2 325.0h0.85M80.5 334.4h0.85M81.7 328.4h0.85M101.8 328.5h0.85M78.4 325.6h0.85M106.9 336.2h0.85M76.4 319.4h0.85M80.1 329.3h0.85M73.9 323.5h0.85M94.0 332.8h0.85M77.4 334.2h0.85M101.1 319.2h0.85M75.2 332.1h0.85M96.5 329.8h0.85M102.6 322.4h0.85M114.7 319.0h0.85M108.1 331.6h0.85M71.9 324.4h0.85M115.8 331.6h0.85M113.9 325.3h0.85M112.8 325.2h0.85M101.4 330.5h0.85M113.6 326.8h0.85M98.4 330.1h0.85M69.6 334.3h0.85M105.8 323.2h0.85M93.5 331.1h0.85M95.4 329.6h0.85M91.9 329.3h0.85M71.8 331.0h0.85M105.6 321.3h0.85M96.4 331.3h0.85M106.8 323.8h0.85M100.6 328.7h0.85M92.4 318.8h0.85M97.3 329.5h0.85M91.9 334.4h0.85M79.0 330.1h0.85M71.8 320.7h0.85M79.0 329.9h0.85M77.5 322.4h0.85M104.4 333.9h0.85M83.0 325.3h0.85M108.9 318.1h0.85M88.1 326.8h0.85M80.3 325.9h0.85M77.1 331.0h0.85M83.4 333.9h0.85M75.9 325.7h0.85M89.9 324.8h0.85M111.8 326.2h0.85M112.0 322.6h0.85M82.7 333.3h0.85M78.4 321.9h0.85M103.7 328.7h0.85M83.1 332.7h0.85M92.5 327.6h0.85M94.4 322.7h0.85M95.6 330.6h0.85M93.8 320.6h0.85M80.9 326.5h0.85M92.3 336.0h0.85M73.3 333.5h0.85M79.0 331.1h0.85M95.5 334.2h0.85M96.2 324.2h0.85M97.8 333.1h0.85M102.8 335.2h0.85M99.8 326.8h0.85M95.5 324.2h0.85M83.9 332.2h0.85M105.5 337.5h0.85M109.6 327.6h0.85M98.2 329.3h0.85M67.2 326.0h0.85M99.0 322.9h0.85M102.4 323.5h0.85M94.0 322.9h0.85M71.9 323.1h0.85M91.8 327.4h0.85M75.1 329.2h0.85M77.9 327.4h0.85M104.4 332.6h0.85M120.2 331.4h0.85M73.6 328.2h0.85M89.1 324.5h0.85M75.5 333.6h0.85M112.6 330.9h0.85M88.3 325.9h0.85M95.6 338.2h0.85M97.4 334.0h0.85M113.4 328.9h0.85M92.1 331.1h0.85M78.2 331.3h0.85M97.5 334.6h0.85M92.7 320.0h0.85M82.9 328.1h0.85M85.0 336.4h0.85M89.3 325.2h0.85M109.9 336.8h0.85M87.9 332.3h0.85M91.6 326.6h0.85M114.6 324.7h0.85M117.1 326.8h0.85M108.2 328.4h0.85M73.6 329.9h0.85M70.1 330.6h0.85M70.6 335.0h0.85M113.2 319.3h0.85M99.9 324.0h0.85M78.9 333.2h0.85M76.3 326.9h0.85M75.0 330.0h0.85M81.4 328.0h0.85M81.5 334.4h0.85M102.4 334.9h0.85M97.2 317.9h0.85M87.2 328.6h0.85M93.8 330.1h0.85M100.4 328.6h0.85M71.8 328.9h0.85M81.9 323.9h0.85M73.3 319.6h0.85M96.5 330.1h0.85M104.6 320.3h0.85M81.1 326.9h0.85M73.9 329.5h0.85M94.9 338.2h0.85M91.7 318.3h0.85M91.0 322.9h0.85M90.3 333.4h0.85M112.6 323.1h0.85M93.0 332.1h0.85M108.4 327.5h0.85M95.5 334.3h0.85M79.9 331.3h0.85M94.9 331.2h0.85M89.9 322.6h0.85M72.5 329.9h0.85M85.5 327.1h0.85M106.0 333.0h0.85M74.9 332.0h0.85M74.5 322.8h0.85M89.9 329.1h0.85M104.1 329.8h0.85M72.6 338.0h0.85M106.1 333.1h0.85M105.5 323.9h0.85M79.1 330.6h0.85M92.3 325.3h0.85M96.9 325.3h0.85M90.1 323.6h0.85M115.0 326.0h0.85M105.1 321.8h0.85M83.2 333.2h0.85M79.0 325.3h0.85M96.8 329.6h0.85M82.2 319.6h0.85M83.5 333.8h0.85M87.3 322.7h0.85M107.0 320.1h0.85M113.6 328.5h0.85M98.8 336.2h0.85M86.8 326.7h0.85M88.1 328.9h0.85M92.9 327.5h0.85M115.8 325.3h0.85M86.5 329.9h0.85M70.9 339.9h0.85M103.0 319.5h0.85M76.7 329.4h0.85M83.5 329.2h0.85M82.3 326.8h0.85M83.8 331.2h0.85M96.7 323.2h0.85M113.5 320.7h0.85M111.6 330.6h0.85M91.4 321.4h0.85M106.2 330.7h0.85M92.4 336.2h0.85M100.7 323.0h0.85M79.1 330.3h0.85M84.9 327.5h0.85M81.5 329.9h0.85M94.1 323.4h0.85M110.0 322.7h0.85M84.2 326.3h0.85M109.8 337.2h0.85M103.2 334.6h0.85M75.0 332.6h0.85M84.3 331.1h0.85M91.2 333.2h0.85M85.5 323.9h0.85M118.1 321.4h0.85M113.3 321.2h0.85M88.2 327.6h0.85M85.2 334.8h0.85M69.4 328.1h0.85M85.5 329.7h0.85M101.1 333.4h0.85M78.8 326.0h0.85M113.4 328.1h0.85M85.7 327.6h0.85M77.7 327.8h0.85M115.7 328.8h0.85M100.6 328.0h0.85M101.9 328.5h0.85M77.1 332.3h0.85M83.1 329.7h0.85M94.2 325.4h0.85M73.4 327.7h0.85M74.0 329.9h0.85M104.2 327.3h0.85M90.6 330.0h0.85M88.1 326.6h0.85M88.6 327.9h0.85M76.9 325.0h0.85M113.9 324.7h0.85M96.6 328.5h0.85M97.0 330.5h0.85M70.7 332.1h0.85M104.0 328.0h0.85M104.9 327.0h0.85M88.5 328.6h0.85M74.8 327.2h0.85M97.4 325.8h0.85M103.4 330.7h0.85M95.9 331.9h0.85M84.7 326.2h0.85M90.3 331.1h0.85M71.8 337.4h0.85M70.6 332.1h0.85M97.9 319.8h0.85M114.0 330.0h0.85M107.5 328.1h0.85M79.0 326.6h0.85M107.3 327.0h0.85M70.3 320.6h0.85M96.1 328.4h0.85M89.3 331.4h0.85M106.6 327.2h0.85M99.9 321.7h0.85M78.9 328.4h0.85M92.2 329.1h0.85M82.3 331.7h0.85M69.2 324.3h0.85M83.1 327.5h0.85M93.5 325.2h0.85M91.3 320.5h0.85M86.7 332.0h0.85M104.1 326.1h0.85M106.3 335.0h0.85M98.3 326.5h0.85M86.4 326.4h0.85M67.5 335.0h0.85M99.3 329.8h0.85M110.9 320.8h0.85M78.9 328.6h0.85M75.1 339.6h0.85M72.4 336.4h0.85M105.5 329.3h0.85M114.3 324.9h0.85M99.0 331.9h0.85M101.8 320.6h0.85M95.3 327.4h0.85M88.1 322.2h0.85M98.7 326.5h0.85M113.4 323.8h0.85M68.1 326.1h0.85M112.1 324.2h0.85M106.9 333.5h0.85M90.4 332.2h0.85M86.2 322.7h0.85M87.7 331.5h0.85M107.0 320.1h0.85M71.6 335.0h0.85M83.9 326.0h0.85M69.1 330.4h0.85M68.2 326.0h0.85M97.3 330.6h0.85M93.6 331.5h0.85M74.6 330.1h0.85M96.4 324.6h0.85M98.0 335.9h0.85M76.1 325.1h0.85M103.0 325.6h0.85M116.8 322.3h0.85M81.1 327.3h0.85M79.9 333.1h0.85M90.8 324.3h0.85M93.6 331.8h0.85M74.6 335.8h0.85M88.9 329.3h0.85M87.6 323.5h0.85M117.5 329.2h0.85M104.5 329.1h0.85M84.9 327.1h0.85M75.8 333.9h0.85M116.3 323.7h0.85M73.8 324.0h0.85M104.8 322.8h0.85M77.7 330.9h0.85M88.5 338.7h0.85M71.4 327.4h0.85M75.2 328.0h0.85M95.8 325.6h0.85M87.8 334.4h0.85M83.9 323.7h0.85M71.0 331.9h0.85M112.8 324.7h0.85M93.4 328.8h0.85M73.9 334.0h0.85M95.4 334.3h0.85M83.8 327.4h0.85M108.2 328.2h0.85M82.3 327.5h0.85M113.2 331.7h0.85M67.6 333.4h0.85M79.1 334.7h0.85M100.6 330.4h0.85M98.0 329.1h0.85M104.8 321.1h0.85M110.4 331.1h0.85M95.7 323.6h0.85M95.7 331.6h0.85M75.5 331.8h0.85M76.8 320.9h0.85M78.8 327.9h0.85M67.9 333.1h0.85M85.2 330.3h0.85M67.7 331.8h0.85M83.8 324.4h0.85M93.6 324.0h0.85M105.5 323.0h0.85M103.8 329.9h0.85M91.5 333.4h0.85M77.4 329.5h0.85M100.4 323.6h0.85M102.1 320.3h0.85M110.7 323.1h0.85M90.7 326.0h0.85M84.3 334.2h0.85M83.3 322.3h0.85M69.8 336.4h0.85M87.1 323.8h0.85M72.3 319.7h0.85M71.4 325.4h0.85M96.0 327.9h0.85M118.0 322.9h0.85M106.2 319.8h0.85M118.1 328.0h0.85M82.0 319.2h0.85M110.9 329.6h0.85M116.2 321.8h0.85M101.0 321.5h0.85M111.9 324.8h0.85M114.1 324.9h0.85M103.7 321.5h0.85M108.8 328.5h0.85M117.3 321.9h0.85M112.2 325.3h0.85M104.3 321.3h0.85M117.7 323.9h0.85M109.6 327.1h0.85M111.8 328.0h0.85M106.0 324.1h0.85M111.3 326.7h0.85M106.4 319.4h0.85M114.3 328.5h0.85M114.7 325.1h0.85M101.1 324.1h0.85M120.0 326.6h0.85M111.2 319.7h0.85M106.8 329.0h0.85M111.7 325.0h0.85M116.2 328.0h0.85M112.7 324.9h0.85M112.1 329.2h0.85M111.6 321.0h0.85M109.1 324.5h0.85M112.1 330.0h0.85M109.7 323.9h0.85M113.7 327.2h0.85M106.1 327.2h0.85M110.9 326.7h0.85M102.4 318.4h0.85M102.5 319.5h0.85M114.8 329.1h0.85M103.6 330.7h0.85M104.4 322.6h0.85M120.7 320.9h0.85M113.5 328.4h0.85M115.5 327.9h0.85M111.3 331.0h0.85M109.6 325.9h0.85M112.0 324.3h0.85M109.3 329.8h0.85M118.1 327.7h0.85M109.5 323.7h0.85M108.1 324.2h0.85M107.8 325.2h0.85M108.9 329.4h0.85M103.0 324.1h0.85M114.1 324.1h0.85M108.0 327.5h0.85M109.6 322.1h0.85M110.8 327.8h0.85M101.6 328.8h0.85M101.5 328.0h0.85M103.5 326.3h0.85M109.8 329.2h0.85M109.7 324.0h0.85M106.3 326.3h0.85M108.8 328.7h0.85M112.1 330.0h0.85M113.6 326.2h0.85M109.7 327.8h0.85M113.9 320.8h0.85M112.0 324.3h0.85M111.7 328.4h0.85M100.5 325.1h0.85M115.0 319.3h0.85M111.2 325.6h0.85M107.3 328.8h0.85M114.6 325.6h0.85M117.1 330.8h0.85M111.1 328.6h0.85M114.4 331.7h0.85M114.1 328.0h0.85M110.7 328.2h0.85M117.9 325.3h0.85M109.6 322.1h0.85M122.8 324.2h0.85M107.6 323.6h0.85M116.0 326.9h0.85M100.1 326.1h0.85M119.2 325.4h0.85M110.7 335.9h0.85M108.9 324.8h0.85M113.3 334.3h0.85M112.3 319.8h0.85M109.4 324.8h0.85M113.9 324.3h0.85M110.8 321.1h0.85M103.9 325.8h0.85M118.3 322.2h0.85M102.3 329.8h0.85M112.1 328.5h0.85M109.3 326.5h0.85M109.7 325.6h0.85M119.0 324.2h0.85M108.2 325.7h0.85M109.3 331.7h0.85M109.4 327.0h0.85M104.1 327.6h0.85M113.4 328.0h0.85M102.3 323.4h0.85M97.1 331.6h0.85M109.7 331.5h0.85M119.8 329.3h0.85M107.0 324.9h0.85M114.1 318.7h0.85M117.1 330.9h0.85M114.5 324.6h0.85M112.0 319.9h0.85M105.5 324.0h0.85M106.5 331.6h0.85M112.5 317.0h0.85M115.9 327.4h0.85M109.0 323.1h0.85M120.5 326.5h0.85M111.5 319.9h0.85M68.8 367.7h0.85M73.7 356.1h0.85M70.6 348.6h0.85M55.7 369.4h0.85M62.7 351.4h0.85M75.0 365.8h0.85M70.3 368.7h0.85M73.1 336.4h0.85M84.1 347.8h0.85M83.8 353.9h0.85M72.3 356.3h0.85M65.7 366.5h0.85M84.4 365.4h0.85M68.9 364.7h0.85M80.1 361.5h0.85M63.7 377.9h0.85M67.6 355.3h0.85M73.7 361.1h0.85M68.9 351.2h0.85M64.2 362.6h0.85M59.6 372.4h0.85M77.3 359.7h0.85M74.2 352.7h0.85M68.8 367.6h0.85M69.1 372.7h0.85M79.9 362.4h0.85M71.1 353.3h0.85M71.7 352.9h0.85M70.2 357.9h0.85M68.8 369.4h0.85M66.5 356.1h0.85M81.0 358.8h0.85M76.2 353.8h0.85M75.0 368.7h0.85M72.9 362.8h0.85M81.3 361.3h0.85M81.4 347.9h0.85M60.4 355.4h0.85M75.7 353.6h0.85M58.6 377.8h0.85M81.9 352.6h0.85M68.1 356.0h0.85M77.8 361.3h0.85M73.7 369.5h0.85M67.0 352.7h0.85M72.7 359.3h0.85M73.4 362.5h0.85M61.9 375.1h0.85M60.2 366.3h0.85M75.2 365.0h0.85M74.3 353.0h0.85M71.3 349.9h0.85M71.5 358.3h0.85M59.6 380.4h0.85M68.5 365.1h0.85M81.8 356.3h0.85M69.8 352.3h0.85M67.5 356.0h0.85M71.6 365.9h0.85M74.0 370.3h0.85M75.5 360.4h0.85M51.3 365.6h0.85M74.5 348.0h0.85M72.2 354.5h0.85M71.2 359.8h0.85M70.7 359.9h0.85M75.2 361.1h0.85M68.0 368.0h0.85M73.1 362.2h0.85M84.9 368.0h0.85M87.9 352.8h0.85M75.6 362.3h0.85M73.4 358.3h0.85M78.5 366.2h0.85M88.1 350.5h0.85M75.9 353.0h0.85M70.8 342.7h0.85M87.5 342.8h0.85M73.4 346.1h0.85M70.3 352.8h0.85M58.0 356.7h0.85M71.1 359.2h0.85M59.1 368.9h0.85M70.5 351.9h0.85M83.3 350.9h0.85M74.3 370.3h0.85M73.1 358.7h0.85M79.4 354.2h0.85M73.1 358.3h0.85M70.0 366.1h0.85M74.6 369.5h0.85M75.4 348.2h0.85M75.4 356.6h0.85M70.9 367.4h0.85M75.5 346.7h0.85M86.7 353.9h0.85M61.2 361.0h0.85M76.0 350.1h0.85M66.6 348.3h0.85M74.5 355.0h0.85M83.3 358.1h0.85M74.3 354.5h0.85M79.5 347.1h0.85M74.6 362.5h0.85M67.1 352.6h0.85M80.7 370.5h0.85M75.4 372.3h0.85M75.8 357.1h0.85M69.8 351.4h0.85M79.0 353.2h0.85M68.2 363.8h0.85M76.0 353.0h0.85M74.1 357.9h0.85M73.6 358.2h0.85M69.7 342.5h0.85M68.4 369.8h0.85M70.3 361.6h0.85M76.8 350.7h0.85M73.1 357.4h0.85M75.1 363.2h0.85M73.1 357.8h0.85M79.3 358.3h0.85M62.2 372.3h0.85M75.8 354.1h0.85M72.2 352.6h0.85M73.6 348.3h0.85M79.6 360.7h0.85M65.6 365.6h0.85M62.4 359.0h0.85M65.6 367.0h0.85M77.4 347.9h0.85M73.8 362.9h0.85M70.2 378.4h0.85M61.6 373.1h0.85M83.1 353.4h0.85M64.6 371.2h0.85M55.2 365.1h0.85M62.5 362.7h0.85M68.6 351.2h0.85M76.5 366.9h0.85M63.0 367.6h0.85M73.2 354.3h0.85M68.8 364.9h0.85M80.4 354.8h0.85M55.3 371.2h0.85M75.3 344.1h0.85M68.9 360.6h0.85M70.5 362.4h0.85M66.3 366.4h0.85M53.3 368.6h0.85M68.4 360.0h0.85M77.1 368.1h0.85M65.3 361.1h0.85M65.3 362.2h0.85M68.4 351.9h0.85M80.3 359.5h0.85M72.5 369.3h0.85M61.0 366.3h0.85M83.7 353.0h0.85M66.3 355.6h0.85M81.1 364.5h0.85M74.7 365.6h0.85M67.8 358.1h0.85M78.2 350.5h0.85M74.0 358.7h0.85M66.5 363.0h0.85M63.5 357.6h0.85M58.5 354.6h0.85M66.2 364.2h0.85M72.5 350.0h0.85M70.6 376.8h0.85M72.9 362.3h0.85M57.6 360.6h0.85M80.4 346.0h0.85M66.1 355.9h0.85M71.4 364.2h0.85M60.1 368.6h0.85M53.9 358.7h0.85M75.2 349.7h0.85M66.4 357.4h0.85M83.5 348.0h0.85M79.1 371.7h0.85M69.6 354.2h0.85M72.3 351.8h0.85M69.6 352.2h0.85M61.8 350.8h0.85M78.7 352.0h0.85M64.1 370.0h0.85M70.9 357.1h0.85M66.8 361.0h0.85M70.0 356.7h0.85M70.9 365.4h0.85M70.8 369.5h0.85M79.0 349.2h0.85M65.3 351.9h0.85M66.8 366.4h0.85M69.7 356.3h0.85M72.8 342.6h0.85M74.4 357.0h0.85M76.8 355.4h0.85M79.1 364.8h0.85M70.0 364.2h0.85M65.7 356.0h0.85M64.3 360.2h0.85M63.5 353.9h0.85M70.5 348.7h0.85M76.2 350.9h0.85M70.3 357.4h0.85M79.2 361.3h0.85M70.3 355.3h0.85M78.1 356.1h0.85M64.6 362.6h0.85M76.5 357.4h0.85M72.4 370.1h0.85M68.3 366.1h0.85M83.1 368.2h0.85M63.9 365.8h0.85M73.0 376.8h0.85M81.0 363.8h0.85M80.4 360.5h0.85M64.7 378.4h0.85M60.1 369.0h0.85M77.5 358.8h0.85M79.2 356.7h0.85M77.8 359.1h0.85M66.9 368.3h0.85M68.1 365.3h0.85M64.7 363.4h0.85M76.0 366.6h0.85M64.4 357.7h0.85M72.0 351.5h0.85M76.4 375.5h0.85M76.9 362.3h0.85M66.2 365.4h0.85M75.9 372.7h0.85M69.6 369.3h0.85M69.6 358.0h0.85M69.1 362.3h0.85M61.6 360.0h0.85M82.6 342.1h0.85M78.4 362.9h0.85M69.1 354.4h0.85M80.2 354.0h0.85M74.3 356.9h0.85M64.2 369.7h0.85M76.8 350.7h0.85M79.9 347.2h0.85M63.1 368.7h0.85M69.1 360.3h0.85M83.4 347.4h0.85M76.5 354.7h0.85M72.8 357.3h0.85M66.6 361.5h0.85M65.6 361.6h0.85M65.4 359.4h0.85M73.1 348.4h0.85M71.7 364.6h0.85M73.0 365.9h0.85M65.1 366.0h0.85M74.4 337.8h0.85M72.1 365.8h0.85M71.7 359.7h0.85M71.2 358.4h0.85M64.8 356.6h0.85M56.6 380.1h0.85M72.0 361.0h0.85M76.6 361.6h0.85M71.6 347.6h0.85M63.7 374.7h0.85M75.1 363.2h0.85M64.7 358.1h0.85M74.0 352.8h0.85M80.6 350.7h0.85M69.1 351.6h0.85M74.7 368.1h0.85M73.6 358.7h0.85M69.6 366.1h0.85M72.1 372.4h0.85M70.3 357.0h0.85M68.5 346.2h0.85M73.8 359.7h0.85M60.9 354.2h0.85M64.6 359.4h0.85M65.0 367.3h0.85M80.5 351.6h0.85M72.3 351.2h0.85M81.4 348.0h0.85M66.6 361.1h0.85M66.4 381.2h0.85M70.8 357.9h0.85M65.2 360.9h0.85M67.9 357.5h0.85M79.1 352.5h0.85M75.1 353.6h0.85M79.2 351.2h0.85M65.3 359.7h0.85M80.9 353.3h0.85M66.0 360.1h0.85M67.1 362.9h0.85M67.3 363.2h0.85M78.4 360.8h0.85M82.7 358.0h0.85M85.1 364.4h0.85M70.2 365.7h0.85M67.0 359.5h0.85M71.5 353.6h0.85M74.3 357.9h0.85M86.1 360.3h0.85M70.4 354.8h0.85M68.4 355.4h0.85M66.9 361.1h0.85M62.7 360.1h0.85M75.6 353.8h0.85M64.3 358.1h0.85M78.1 351.6h0.85M83.0 343.3h0.85M66.5 365.6h0.85M81.5 354.6h0.85M60.6 361.0h0.85M65.8 356.3h0.85M69.5 355.6h0.85M71.8 360.4h0.85M70.1 346.7h0.85M70.9 340.3h0.85M72.6 355.9h0.85M65.6 376.9h0.85M83.7 365.3h0.85M73.6 355.1h0.85M75.4 370.2h0.85M71.5 358.3h0.85M68.1 360.1h0.85M78.0 350.5h0.85M79.5 357.8h0.85M87.7 355.5h0.85M81.0 349.0h0.85M89.0 354.2h0.85M71.6 370.5h0.85M73.3 349.8h0.85M76.4 361.9h0.85M72.1 355.8h0.85M60.9 375.5h0.85M69.1 362.9h0.85M68.7 355.2h0.85M74.1 352.1h0.85M78.7 345.2h0.85M76.3 366.6h0.85M69.1 361.9h0.85M78.0 354.1h0.85M70.6 358.4h0.85M91.2 346.9h0.85M71.0 356.4h0.85M68.4 353.7h0.85M67.7 362.0h0.85M80.3 368.6h0.85M63.3 355.1h0.85M72.0 352.1h0.85M66.8 359.4h0.85M68.3 354.4h0.85M73.7 353.0h0.85M70.4 362.3h0.85M77.2 359.2h0.85M79.8 357.9h0.85M62.0 373.6h0.85M92.1 358.7h0.85M83.4 363.7h0.85M69.2 365.0h0.85M67.5 356.7h0.85M76.2 358.7h0.85M67.7 350.4h0.85M77.8 357.5h0.85M73.3 352.5h0.85M66.9 360.8h0.85M59.3 372.6h0.85M72.4 367.3h0.85M78.9 352.9h0.85M75.8 349.9h0.85M65.9 371.3h0.85M68.6 354.8h0.85M75.6 358.4h0.85M79.1 347.7h0.85M70.5 352.0h0.85M72.5 357.3h0.85M65.8 348.7h0.85M62.9 369.4h0.85M69.7 352.1h0.85M73.5 350.7h0.85M78.7 363.6h0.85M72.6 355.0h0.85M59.6 367.2h0.85M86.4 356.1h0.85M68.6 366.5h0.85M69.6 351.3h0.85M71.5 364.0h0.85M59.6 371.3h0.85M83.6 355.4h0.85M69.0 350.0h0.85M76.1 356.0h0.85M80.8 368.1h0.85M81.0 357.8h0.85M59.7 373.3h0.85M69.0 356.9h0.85M79.8 360.4h0.85M65.1 359.3h0.85M70.3 358.9h0.85M64.1 373.1h0.85M71.4 364.5h0.85M79.7 372.9h0.85M77.4 352.3h0.85M69.3 366.8h0.85M83.8 344.8h0.85M85.7 350.8h0.85M71.0 356.6h0.85M76.5 356.6h0.85M72.1 352.7h0.85M82.5 358.6h0.85M72.1 375.2h0.85M76.9 368.0h0.85M70.5 361.1h0.85M71.3 366.2h0.85M74.4 346.2h0.85M76.4 356.4h0.85M74.1 365.9h0.85M70.5 364.8h0.85M72.5 358.7h0.85M68.9 359.8h0.85M70.2 366.0h0.85M56.4 369.0h0.85M71.9 351.9h0.85M77.8 357.3h0.85M76.3 368.0h0.85M73.9 347.2h0.85M61.3 362.7h0.85M64.0 378.0h0.85M71.7 346.4h0.85M57.3 360.4h0.85M55.6 368.6h0.85M56.4 371.2h0.85M69.0 368.8h0.85M64.3 358.8h0.85M80.0 345.0h0.85M77.1 368.6h0.85M65.5 360.6h0.85M84.0 366.5h0.85M83.7 354.9h0.85M69.9 359.0h0.85M69.8 366.4h0.85M78.3 361.3h0.85M67.7 366.8h0.85M75.9 360.0h0.85M81.0 353.8h0.85M73.3 367.3h0.85M67.2 367.8h0.85M77.6 368.8h0.85M81.5 352.2h0.85M84.9 351.9h0.85M64.2 360.2h0.85M70.1 353.7h0.85M79.3 361.0h0.85M76.8 347.9h0.85M85.2 358.7h0.85M80.6 359.4h0.85M75.1 364.3h0.85M73.7 369.3h0.85M69.0 345.7h0.85M70.0 360.2h0.85M75.4 359.3h0.85M75.5 361.8h0.85M71.4 364.0h0.85M76.4 352.5h0.85M60.3 365.2h0.85M76.0 366.3h0.85M80.3 359.1h0.85M80.6 352.6h0.85M69.3 370.5h0.85M64.3 362.1h0.85M65.3 353.1h0.85M87.3 341.6h0.85M84.9 352.1h0.85M67.3 349.1h0.85M74.1 363.6h0.85M76.6 351.5h0.85M84.0 357.3h0.85M76.2 362.7h0.85M76.5 355.9h0.85M75.1 353.5h0.85M74.4 351.9h0.85M62.7 358.5h0.85M71.5 354.9h0.85M70.5 356.2h0.85M72.9 372.3h0.85M76.6 364.4h0.85M79.5 363.6h0.85M75.5 364.8h0.85M80.0 355.9h0.85M70.7 360.1h0.85M72.2 363.1h0.85M69.5 357.5h0.85M74.2 362.6h0.85M71.9 348.9h0.85M70.9 366.3h0.85M71.1 369.2h0.85M69.1 358.9h0.85M78.1 366.2h0.85M70.6 371.0h0.85M73.9 362.0h0.85M85.0 361.6h0.85M71.1 359.6h0.85M66.4 369.8h0.85M75.1 372.4h0.85M81.0 356.9h0.85M68.5 358.7h0.85M81.3 355.8h0.85M80.5 366.0h0.85M82.9 358.0h0.85M77.6 348.7h0.85M75.0 359.0h0.85M79.0 344.7h0.85M70.5 377.1h0.85M73.8 355.8h0.85M73.4 358.4h0.85M70.3 364.8h0.85M74.5 367.3h0.85M89.9 359.2h0.85M75.1 369.5h0.85M63.2 376.0h0.85M64.9 358.8h0.85M73.1 349.8h0.85M68.4 362.3h0.85M75.5 348.5h0.85M52.2 371.3h0.85M61.3 366.0h0.85M75.9 364.4h0.85M68.8 356.5h0.85M93.9 351.8h0.85M65.7 352.4h0.85M70.9 372.7h0.85M77.5 351.5h0.85M63.1 358.3h0.85M72.5 361.8h0.85M76.0 366.6h0.85M63.5 351.4h0.85M72.0 364.1h0.85M68.8 362.9h0.85M72.0 368.3h0.85M71.2 356.7h0.85M76.1 365.7h0.85M68.2 360.3h0.85M67.7 353.0h0.85M89.4 349.6h0.85M70.4 357.9h0.85M67.0 360.5h0.85M72.0 362.6h0.85M68.8 350.6h0.85M71.7 365.1h0.85M81.4 356.1h0.85M70.8 354.8h0.85M82.9 351.8h0.85M69.1 360.4h0.85M71.1 360.6h0.85M75.5 371.1h0.85M76.1 361.5h0.85M62.5 379.2h0.85M76.2 364.9h0.85M70.4 359.7h0.85M70.0 359.2h0.85M69.9 366.3h0.85M80.0 356.8h0.85M70.6 366.5h0.85M71.2 364.1h0.85M68.2 371.4h0.85M69.5 364.8h0.85M84.5 358.6h0.85M70.8 365.7h0.85M83.2 339.9h0.85M70.0 359.5h0.85M78.6 346.6h0.85M78.2 358.3h0.85M76.6 350.9h0.85M81.5 375.8h0.85M73.5 363.7h0.85M65.4 341.3h0.85M72.1 358.2h0.85M77.3 358.5h0.85M63.5 346.3h0.85M80.3 364.2h0.85M71.7 358.1h0.85M77.5 354.1h0.85M63.8 371.8h0.85M63.0 359.9h0.85M81.6 360.1h0.85M80.2 368.1h0.85M74.0 348.3h0.85M60.8 347.3h0.85M77.8 347.4h0.85M71.8 360.6h0.85M75.0 358.6h0.85M81.6 359.1h0.85M80.1 356.6h0.85M72.8 360.8h0.85M76.0 364.3h0.85M69.3 365.4h0.85M91.9 333.3h0.85M77.1 357.3h0.85M71.1 355.7h0.85M64.5 364.2h0.85M67.6 373.1h0.85M74.9 371.9h0.85M73.5 348.7h0.85M75.7 360.2h0.85M78.6 339.8h0.85M73.2 370.3h0.85M73.2 344.3h0.85M75.6 362.3h0.85M82.4 360.6h0.85M65.7 370.7h0.85M77.6 366.9h0.85M71.4 367.8h0.85M58.0 354.5h0.85M76.9 370.2h0.85M76.7 359.6h0.85M71.5 356.9h0.85M80.4 343.7h0.85M74.6 370.2h0.85M61.0 346.8h0.85M65.8 361.9h0.85M76.5 354.1h0.85M78.2 353.9h0.85M61.4 371.0h0.85M72.7 354.7h0.85M61.2 344.6h0.85M65.3 367.5h0.85M66.3 351.7h0.85M67.2 365.9h0.85M76.8 367.4h0.85M66.6 372.9h0.85M83.9 359.1h0.85M80.0 369.7h0.85M75.4 352.3h0.85M76.4 361.2h0.85M77.6 377.7h0.85M73.0 357.8h0.85M81.4 357.0h0.85M64.0 365.0h0.85M79.7 345.2h0.85M84.7 370.1h0.85M64.9 364.2h0.85M75.5 363.0h0.85M74.7 364.3h0.85M67.3 359.7h0.85M72.1 363.2h0.85M86.5 361.7h0.85M65.4 365.0h0.85M86.2 370.6h0.85M84.7 356.5h0.85M78.1 359.3h0.85M64.8 362.8h0.85M69.9 351.1h0.85M71.7 357.1h0.85M71.0 365.7h0.85M65.3 362.8h0.85M75.4 361.0h0.85M74.7 359.7h0.85M61.6 347.8h0.85M68.6 358.1h0.85M66.2 356.0h0.85M69.9 373.5h0.85M72.0 366.0h0.85M77.5 359.4h0.85M79.6 353.2h0.85M71.4 351.3h0.85M71.9 366.6h0.85M66.5 361.1h0.85M70.9 359.9h0.85M69.9 362.8h0.85M64.0 363.6h0.85M84.5 347.5h0.85M78.5 352.5h0.85M68.7 374.6h0.85M77.5 362.8h0.85M84.4 360.7h0.85M72.0 342.7h0.85M77.7 370.8h0.85M69.6 351.6h0.85M60.6 368.1h0.85M55.8 368.1h0.85M78.5 354.3h0.85M65.3 360.0h0.85M83.7 347.3h0.85M67.1 365.5h0.85M68.3 370.9h0.85M67.5 352.2h0.85M62.1 361.5h0.85M80.5 357.2h0.85M68.6 349.5h0.85M74.5 354.0h0.85M89.0 345.2h0.85M63.1 353.2h0.85M74.0 363.5h0.85M74.3 367.9h0.85M77.6 353.5h0.85M84.6 349.8h0.85M74.1 359.5h0.85M80.7 356.6h0.85M75.0 344.1h0.85M72.1 360.9h0.85M83.3 343.1h0.85M64.2 368.7h0.85M89.0 355.3h0.85M57.7 351.2h0.85M70.0 353.8h0.85M76.1 366.4h0.85M78.2 350.7h0.85M67.7 359.8h0.85M75.6 362.8h0.85M69.9 368.3h0.85M77.7 355.6h0.85M74.1 371.1h0.85M77.2 355.8h0.85M70.3 367.6h0.85M75.4 359.8h0.85M67.5 359.4h0.85M73.8 372.5h0.85M63.5 363.6h0.85M66.1 351.5h0.85M88.8 344.7h0.85M81.3 364.5h0.85M76.0 358.9h0.85M72.4 363.5h0.85M75.4 363.0h0.85M77.2 345.8h0.85M63.7 362.4h0.85M72.4 349.6h0.85M79.4 361.0h0.85M74.8 366.8h0.85M77.1 357.3h0.85M68.4 369.7h0.85M69.3 355.2h0.85M66.0 367.0h0.85M74.5 357.8h0.85M79.4 351.2h0.85M78.5 353.8h0.85M71.6 358.5h0.85M74.2 369.5h0.85M68.4 368.7h0.85M81.4 355.5h0.85M68.1 352.6h0.85M72.2 381.3h0.85M71.4 361.0h0.85M66.0 365.1h0.85M74.5 366.4h0.85M87.4 362.3h0.85M66.8 360.6h0.85M63.6 359.5h0.85M62.7 371.5h0.85M57.3 369.3h0.85M73.6 347.8h0.85M78.2 367.5h0.85M85.2 353.5h0.85M78.0 359.3h0.85M82.9 356.2h0.85M80.6 349.4h0.85M68.0 353.0h0.85M71.4 350.6h0.85M73.7 355.0h0.85M62.8 364.7h0.85M80.7 360.8h0.85M75.1 357.0h0.85M71.4 348.1h0.85M86.5 342.4h0.85M66.4 353.9h0.85M65.1 363.3h0.85M67.4 357.2h0.85M75.1 349.7h0.85M64.8 365.6h0.85M69.1 346.9h0.85M76.9 347.3h0.85M72.5 359.7h0.85M74.6 360.9h0.85M69.7 360.3h0.85M60.9 365.5h0.85M59.3 369.5h0.85M67.4 367.8h0.85M72.2 363.5h0.85M69.3 358.8h0.85M76.0 363.3h0.85M69.8 339.9h0.85M73.6 364.5h0.85M81.6 354.6h0.85M80.1 330.1h0.85M69.7 355.7h0.85M87.2 352.8h0.85M90.9 353.7h0.85M69.5 356.2h0.85M66.6 362.5h0.85M73.6 351.7h0.85M85.1 363.3h0.85M70.4 364.2h0.85M71.3 356.1h0.85M66.5 356.6h0.85M85.1 368.1h0.85M71.7 357.4h0.85M80.6 350.5h0.85M77.8 346.2h0.85M75.4 364.2h0.85M78.5 369.5h0.85M81.1 353.5h0.85M62.8 345.1h0.85M65.0 361.0h0.85M75.8 361.8h0.85M73.5 357.8h0.85M75.2 367.2h0.85M73.1 366.6h0.85M82.8 357.8h0.85M77.7 360.6h0.85M81.2 363.4h0.85M74.3 368.2h0.85M81.4 358.5h0.85M64.1 375.9h0.85M74.5 364.7h0.85M74.2 357.0h0.85M64.4 362.7h0.85M71.4 364.2h0.85M70.8 360.1h0.85M78.2 357.9h0.85M68.6 364.8h0.85M70.7 352.6h0.85M65.3 355.6h0.85M68.5 344.1h0.85M62.5 358.5h0.85M69.9 359.3h0.85M76.8 350.2h0.85M83.7 358.8h0.85M55.5 365.0h0.85M65.6 366.0h0.85M85.2 344.8h0.85M73.5 351.2h0.85M62.1 368.1h0.85M78.7 352.5h0.85M69.9 351.3h0.85M67.9 359.4h0.85M71.4 365.5h0.85M74.1 358.8h0.85M73.4 364.1h0.85M76.7 347.9h0.85M71.3 363.2h0.85M67.1 350.4h0.85M65.5 352.7h0.85M71.1 358.9h0.85M76.5 343.7h0.85M75.9 364.7h0.85M91.6 351.0h0.85M78.0 344.6h0.85M80.4 369.5h0.85M74.6 354.3h0.85M83.4 348.7h0.85M85.4 347.2h0.85M76.1 360.8h0.85M74.0 354.7h0.85M65.4 372.6h0.85M75.9 351.8h0.85M63.3 368.6h0.85M82.3 355.9h0.85M69.5 365.0h0.85M76.2 367.7h0.85M71.6 354.6h0.85M72.1 349.5h0.85M64.8 358.1h0.85M71.5 360.5h0.85M62.5 360.3h0.85M86.8 341.7h0.85M70.0 356.8h0.85M77.1 352.0h0.85M88.9 349.9h0.85M74.4 360.2h0.85M82.5 359.6h0.85M62.7 363.3h0.85M68.2 369.8h0.85M76.4 361.0h0.85M72.0 354.3h0.85M80.1 364.0h0.85M88.8 352.2h0.85M80.7 348.8h0.85M76.6 358.4h0.85M65.0 357.5h0.85M73.4 357.6h0.85M70.6 358.1h0.85M72.6 356.2h0.85M60.5 364.6h0.85M84.9 354.1h0.85M73.7 353.0h0.85M66.9 354.3h0.85M63.1 363.0h0.85M66.1 364.1h0.85M73.3 348.5h0.85M88.3 351.6h0.85M73.6 355.7h0.85M64.3 362.0h0.85M76.3 342.4h0.85M72.8 360.4h0.85M85.6 340.3h0.85M67.5 369.7h0.85M67.3 366.1h0.85M65.5 353.2h0.85M77.9 353.6h0.85M64.8 362.3h0.85M80.9 355.9h0.85M88.5 344.5h0.85M84.3 357.8h0.85M78.8 363.0h0.85M70.6 358.0h0.85M63.0 357.3h0.85M67.5 368.7h0.85M69.3 363.2h0.85M72.0 377.4h0.85M66.8 354.4h0.85M77.0 344.7h0.85M72.8 351.9h0.85M66.5 359.9h0.85M87.1 361.3h0.85M78.4 361.0h0.85M76.1 353.2h0.85M73.7 358.3h0.85M77.0 364.6h0.85M64.3 352.3h0.85M82.8 347.7h0.85M81.0 377.8h0.85M80.0 359.4h0.85M71.6 361.1h0.85M79.0 380.0h0.85M78.8 356.1h0.85M84.0 355.7h0.85M81.8 358.5h0.85M74.1 364.7h0.85M71.5 354.9h0.85M72.0 360.3h0.85M69.9 366.1h0.85M74.9 360.9h0.85M70.1 362.0h0.85M77.5 355.6h0.85M70.8 362.1h0.85M74.2 354.5h0.85M78.5 360.8h0.85M85.8 346.3h0.85M63.5 364.6h0.85M86.1 362.1h0.85M72.6 353.9h0.85M74.7 355.0h0.85M66.8 362.1h0.85M67.7 358.8h0.85M67.3 359.7h0.85M75.9 358.7h0.85M74.3 351.0h0.85M62.3 362.1h0.85M72.3 364.4h0.85M62.7 369.6h0.85M71.6 351.6h0.85M68.3 357.3h0.85M82.0 352.9h0.85M74.7 352.0h0.85M62.8 357.2h0.85M60.9 360.8h0.85M70.8 373.0h0.85M69.0 368.8h0.85M76.9 364.0h0.85M73.8 357.9h0.85M75.8 367.0h0.85M66.7 352.0h0.85M68.2 350.0h0.85M69.3 358.0h0.85M67.0 359.7h0.85M80.8 357.0h0.85M80.2 355.6h0.85M73.1 348.9h0.85M81.1 358.8h0.85M82.7 355.3h0.85M68.0 376.4h0.85M64.6 347.0h0.85M77.9 349.7h0.85M64.1 364.2h0.85M66.7 374.7h0.85M87.2 370.7h0.85M68.5 367.6h0.85M67.8 357.0h0.85M70.7 358.5h0.85M74.8 356.2h0.85M82.2 345.7h0.85M75.2 346.5h0.85M76.0 367.2h0.85M83.2 360.6h0.85M73.6 354.1h0.85M69.6 361.6h0.85M67.1 351.3h0.85M81.5 360.3h0.85M75.7 355.2h0.85M77.2 354.7h0.85M75.4 358.8h0.85M72.7 354.6h0.85M77.3 351.8h0.85M83.7 362.6h0.85M70.8 363.6h0.85M78.4 357.7h0.85M64.5 364.2h0.85M70.0 358.8h0.85M87.1 354.9h0.85M62.5 368.3h0.85M79.9 350.9h0.85M72.2 354.3h0.85M74.5 367.5h0.85M91.1 351.6h0.85M73.6 369.6h0.85M70.9 366.8h0.85M66.7 367.0h0.85M84.1 363.1h0.85M83.8 362.9h0.85M72.8 364.8h0.85M78.8 359.2h0.85M78.9 355.4h0.85M66.8 372.1h0.85M74.0 371.4h0.85M86.0 351.9h0.85M84.3 358.8h0.85M75.5 345.6h0.85M69.6 358.8h0.85M68.4 352.1h0.85M60.6 364.6h0.85M75.3 365.2h0.85M62.4 351.2h0.85M87.1 353.7h0.85M71.9 367.5h0.85M64.8 360.8h0.85M78.4 360.9h0.85M78.7 354.4h0.85M83.2 345.1h0.85M57.0 363.2h0.85M73.5 359.0h0.85M57.9 354.4h0.85M70.0 366.9h0.85M80.9 369.2h0.85M63.9 358.5h0.85M60.2 354.5h0.85M63.7 361.4h0.85M66.5 363.7h0.85M82.4 354.1h0.85M69.5 360.6h0.85M71.2 358.2h0.85M67.8 362.0h0.85M68.6 364.1h0.85M73.7 367.0h0.85M76.4 362.1h0.85M71.9 356.3h0.85M76.6 351.8h0.85M75.3 371.0h0.85M67.7 366.1h0.85M76.9 358.1h0.85M80.0 353.6h0.85M63.9 366.3h0.85M75.9 360.6h0.85M78.9 349.4h0.85M66.6 374.9h0.85M70.5 368.0h0.85M75.5 344.3h0.85M73.9 364.7h0.85M63.5 361.6h0.85M64.9 360.0h0.85M73.5 353.6h0.85M62.9 367.2h0.85M76.6 354.5h0.85M67.7 367.7h0.85M71.6 368.7h0.85M77.2 355.9h0.85M79.6 343.5h0.85M66.0 362.2h0.85M79.0 363.7h0.85M76.3 352.2h0.85M72.1 373.6h0.85M77.5 365.8h0.85M73.4 350.4h0.85M70.0 370.0h0.85M67.1 370.8h0.85M76.1 345.5h0.85M73.0 355.5h0.85M71.2 370.9h0.85M62.8 350.9h0.85M70.2 361.2h0.85M74.5 359.9h0.85M66.5 359.9h0.85M87.4 358.3h0.85M78.4 360.2h0.85M74.1 347.8h0.85M76.0 377.0h0.85M60.2 368.1h0.85M63.6 367.5h0.85M74.8 358.0h0.85M64.0 358.2h0.85M81.8 354.3h0.85M72.2 363.6h0.85M68.5 359.3h0.85M72.0 356.1h0.85M80.9 345.8h0.85M76.6 338.5h0.85M83.2 339.2h0.85M79.8 337.5h0.85M90.7 338.9h0.85M81.2 347.2h0.85M73.9 345.8h0.85M73.1 340.8h0.85M83.8 347.7h0.85M81.8 337.4h0.85M79.0 347.1h0.85M77.5 342.0h0.85M80.5 347.0h0.85M76.4 336.0h0.85M76.8 343.1h0.85M78.4 344.8h0.85M85.1 341.0h0.85M81.5 339.0h0.85M79.0 346.0h0.85M73.7 350.1h0.85M75.3 342.9h0.85M82.3 345.1h0.85M79.9 339.6h0.85M89.0 339.3h0.85M79.7 343.3h0.85M80.2 341.4h0.85M76.6 338.5h0.85M73.9 348.5h0.85M87.8 341.2h0.85M80.2 341.5h0.85M77.6 353.5h0.85M80.4 345.5h0.85M84.6 326.3h0.85M82.8 341.7h0.85M80.0 343.4h0.85M82.8 345.1h0.85M87.6 338.1h0.85M81.6 347.1h0.85M76.7 343.0h0.85M82.5 343.2h0.85M79.1 344.5h0.85M92.8 336.4h0.85M74.2 345.7h0.85M70.6 342.7h0.85M70.0 352.4h0.85M83.4 340.6h0.85M68.5 340.4h0.85M74.3 360.0h0.85M72.0 345.4h0.85M83.6 344.6h0.85M77.6 340.7h0.85M84.4 340.4h0.85M71.6 341.9h0.85M76.5 351.5h0.85M78.6 334.3h0.85M77.6 348.0h0.85M74.8 341.7h0.85M73.1 346.3h0.85M79.6 340.0h0.85M80.1 345.4h0.85M76.1 343.7h0.85M82.6 340.5h0.85M71.4 348.6h0.85M79.1 345.2h0.85M80.4 350.8h0.85M72.5 355.6h0.85M81.9 345.9h0.85M75.0 344.7h0.85M78.8 345.6h0.85M71.2 345.4h0.85M69.7 357.3h0.85M76.1 340.7h0.85M76.8 347.0h0.85M84.2 344.8h0.85M70.8 343.9h0.85M80.6 343.3h0.85M83.5 339.0h0.85M77.9 332.9h0.85M78.9 346.4h0.85M80.3 338.4h0.85M79.3 343.1h0.85M74.8 341.7h0.85M80.3 346.0h0.85M89.1 334.8h0.85M77.9 347.8h0.85M77.1 347.9h0.85M70.1 355.0h0.85M84.2 342.0h0.85M72.9 343.0h0.85M75.5 351.6h0.85M76.9 345.2h0.85M82.4 340.1h0.85M76.2 332.5h0.85M83.6 349.4h0.85M80.3 338.0h0.85M81.9 340.8h0.85M65.7 345.8h0.85M69.4 344.6h0.85M73.6 349.3h0.85M71.7 346.3h0.85M78.7 334.9h0.85M79.7 339.3h0.85M74.4 337.0h0.85M79.4 339.7h0.85M78.7 343.0h0.85M86.6 339.3h0.85M79.7 350.1h0.85M77.0 350.0h0.85M81.8 332.2h0.85M86.8 339.7h0.85M73.7 343.4h0.85M80.3 343.9h0.85M89.9 330.5h0.85M81.0 339.5h0.85M77.2 341.3h0.85M75.6 352.6h0.85M80.2 342.4h0.85M80.9 334.4h0.85M78.6 340.5h0.85M74.6 351.6h0.85M80.4 345.8h0.85M76.5 344.4h0.85M79.3 346.1h0.85M80.0 345.2h0.85M75.6 346.8h0.85M81.5 344.9h0.85M77.9 344.7h0.85M79.1 344.7h0.85M79.3 340.4h0.85M76.8 344.4h0.85M74.0 331.9h0.85M78.9 341.1h0.85M80.5 345.6h0.85M81.1 341.0h0.85M80.2 333.8h0.85M82.1 337.4h0.85M75.5 346.7h0.85M76.2 339.1h0.85M78.0 338.1h0.85M83.2 335.8h0.85M78.8 348.7h0.85M80.7 354.2h0.85M84.3 342.9h0.85M73.3 348.1h0.85M85.4 345.8h0.85M82.2 345.3h0.85M78.7 345.1h0.85M81.3 342.4h0.85M85.7 336.4h0.85M85.6 338.0h0.85M74.3 343.0h0.85M75.2 343.0h0.85M82.5 348.3h0.85M83.2 327.9h0.85M85.2 337.2h0.85M81.3 348.8h0.85M84.7 350.2h0.85M79.7 337.9h0.85M74.8 354.4h0.85M77.6 344.4h0.85M76.9 339.1h0.85M86.8 347.5h0.85M80.3 346.0h0.85M75.8 343.5h0.85M76.8 348.9h0.85M85.5 338.0h0.85M70.9 349.9h0.85M89.5 334.5h0.85M88.4 341.6h0.85M80.8 334.4h0.85M78.5 335.7h0.85M82.6 353.7h0.85M80.5 338.9h0.85M76.3 343.3h0.85M80.1 350.1h0.85M79.9 343.4h0.85M74.4 339.8h0.85M80.5 342.0h0.85M78.6 345.8h0.85M87.3 335.6h0.85M82.7 346.8h0.85M76.9 337.1h0.85M73.3 345.7h0.85M79.9 344.7h0.85M82.8 347.1h0.85M85.9 349.4h0.85M79.3 343.9h0.85M75.0 338.3h0.85M79.3 337.4h0.85M86.0 336.9h0.85M87.6 336.5h0.85M78.7 348.8h0.85M81.4 349.5h0.85M75.3 348.2h0.85M77.4 346.1h0.85M72.7 340.7h0.85M78.0 345.7h0.85M74.3 339.9h0.85M70.5 343.0h0.85M87.4 337.2h0.85M69.9 339.0h0.85M73.9 342.4h0.85M80.7 347.1h0.85M76.9 347.0h0.85M79.0 346.5h0.85M84.6 345.4h0.85M71.2 349.4h0.85M77.7 331.7h0.85M81.5 341.0h0.85M73.3 335.0h0.85M81.9 343.6h0.85M82.6 342.4h0.85M89.2 336.3h0.85M79.8 343.3h0.85M87.3 347.0h0.85M76.6 350.1h0.85M76.2 348.3h0.85M71.7 336.2h0.85M84.3 343.6h0.85M77.5 334.7h0.85M76.7 340.9h0.85M83.1 342.5h0.85M69.6 342.2h0.85M73.8 341.2h0.85M73.3 350.9h0.85M85.1 340.0h0.85M75.7 339.2h0.85M79.2 354.5h0.85M84.2 343.9h0.85M85.3 338.0h0.85M76.9 346.2h0.85M73.7 351.2h0.85M76.6 337.3h0.85M84.1 339.9h0.85M78.0 350.6h0.85M86.6 337.2h0.85M85.4 333.4h0.85M86.6 341.7h0.85M79.7 350.9h0.85M81.6 333.1h0.85M81.3 347.1h0.85M84.6 349.5h0.85M77.7 337.1h0.85M71.7 343.0h0.85M76.5 344.9h0.85M87.8 337.7h0.85M73.1 345.3h0.85M80.5 346.4h0.85M86.5 343.3h0.85M81.0 338.7h0.85M81.3 347.6h0.85M77.7 352.2h0.85M79.6 347.0h0.85M71.3 351.5h0.85M78.9 340.7h0.85M80.5 344.0h0.85M75.9 337.5h0.85M81.5 346.0h0.85M80.4 341.3h0.85M78.4 333.6h0.85M77.0 340.0h0.85M78.8 331.4h0.85M73.0 342.5h0.85M70.2 338.9h0.85M86.8 339.3h0.85M76.9 344.0h0.85M74.3 345.2h0.85M77.0 338.3h0.85M79.7 346.4h0.85M79.5 336.2h0.85M79.9 339.5h0.85M77.2 344.6h0.85M81.7 346.6h0.85M77.6 356.5h0.85M84.2 345.3h0.85M88.2 346.1h0.85M87.3 346.7h0.85M77.6 348.2h0.85M85.2 345.4h0.85M86.2 344.2h0.85M75.6 343.4h0.85M74.9 337.9h0.85M89.6 344.3h0.85M85.8 334.3h0.85M83.6 339.4h0.85M83.2 345.8h0.85M86.0 336.9h0.85M86.0 346.4h0.85M81.5 336.9h0.85M73.5 336.4h0.85M71.7 349.8h0.85M71.6 341.7h0.85M81.1 340.0h0.85M82.0 348.6h0.85M77.1 347.4h0.85M84.9 341.2h0.85M84.6 341.2h0.85M80.5 347.6h0.85M78.6 342.6h0.85M82.4 347.6h0.85M74.4 350.8h0.85M80.7 344.0h0.85M86.6 336.1h0.85M75.3 338.8h0.85M80.5 345.5h0.85M72.4 348.1h0.85M73.8 346.3h0.85M90.2 345.6h0.85M79.8 348.1h0.85M83.6 329.7h0.85M75.8 348.5h0.85M82.6 336.8h0.85M82.1 344.6h0.85M79.3 343.4h0.85M89.3 344.1h0.85M84.2 332.9h0.85M78.0 348.1h0.85M81.0 341.9h0.85M75.2 346.5h0.85M79.2 335.1h0.85M92.5 338.2h0.85M70.8 338.6h0.85M76.7 341.9h0.85M75.6 344.1h0.85M87.1 335.4h0.85M85.3 345.6h0.85M74.2 337.7h0.85M83.5 347.2h0.85M83.6 345.2h0.85M76.5 347.8h0.85M74.5 348.1h0.85M84.2 345.6h0.85M86.4 344.4h0.85M85.1 342.5h0.85M88.2 340.3h0.85M87.2 337.4h0.85M74.1 346.4h0.85M79.6 340.9h0.85M76.0 348.9h0.85M82.1 347.3h0.85M77.9 345.8h0.85M75.0 341.5h0.85M83.9 346.2h0.85M80.5 349.4h0.85M76.2 351.7h0.85M79.2 342.9h0.85M75.2 352.0h0.85M75.0 352.2h0.85M86.9 331.4h0.85M79.6 337.5h0.85M77.4 344.0h0.85M78.4 347.3h0.85M82.1 333.4h0.85M73.7 338.4h0.85M73.0 348.3h0.85M79.0 343.9h0.85M69.4 344.8h0.85M68.7 346.7h0.85M76.6 346.6h0.85M82.4 346.7h0.85M78.6 345.6h0.85M74.7 356.6h0.85M80.5 337.3h0.85M80.1 348.9h0.85M76.0 350.5h0.85M78.2 350.6h0.85M79.9 338.6h0.85M80.7 349.3h0.85M70.2 341.3h0.85M81.6 336.9h0.85M70.7 346.3h0.85M77.2 342.5h0.85M77.7 345.4h0.85M75.3 336.4h0.85M78.4 342.0h0.85M78.7 343.8h0.85M76.1 336.1h0.85M81.9 350.1h0.85M82.2 343.0h0.85M118.8 377.3h0.85M112.4 354.3h0.85M100.2 365.4h0.85M107.6 344.2h0.85M111.3 376.0h0.85M103.9 350.0h0.85M99.9 356.2h0.85M114.4 360.1h0.85M114.9 349.5h0.85M101.6 346.0h0.85M103.4 364.8h0.85M106.3 376.3h0.85M102.8 342.7h0.85M117.9 341.7h0.85M106.8 364.9h0.85M110.3 367.9h0.85M104.9 356.2h0.85M106.9 343.1h0.85M116.0 345.4h0.85M101.7 370.5h0.85M103.4 366.3h0.85M101.0 374.0h0.85M103.6 348.1h0.85M115.5 371.7h0.85M112.4 348.8h0.85M99.5 372.9h0.85M99.5 351.7h0.85M109.5 351.9h0.85M117.1 372.8h0.85M118.7 374.5h0.85M102.6 368.8h0.85M108.9 351.4h0.85M94.4 347.8h0.85M115.8 348.0h0.85M112.5 374.4h0.85M104.8 356.8h0.85M113.1 367.2h0.85M117.5 357.6h0.85M100.2 350.1h0.85M97.8 350.2h0.85M100.4 345.9h0.85M107.9 369.6h0.85M114.2 341.5h0.85M119.6 361.6h0.85M109.7 356.8h0.85M115.4 358.2h0.85M104.5 374.5h0.85M101.5 369.5h0.85M98.0 375.5h0.85M95.6 356.8h0.85M116.9 347.7h0.85M100.6 375.2h0.85M116.9 363.1h0.85M117.3 345.6h0.85M107.5 369.3h0.85M102.0 372.7h0.85M108.7 370.5h0.85M103.9 361.2h0.85M108.7 369.0h0.85M115.0 359.4h0.85M100.9 352.3h0.85M116.5 357.5h0.85M99.2 346.6h0.85M109.9 356.1h0.85M100.3 343.0h0.85M91.9 338.9h0.85M112.8 336.6h0.85M110.2 377.8h0.85M110.2 341.2h0.85M118.0 339.8h0.85M99.1 357.0h0.85M113.1 362.8h0.85M116.6 362.4h0.85M112.2 347.3h0.85M106.4 346.5h0.85M108.1 370.1h0.85M116.3 369.4h0.85M102.4 369.0h0.85M109.4 348.5h0.85M101.2 341.4h0.85M108.6 370.3h0.85M117.8 342.9h0.85M106.8 352.3h0.85M102.0 367.7h0.85M105.9 365.4h0.85M104.8 375.7h0.85M101.8 336.9h0.85M111.4 348.9h0.85M94.6 362.4h0.85M117.2 370.9h0.85M115.6 346.1h0.85M116.9 348.1h0.85M115.2 368.9h0.85M105.0 347.8h0.85M114.0 338.6h0.85M108.8 375.5h0.85M107.6 351.7h0.85M106.1 347.0h0.85M98.9 350.4h0.85M109.9 374.4h0.85M119.0 350.4h0.85M99.3 350.8h0.85M113.4 335.2h0.85M117.2 369.8h0.85M104.5 367.3h0.85M99.1 349.7h0.85M109.4 343.2h0.85M100.5 335.8h0.85M119.4 373.3h0.85M117.9 376.3h0.85M123.1 372.4h0.85M104.6 366.2h0.85M112.1 371.1h0.85M118.7 350.3h0.85M109.5 372.0h0.85M117.0 342.5h0.85M110.5 362.9h0.85M113.6 366.4h0.85M99.5 341.7h0.85M103.5 350.8h0.85M97.1 362.4h0.85M115.4 371.6h0.85M115.9 372.4h0.85M100.7 340.2h0.85M101.4 337.4h0.85M112.7 371.9h0.85M117.4 373.6h0.85M105.5 349.6h0.85M115.0 345.1h0.85M112.4 340.6h0.85M118.1 345.6h0.85M112.2 339.8h0.85M101.0 346.8h0.85M95.8 339.2h0.85M96.5 348.6h0.85M114.5 357.8h0.85M103.6 355.4h0.85M117.4 356.4h0.85M120.6 339.4h0.85M118.0 355.2h0.85M111.8 377.2h0.85M114.1 339.5h0.85M112.1 376.6h0.85M107.0 359.8h0.85M112.5 345.3h0.85M112.6 374.5h0.85M98.4 346.7h0.85M115.0 351.1h0.85M113.9 367.9h0.85M118.3 354.4h0.85M96.1 359.2h0.85M116.7 336.6h0.85M104.9 374.2h0.85M97.3 337.9h0.85M105.9 368.2h0.85M108.0 354.0h0.85M101.4 362.6h0.85M112.5 364.1h0.85M112.8 348.1h0.85M111.2 355.4h0.85M99.0 375.7h0.85M114.9 370.8h0.85M95.2 344.7h0.85M95.7 365.6h0.85M99.4 342.3h0.85M109.0 355.2h0.85M105.4 355.9h0.85M113.0 355.5h0.85M96.8 339.1h0.85M104.4 338.4h0.85M104.4 375.1h0.85M95.7 352.5h0.85M99.7 364.6h0.85M104.1 345.2h0.85M100.0 368.1h0.85M107.2 357.5h0.85M100.2 355.2h0.85M97.2 376.3h0.85M97.3 346.5h0.85M110.6 362.6h0.85M112.8 353.5h0.85M113.8 364.5h0.85M115.1 358.6h0.85M105.7 348.8h0.85M115.0 345.6h0.85M109.4 355.6h0.85M105.4 339.0h0.85M110.4 371.1h0.85M93.7 347.2h0.85M110.2 366.3h0.85M100.5 356.7h0.85M117.5 340.6h0.85M107.8 355.0h0.85M101.6 338.7h0.85M98.4 370.6h0.85M98.4 335.3h0.85M108.3 350.0h0.85M113.9 351.8h0.85M102.4 343.9h0.85M102.1 357.8h0.85M97.6 350.2h0.85M100.9 375.5h0.85M118.1 351.3h0.85M97.9 340.5h0.85M109.1 371.5h0.85M111.9 342.0h0.85M104.9 359.3h0.85M111.3 367.6h0.85M113.4 360.3h0.85M107.5 356.0h0.85M113.4 343.4h0.85M116.8 344.4h0.85M105.1 353.2h0.85M104.0 376.1h0.85M118.4 366.8h0.85M101.0 337.4h0.85M105.4 366.4h0.85M117.5 350.9h0.85M118.4 340.4h0.85M106.0 377.2h0.85M115.1 359.2h0.85M105.9 358.2h0.85M97.2 372.2h0.85M101.3 363.4h0.85M106.7 340.6h0.85M103.3 352.9h0.85M108.3 345.0h0.85M116.2 369.6h0.85M110.6 338.7h0.85M104.9 362.3h0.85M101.3 365.3h0.85M96.9 345.5h0.85M101.4 359.4h0.85M105.8 370.6h0.85M97.8 346.0h0.85M95.1 365.2h0.85M100.5 375.1h0.85M111.2 367.7h0.85M104.2 363.7h0.85M109.1 348.4h0.85M100.8 344.2h0.85M99.3 337.9h0.85M105.7 359.4h0.85M96.9 341.3h0.85M120.8 363.8h0.85M108.3 350.4h0.85M112.6 353.1h0.85M100.0 354.6h0.85M103.7 344.7h0.85M113.2 349.4h0.85M118.1 346.7h0.85M112.3 366.1h0.85M110.3 348.1h0.85M104.7 348.6h0.85M101.4 340.4h0.85M106.5 377.0h0.85M108.0 372.0h0.85M108.0 354.4h0.85M102.0 348.8h0.85M110.3 338.4h0.85M102.0 336.8h0.85M100.9 347.3h0.85M104.9 365.2h0.85M100.9 367.2h0.85M123.1 373.6h0.85M103.2 345.1h0.85M96.5 342.0h0.85M97.8 343.9h0.85M115.3 372.2h0.85M100.2 371.2h0.85M104.6 370.1h0.85M118.4 362.8h0.85M102.8 337.2h0.85M105.5 342.1h0.85M117.3 353.3h0.85M100.2 361.2h0.85M112.0 372.4h0.85M118.4 366.8h0.85M101.2 356.4h0.85M101.0 338.0h0.85M110.9 354.0h0.85M117.7 352.8h0.85M99.6 358.3h0.85M113.5 378.0h0.85M104.7 350.8h0.85M103.8 370.0h0.85M112.0 338.5h0.85M100.2 349.1h0.85M112.0 357.1h0.85M110.5 350.2h0.85M107.6 355.4h0.85M108.1 373.8h0.85M111.7 343.0h0.85M103.3 343.0h0.85M96.8 349.7h0.85M107.5 349.1h0.85M104.8 361.9h0.85M101.4 339.5h0.85M119.0 372.4h0.85M101.1 367.8h0.85M112.7 351.0h0.85M117.9 374.1h0.85M106.1 364.5h0.85M111.5 355.5h0.85M114.6 370.2h0.85M99.3 362.0h0.85M112.5 366.4h0.85M105.6 340.2h0.85M103.3 340.4h0.85M98.6 350.9h0.85M100.0 354.9h0.85M112.8 351.9h0.85M106.3 377.8h0.85M105.0 340.2h0.85M98.6 353.9h0.85M102.8 356.1h0.85M116.4 350.9h0.85M97.7 337.6h0.85M113.5 340.6h0.85M117.8 360.5h0.85M97.2 349.7h0.85M119.5 362.1h0.85M108.7 362.7h0.85M121.2 335.5h0.85M108.2 342.2h0.85M114.4 370.9h0.85M114.8 341.5h0.85M102.4 348.7h0.85M99.3 368.2h0.85M109.1 356.3h0.85M103.8 371.9h0.85M118.0 336.9h0.85M96.8 351.7h0.85M100.7 362.6h0.85M105.9 366.0h0.85M114.3 359.0h0.85M113.2 347.1h0.85M100.6 344.0h0.85M106.2 359.5h0.85M99.3 357.3h0.85M116.3 351.0h0.85M100.8 339.8h0.85M105.0 341.9h0.85M101.0 358.9h0.85M119.8 337.2h0.85M112.8 364.2h0.85M117.3 340.7h0.85M113.0 360.5h0.85M111.9 370.4h0.85M113.9 361.5h0.85M99.8 354.1h0.85M117.7 377.8h0.85M111.1 353.4h0.85M94.1 345.9h0.85M119.4 372.0h0.85M113.6 362.9h0.85M115.8 366.2h0.85M98.6 343.0h0.85M111.0 340.3h0.85M123.8 360.9h0.85M121.5 357.0h0.85M98.5 352.0h0.85M95.4 379.9h0.85M109.2 365.8h0.85M95.1 376.6h0.85M111.6 350.6h0.85M110.4 351.3h0.85M101.6 363.8h0.85M110.8 346.8h0.85M110.7 371.0h0.85M100.9 364.0h0.85M119.8 355.0h0.85M106.5 365.4h0.85M112.2 374.3h0.85M106.0 345.6h0.85M110.4 376.2h0.85M101.5 364.1h0.85M117.5 346.0h0.85M96.7 372.6h0.85M100.4 354.4h0.85M99.3 369.7h0.85M108.6 348.9h0.85M113.7 356.2h0.85M100.0 360.7h0.85M102.5 365.4h0.85M114.2 353.6h0.85M99.1 340.1h0.85M115.9 356.0h0.85M96.3 365.6h0.85M114.0 354.6h0.85M111.8 361.0h0.85M96.9 354.3h0.85M103.3 344.6h0.85M110.8 349.3h0.85M101.4 373.0h0.85M118.1 360.7h0.85M108.0 343.9h0.85M101.8 365.3h0.85M102.4 357.4h0.85M124.3 374.9h0.85M117.4 368.5h0.85M116.6 374.1h0.85M102.0 352.2h0.85M104.1 372.9h0.85M92.1 370.1h0.85M95.5 343.4h0.85M122.6 335.2h0.85M95.4 343.9h0.85M112.2 341.0h0.85M111.5 376.3h0.85M95.5 365.4h0.85M103.8 369.5h0.85M94.2 337.1h0.85M101.1 371.8h0.85M113.3 347.8h0.85M116.1 364.5h0.85M106.0 341.6h0.85M96.8 344.7h0.85M107.5 350.1h0.85M104.2 355.6h0.85M90.7 345.2h0.85M93.9 362.4h0.85M111.2 350.7h0.85M97.2 341.0h0.85M99.1 355.7h0.85M87.2 357.7h0.85M87.4 352.1h0.85M95.3 351.5h0.85M95.7 355.1h0.85M87.6 352.8h0.85M99.2 360.5h0.85M85.3 346.7h0.85M88.9 338.1h0.85M96.8 369.2h0.85M87.5 347.7h0.85M89.2 350.0h0.85M85.3 369.5h0.85M83.8 357.4h0.85M101.5 352.2h0.85M105.7 334.2h0.85M66.7 357.2h0.85M96.3 349.3h0.85M94.9 343.2h0.85M83.9 343.1h0.85M93.0 356.5h0.85M110.1 348.2h0.85M77.9 359.7h0.85M89.2 340.8h0.85M99.0 332.4h0.85M81.3 368.8h0.85M88.1 355.5h0.85M104.4 338.6h0.85M94.0 362.0h0.85M100.5 364.3h0.85M115.1 370.7h0.85M99.1 344.6h0.85M100.4 344.2h0.85M76.7 336.4h0.85M93.1 350.2h0.85M87.7 361.5h0.85M91.5 343.3h0.85M92.6 350.3h0.85M98.1 350.2h0.85M100.8 346.4h0.85M91.5 356.3h0.85M85.7 352.7h0.85M94.3 360.7h0.85M70.8 363.2h0.85M89.6 351.4h0.85M105.3 355.8h0.85M80.1 347.7h0.85M99.3 347.8h0.85M96.0 359.3h0.85M110.2 344.0h0.85M78.4 343.4h0.85M88.6 360.4h0.85M94.9 363.1h0.85M94.4 337.5h0.85M96.2 344.2h0.85M95.5 334.8h0.85M99.6 340.5h0.85M89.0 359.3h0.85M90.5 341.9h0.85M105.8 347.4h0.85M101.4 349.8h0.85M76.5 348.7h0.85M96.1 349.2h0.85M107.5 334.1h0.85M86.1 356.9h0.85M102.7 359.1h0.85M84.1 354.0h0.85M97.2 368.4h0.85M111.9 355.5h0.85M98.4 358.1h0.85M91.7 353.5h0.85M96.0 352.1h0.85M98.7 350.9h0.85M87.6 361.8h0.85M101.0 343.4h0.85M98.0 342.2h0.85M95.5 343.8h0.85M87.2 354.8h0.85M84.5 358.1h0.85M107.0 348.3h0.85M85.9 354.6h0.85M90.6 335.9h0.85M112.0 345.9h0.85M109.1 359.4h0.85M98.7 354.6h0.85M89.8 356.9h0.85M87.3 354.6h0.85M84.9 351.1h0.85M67.0 345.3h0.85M95.9 351.5h0.85M95.4 355.8h0.85M108.1 345.7h0.85M60.4 355.7h0.85M94.5 350.8h0.85M99.0 366.2h0.85M95.3 341.7h0.85M99.2 343.9h0.85M79.1 340.2h0.85M92.6 337.2h0.85M89.2 355.2h0.85M72.2 362.7h0.85M110.4 349.1h0.85M91.7 348.2h0.85M66.1 352.5h0.85M79.1 349.1h0.85M83.0 342.0h0.85M86.0 340.4h0.85M72.9 362.2h0.85M82.8 359.5h0.85M99.2 347.6h0.85M92.9 351.1h0.85M97.0 354.6h0.85M90.0 350.2h0.85M101.6 342.6h0.85M77.6 330.1h0.85M89.3 360.0h0.85M111.0 344.8h0.85M93.9 342.1h0.85M93.4 348.8h0.85M100.5 358.3h0.85M96.3 351.3h0.85M100.2 348.6h0.85M103.9 365.0h0.85M100.0 367.2h0.85M86.9 355.4h0.85M94.8 343.4h0.85M95.4 349.1h0.85M96.7 352.0h0.85M98.7 347.5h0.85M92.5 359.5h0.85M104.0 352.3h0.85M77.0 359.5h0.85M98.1 340.1h0.85M74.9 335.1h0.85M78.3 368.0h0.85M88.5 349.1h0.85M99.1 365.0h0.85M93.9 349.9h0.85M101.7 363.6h0.85M94.8 345.2h0.85M83.0 359.0h0.85M83.9 345.1h0.85M73.3 338.6h0.85M97.9 345.0h0.85M99.3 349.1h0.85M87.6 359.6h0.85M93.6 347.4h0.85M105.9 341.0h0.85M82.4 350.8h0.85M92.2 332.2h0.85M89.7 348.1h0.85M84.6 352.6h0.85M73.4 354.8h0.85M101.5 372.6h0.85M80.8 359.9h0.85M85.2 334.6h0.85M92.2 342.6h0.85M87.1 342.2h0.85M96.5 348.8h0.85M96.0 352.8h0.85M96.2 351.0h0.85M81.6 357.1h0.85M88.9 351.1h0.85M93.6 351.8h0.85M86.4 344.7h0.85M84.1 347.5h0.85M98.7 341.7h0.85M94.7 367.5h0.85M79.7 351.1h0.85M95.1 348.2h0.85M87.4 357.7h0.85M91.3 352.8h0.85M82.4 362.6h0.85M109.6 347.7h0.85M96.1 345.2h0.85M103.2 354.7h0.85M94.4 349.5h0.85M83.7 352.7h0.85M95.5 332.6h0.85M93.3 332.3h0.85M106.0 351.7h0.85M96.7 343.0h0.85M108.6 354.2h0.85M93.3 348.9h0.85M84.9 346.9h0.85M89.5 338.7h0.85M102.1 335.1h0.85M96.0 362.9h0.85M94.6 354.0h0.85M88.6 340.4h0.85M107.9 336.2h0.85M96.1 339.6h0.85M97.2 356.8h0.85M102.7 350.7h0.85M92.7 347.4h0.85M92.6 349.8h0.85M99.7 348.6h0.85M90.6 372.8h0.85M82.0 351.7h0.85M114.4 337.7h0.85M105.1 352.5h0.85M101.8 357.1h0.85M79.4 359.6h0.85M89.5 335.8h0.85M96.7 340.4h0.85M90.8 353.4h0.85M79.3 358.2h0.85M99.2 351.6h0.85M100.5 349.6h0.85M105.8 346.3h0.85M94.2 357.3h0.85M96.6 335.4h0.85M89.7 361.7h0.85M87.8 335.9h0.85M96.3 340.9h0.85M103.6 344.2h0.85M71.0 338.3h0.85M82.8 343.5h0.85M94.9 351.0h0.85M100.4 342.3h0.85M87.9 354.0h0.85M96.6 358.5h0.85M79.1 352.1h0.85M96.0 355.4h0.85M89.6 352.7h0.85M77.1 340.4h0.85M102.3 341.8h0.85M95.1 371.7h0.85M77.9 340.4h0.85M93.4 353.1h0.85M93.5 351.8h0.85M81.5 347.2h0.85M100.9 339.7h0.85M90.4 350.0h0.85M100.2 343.6h0.85M103.9 353.1h0.85M94.6 348.0h0.85M86.5 338.6h0.85M98.9 350.0h0.85M99.5 357.6h0.85M84.5 351.4h0.85M86.3 332.0h0.85M100.8 351.2h0.85M93.0 362.1h0.85M82.2 361.5h0.85M87.8 353.6h0.85M92.9 342.0h0.85M79.5 360.5h0.85M88.5 354.0h0.85M88.1 352.4h0.85M90.5 349.5h0.85M99.5 366.4h0.85M83.5 344.5h0.85M95.6 346.9h0.85M91.5 357.8h0.85M92.2 340.1h0.85M100.7 348.0h0.85M93.4 347.8h0.85M52.9 364.8h0.85M72.3 363.4h0.85M63.9 346.7h0.85M90.4 336.1h0.85M93.3 353.8h0.85M75.9 355.4h0.85M87.0 355.5h0.85M71.4 335.9h0.85M77.2 337.7h0.85M78.5 353.9h0.85M91.7 333.7h0.85M82.0 352.9h0.85M71.8 340.0h0.85M77.4 330.5h0.85M67.2 333.5h0.85M97.1 339.5h0.85M92.0 336.7h0.85M59.2 337.0h0.85M100.3 346.8h0.85M76.2 350.1h0.85M85.1 337.2h0.85M74.7 349.9h0.85M77.8 321.2h0.85M90.6 326.1h0.85M54.2 323.6h0.85M47.3 364.6h0.85M80.3 361.0h0.85M90.9 340.3h0.85M58.0 353.6h0.85M81.5 343.1h0.85M60.9 365.9h0.85M70.2 350.4h0.85M85.1 371.6h0.85M114.1 352.6h0.85M80.7 363.0h0.85M100.8 319.9h0.85M86.3 335.2h0.85M108.3 370.0h0.85M71.4 340.0h0.85M70.4 354.1h0.85M101.4 322.1h0.85M57.4 355.4h0.85M89.7 332.9h0.85M92.7 363.1h0.85M112.2 354.1h0.85M74.6 358.7h0.85M94.8 337.4h0.85M112.0 367.7h0.85M124.7 347.5h0.85M79.8 342.6h0.85M87.5 332.6h0.85M61.3 372.9h0.85M99.1 352.6h0.85M103.6 337.0h0.85M80.4 342.9h0.85M110.6 344.1h0.85M90.7 339.1h0.85M93.7 355.0h0.85M86.1 339.7h0.85M119.2 331.2h0.85M73.0 357.0h0.85M68.1 330.5h0.85M93.7 360.0h0.85M126.1 375.9h0.85M94.2 375.6h0.85M64.4 343.2h0.85M59.2 367.6h0.85M75.6 348.9h0.85M79.1 349.2h0.85M80.1 356.6h0.85M104.3 340.2h0.85M85.1 341.6h0.85M71.7 370.9h0.85M51.2 317.3h0.85M56.1 364.9h0.85M96.4 362.3h0.85M65.4 343.4h0.85M122.1 325.2h0.85M49.8 323.5h0.85M80.3 359.1h0.85M100.5 343.1h0.85M91.7 344.5h0.85M78.4 366.8h0.85M87.5 342.7h0.85M86.2 348.4h0.85M94.0 362.6h0.85M85.8 352.9h0.85M80.4 337.2h0.85M120.1 339.2h0.85M116.9 322.7h0.85M116.6 328.2h0.85M84.7 347.1h0.85M86.3 345.7h0.85M73.3 358.5h0.85M80.7 329.3h0.85M100.7 353.4h0.85M74.2 325.5h0.85M103.6 347.7h0.85M82.9 335.3h0.85M65.6 367.3h0.85M93.2 334.1h0.85M96.7 350.2h0.85M88.6 318.6h0.85M95.1 356.3h0.85M66.7 353.9h0.85M82.0 348.9h0.85M67.6 357.8h0.85M86.1 344.5h0.85M91.2 329.5h0.85M93.9 372.6h0.85M97.3 345.4h0.85M70.1 349.0h0.85M85.0 341.0h0.85M76.8 344.2h0.85M97.3 346.9h0.85M92.4 349.9h0.85M98.7 343.6h0.85M68.2 333.1h0.85M63.6 360.6h0.85M90.3 350.8h0.85M85.9 319.2h0.85M58.7 314.8h0.85M82.0 340.1h0.85M48.9 335.2h0.85M67.4 356.3h0.85M133.0 336.1h0.85M51.7 347.2h0.85M100.8 334.8h0.85M98.2 367.8h0.85M67.9 330.7h0.85M115.2 307.4h0.85M109.7 315.8h0.85M72.2 365.5h0.85M117.6 334.8h0.85M114.7 316.0h0.85M102.2 346.3h0.85M132.5 369.8h0.85M94.4 321.1h0.85M62.0 376.8h0.85M55.5 323.6h0.85M98.2 306.1h0.85M132.7 356.5h0.85M125.6 337.7h0.85M122.6 369.4h0.85M91.7 353.9h0.85M66.1 325.1h0.85M82.9 362.1h0.85M135.3 316.5h0.85M133.7 354.9h0.85M58.9 364.2h0.85M73.0 304.9h0.85M83.5 310.5h0.85M129.3 317.3h0.85M68.3 308.1h0.85M90.7 342.1h0.85M67.2 358.1h0.85M118.5 380.1h0.85M76.5 380.1h0.85M86.4 380.3h0.85M82.2 380.5h0.85M117.2 380.5h0.85M67.8 380.4h0.85M93.8 380.4h0.85M76.1 380.3h0.85M80.5 380.5h0.85M122.3 380.3h0.85M82.2 380.0h0.85M68.8 380.1h0.85M95.0 380.5h0.85M84.4 380.7h0.85M122.0 380.3h0.85M113.4 380.4h0.85M74.7 380.0h0.85M90.7 380.6h0.85M84.1 380.6h0.85M105.3 379.9h0.85M83.3 380.5h0.85M110.7 380.0h0.85M101.1 380.2h0.85M120.0 380.4h0.85M121.3 380.7h0.85M93.7 380.2h0.85M76.8 380.2h0.85M66.5 380.9h0.85M112.2 380.6h0.85M68.8 380.8h0.85M92.6 380.5h0.85M73.7 380.8h0.85M62.3 380.3h0.85M86.9 380.8h0.85M95.5 380.5h0.85M87.3 380.6h0.85M61.5 380.8h0.85M117.2 380.4h0.85M88.4 380.4h0.85M96.0 380.7h0.85M108.8 380.2h0.85M73.5 380.8h0.85M70.1 380.7h0.85M93.3 380.2h0.85M75.7 380.0h0.85M96.8 380.4h0.85M65.8 380.4h0.85M67.5 380.9h0.85M113.9 380.1h0.85M101.1 380.3h0.85M68.6 380.5h0.85M120.2 380.6h0.85M119.5 380.5h0.85M108.9 380.0h0.85M64.5 380.0h0.85M107.8 380.8h0.85M71.2 380.3h0.85M114.3 380.6h0.85M85.5 380.8h0.85M108.9 380.0h0.85M97.2 380.4h0.85M97.2 380.5h0.85M110.0 380.7h0.85M66.5 380.8h0.85M90.1 380.7h0.85M73.6 380.3h0.85M87.5 380.9h0.85M119.6 380.6h0.85M79.5 380.3h0.85M73.7 380.7h0.85M99.6 380.7h0.85M85.7 379.9h0.85M82.2 380.2h0.85M84.2 380.2h0.85M81.7 380.8h0.85M62.4 380.2h0.85M95.2 380.2h0.85M101.4 380.6h0.85M82.5 380.6h0.85M78.9 380.3h0.85M111.1 380.0h0.85M94.2 380.4h0.85M108.1 380.1h0.85M101.5 380.4h0.85M114.8 380.8h0.85M111.3 380.4h0.85M77.7 380.7h0.85M85.9 380.2h0.85M81.3 380.8h0.85M68.7 380.8h0.85M102.7 380.7h0.85M100.3 380.7h0.85M62.4 380.4h0.85M104.7 380.2h0.85M117.5 380.0h0.85M86.9 380.1h0.85M101.0 380.7h0.85M70.4 380.8h0.85M88.8 380.8h0.85M95.2 380.6h0.85M79.7 380.3h0.85M84.4 380.8h0.85M75.9 380.7h0.85M103.4 380.8h0.85M113.5 380.5h0.85M61.5 380.9h0.85M115.0 380.6h0.85M81.2 379.9h0.85M97.9 380.8h0.85M72.8 380.0h0.85" stroke="#000" stroke-opacity="0.42" stroke-width="0.85" fill="none" filter="url(#bl)"/>
<rect x="45.80" y="302.20" width="93.00" height="78.50" fill="none" stroke="#808080" stroke-width="0.9"/>
<line x1="96.40" y1="302.20" x2="96.40" y2="380.70" stroke="#808080" stroke-width="0.9" />
<line x1="45.80" y1="338.30" x2="138.80" y2="338.30" stroke="#808080" stroke-width="0.9" />
<text x="90.70" y="298.10" font-size="8.1" text-anchor="middle" font-weight="normal" fill="#1a1a1a" stroke="#1a1a1a" stroke-width="0.22">Rag1-/-</text>
<text x="64.50" y="312.30" font-size="7.9" text-anchor="middle" font-weight="normal" fill="#1a1a1a" stroke="#111" stroke-width="0.3">19.9</text>
<text x="119.80" y="312.30" font-size="7.9" text-anchor="middle" font-weight="normal" fill="#1a1a1a" stroke="#111" stroke-width="0.3">28.1</text>
<text x="54.60" y="375.00" font-size="7.9" text-anchor="middle" font-weight="normal" fill="#1a1a1a" stroke="#111" stroke-width="0.3">47.1</text>
<text x="126.10" y="374.60" font-size="7.9" text-anchor="middle" font-weight="normal" fill="#1a1a1a" stroke="#111" stroke-width="0.3">4.9</text>
<path d="M198.9 323.2h0.85M228.9 322.5h0.85M208.2 328.1h0.85M228.9 334.7h0.85M206.6 319.5h0.85M194.7 333.1h0.85M180.8 329.3h0.85M199.9 321.4h0.85M217.0 334.5h0.85M215.2 322.5h0.85M183.6 326.2h0.85M209.0 319.0h0.85M202.1 328.6h0.85M203.2 335.3h0.85M191.7 330.8h0.85M216.7 329.8h0.85M210.1 321.1h0.85M180.9 334.2h0.85M205.2 333.2h0.85M196.9 328.2h0.85M211.7 327.9h0.85M182.8 333.9h0.85M188.2 330.1h0.85M209.8 328.2h0.85M206.9 330.0h0.85M185.8 326.9h0.85M211.6 333.3h0.85M189.9 320.0h0.85M227.8 330.4h0.85M233.5 326.8h0.85M216.5 319.3h0.85M218.5 330.5h0.85M183.6 323.5h0.85M183.5 332.5h0.85M198.7 329.3h0.85M213.4 330.8h0.85M221.5 332.3h0.85M194.7 329.6h0.85M207.6 325.9h0.85M219.7 330.5h0.85M223.3 327.3h0.85M199.1 326.8h0.85M218.4 322.8h0.85M201.6 326.4h0.85M182.4 335.3h0.85M189.3 331.2h0.85M185.9 330.8h0.85M213.6 330.7h0.85M196.8 330.1h0.85M228.8 336.2h0.85M217.8 323.0h0.85M203.4 328.7h0.85M228.6 331.3h0.85M205.2 324.6h0.85M208.9 325.6h0.85M233.3 325.0h0.85M216.0 331.9h0.85M230.1 325.4h0.85M196.0 328.6h0.85M203.9 327.3h0.85M212.1 328.0h0.85M194.1 324.4h0.85M216.1 325.1h0.85M225.8 326.2h0.85M190.1 340.1h0.85M196.4 327.0h0.85M192.1 331.2h0.85M221.0 325.9h0.85M199.2 321.8h0.85M213.4 328.1h0.85M214.9 321.0h0.85M197.6 331.4h0.85M227.4 318.1h0.85M215.5 334.9h0.85M212.0 326.3h0.85M190.6 336.2h0.85M197.2 333.3h0.85M195.1 323.2h0.85M226.2 325.1h0.85M229.6 328.0h0.85M200.7 327.8h0.85M180.5 328.6h0.85M219.5 333.0h0.85M227.1 338.3h0.85M189.8 334.0h0.85M221.1 326.8h0.85M230.8 329.2h0.85M209.0 323.5h0.85M229.2 327.8h0.85M222.7 327.6h0.85M197.5 331.2h0.85M194.3 331.4h0.85M199.3 332.1h0.85M208.9 328.1h0.85M206.1 328.7h0.85M183.2 329.3h0.85M209.5 338.4h0.85M213.9 327.0h0.85M221.1 318.7h0.85M200.3 335.3h0.85M216.4 335.7h0.85M198.6 338.8h0.85M211.2 326.3h0.85M183.3 324.3h0.85M227.9 338.2h0.85M187.7 334.4h0.85M217.9 334.1h0.85M217.2 334.4h0.85M226.7 330.8h0.85M181.5 328.7h0.85M219.5 333.9h0.85M204.8 326.8h0.85M189.9 335.2h0.85M196.0 319.7h0.85M218.8 327.1h0.85M211.6 330.5h0.85M203.8 324.8h0.85M180.9 330.8h0.85M218.3 322.7h0.85M234.2 334.8h0.85M225.0 328.1h0.85M218.5 338.6h0.85M184.9 329.9h0.85M206.9 328.8h0.85M208.2 323.2h0.85M184.2 327.8h0.85M227.2 325.5h0.85M201.1 337.2h0.85M224.6 318.2h0.85M202.8 334.1h0.85M207.6 335.8h0.85M205.0 327.4h0.85M189.9 328.4h0.85M186.3 336.7h0.85M203.5 327.0h0.85M220.2 323.9h0.85M195.3 339.9h0.85M187.9 330.0h0.85M195.2 325.0h0.85M185.4 332.6h0.85M198.3 334.2h0.85M187.1 333.4h0.85M228.5 330.4h0.85M198.9 331.6h0.85M225.4 327.1h0.85M207.0 334.8h0.85M199.9 332.0h0.85M225.5 331.7h0.85M229.8 320.3h0.85M194.5 327.2h0.85M212.3 335.7h0.85M199.2 324.3h0.85M214.5 318.7h0.85M216.5 335.6h0.85M193.0 326.5h0.85M232.8 321.0h0.85M229.1 338.0h0.85M227.2 321.0h0.85M223.3 323.2h0.85M228.4 333.7h0.85M221.7 331.1h0.85M227.0 324.9h0.85M217.3 328.9h0.85M208.0 323.8h0.85M187.0 324.3h0.85M181.9 338.0h0.85M205.1 334.2h0.85M187.7 332.5h0.85M177.8 333.1h0.85M219.6 319.7h0.85M231.7 333.5h0.85M215.9 335.7h0.85M202.7 333.4h0.85M229.2 331.9h0.85M218.3 331.4h0.85M231.7 328.3h0.85M225.4 327.7h0.85M207.3 327.7h0.85M221.6 336.1h0.85M234.7 332.1h0.85M185.4 335.3h0.85M222.3 325.9h0.85M224.8 333.6h0.85M229.6 330.2h0.85M196.7 339.7h0.85M197.4 330.0h0.85M218.2 325.5h0.85M191.1 319.9h0.85M232.8 335.4h0.85M198.9 329.6h0.85M187.4 326.8h0.85M181.6 334.2h0.85M185.3 328.2h0.85M197.9 324.3h0.85M188.8 334.0h0.85M208.2 328.3h0.85M222.1 335.5h0.85M203.5 333.0h0.85M205.0 329.6h0.85M193.4 327.7h0.85M206.4 321.0h0.85M199.3 325.4h0.85M199.2 319.9h0.85M204.3 330.7h0.85M216.9 323.9h0.85M215.2 325.8h0.85M223.7 318.3h0.85M223.8 324.3h0.85M199.1 322.9h0.85M229.8 330.5h0.85M206.9 329.1h0.85M214.7 332.4h0.85M223.5 333.8h0.85M228.8 325.9h0.85M216.0 326.9h0.85M190.6 325.8h0.85M228.0 324.6h0.85M213.6 327.4h0.85M189.2 329.4h0.85M215.8 336.8h0.85M226.3 331.8h0.85M213.7 331.4h0.85M204.1 332.6h0.85M192.7 321.7h0.85M228.0 334.1h0.85M184.3 336.9h0.85M215.3 330.5h0.85M212.8 325.4h0.85M197.7 336.7h0.85M207.9 326.0h0.85M210.2 324.7h0.85M199.3 328.5h0.85M213.8 332.1h0.85M207.9 329.0h0.85M202.6 321.3h0.85M178.6 328.5h0.85M182.7 327.0h0.85M228.4 326.6h0.85M211.3 324.0h0.85M193.9 325.8h0.85M225.1 323.5h0.85M224.1 329.2h0.85M183.1 332.0h0.85M212.0 328.8h0.85M232.0 326.7h0.85M205.0 331.8h0.85M233.9 327.3h0.85M228.2 326.0h0.85M185.3 335.0h0.85M222.9 325.0h0.85M205.1 330.2h0.85M214.1 330.5h0.85M198.4 328.7h0.85M205.1 331.2h0.85M186.0 326.4h0.85M203.4 326.0h0.85M196.2 339.8h0.85M222.8 328.8h0.85M214.4 321.8h0.85M217.4 328.9h0.85M196.5 336.6h0.85M221.8 327.9h0.85M199.7 324.6h0.85M220.3 330.9h0.85M223.9 331.8h0.85M183.5 326.6h0.85M220.2 332.1h0.85M196.8 334.1h0.85M232.0 327.6h0.85M184.7 325.1h0.85M205.6 323.2h0.85M233.4 329.1h0.85M227.4 324.7h0.85M230.9 322.7h0.85M221.9 329.0h0.85M226.1 330.7h0.85M217.8 326.2h0.85M197.4 336.9h0.85M186.2 331.7h0.85M224.5 320.9h0.85M203.8 332.9h0.85M233.6 334.8h0.85M183.7 333.9h0.85M230.3 322.5h0.85M234.6 332.9h0.85M209.3 328.4h0.85M202.0 330.4h0.85M216.5 326.9h0.85M202.9 323.4h0.85M190.6 333.6h0.85M233.5 335.6h0.85M221.4 335.0h0.85M203.4 331.6h0.85M183.4 323.4h0.85M181.7 336.3h0.85M212.6 328.1h0.85M213.1 328.1h0.85M219.9 336.5h0.85M199.6 328.7h0.85M209.7 325.8h0.85M187.8 334.5h0.85M200.5 329.0h0.85M184.9 325.7h0.85M190.6 329.4h0.85M183.6 331.8h0.85M198.1 332.3h0.85M196.3 319.7h0.85M222.8 332.0h0.85M187.5 336.3h0.85M190.0 340.1h0.85M199.0 329.4h0.85M195.9 336.3h0.85M195.0 336.8h0.85M217.4 331.0h0.85M230.2 318.5h0.85M190.1 329.5h0.85M230.6 326.9h0.85M215.6 338.7h0.85M220.1 328.4h0.85M190.2 330.3h0.85M221.9 330.3h0.85M184.3 328.3h0.85M186.9 332.1h0.85M216.8 337.6h0.85M185.6 334.4h0.85M230.9 327.4h0.85M208.2 323.4h0.85M202.3 328.9h0.85M218.4 330.4h0.85M230.4 323.8h0.85M193.8 329.8h0.85M199.7 336.5h0.85M190.0 333.7h0.85M200.8 332.2h0.85M205.3 327.5h0.85M196.8 329.5h0.85M227.0 332.4h0.85M202.5 326.8h0.85M229.5 333.6h0.85M220.2 325.0h0.85M203.3 322.7h0.85M198.2 330.3h0.85M201.4 328.4h0.85M232.7 326.3h0.85M210.3 332.1h0.85M206.3 320.1h0.85M195.1 332.7h0.85M204.5 329.9h0.85M195.8 329.6h0.85M198.8 330.6h0.85M211.5 332.0h0.85M204.5 325.0h0.85M207.6 327.1h0.85M188.9 324.1h0.85M201.3 326.9h0.85M204.2 329.7h0.85M212.9 329.0h0.85M180.8 327.5h0.85M202.9 326.8h0.85M212.3 327.8h0.85M183.8 336.0h0.85M224.6 321.9h0.85M199.0 319.5h0.85M223.4 332.2h0.85M194.5 323.7h0.85M186.5 326.0h0.85M222.1 321.3h0.85M223.5 325.5h0.85M213.7 332.4h0.85M221.5 331.8h0.85M199.6 325.5h0.85M180.7 326.2h0.85M219.3 327.3h0.85M180.7 331.4h0.85M225.2 326.8h0.85M220.3 327.9h0.85M182.3 320.4h0.85M220.3 331.0h0.85M184.9 334.0h0.85M199.1 328.0h0.85M186.0 331.5h0.85M196.2 326.8h0.85M191.0 335.2h0.85M204.1 339.4h0.85M209.6 332.7h0.85M180.5 329.6h0.85M221.0 324.9h0.85M218.3 333.9h0.85M216.6 333.4h0.85M211.0 318.9h0.85M196.9 327.6h0.85M203.1 330.9h0.85M207.6 331.9h0.85M209.7 334.2h0.85M230.3 325.4h0.85M200.0 333.8h0.85M193.1 331.6h0.85M232.3 324.4h0.85M220.7 330.4h0.85M215.7 326.7h0.85M221.1 329.3h0.85M203.3 325.0h0.85M219.7 332.7h0.85M215.5 329.2h0.85M187.1 325.2h0.85M218.3 330.2h0.85M229.0 328.4h0.85M210.3 328.9h0.85M214.8 324.4h0.85M213.5 336.4h0.85M227.9 329.6h0.85M185.1 329.9h0.85M210.4 330.6h0.85M182.3 336.4h0.85M185.7 333.7h0.85M211.9 327.3h0.85M213.8 328.6h0.85M214.3 328.0h0.85M228.2 318.1h0.85M194.9 335.9h0.85M187.7 328.2h0.85M190.5 339.4h0.85M190.7 332.7h0.85M189.2 328.8h0.85M228.7 324.5h0.85M193.1 331.5h0.85M206.1 332.7h0.85M217.6 320.9h0.85M227.0 337.6h0.85M228.6 318.0h0.85M186.3 327.6h0.85M190.6 320.0h0.85M214.5 326.5h0.85M214.3 318.8h0.85M221.1 326.3h0.85M194.2 332.0h0.85M200.9 322.6h0.85M222.4 332.5h0.85M229.7 335.1h0.85M222.1 336.4h0.85M227.0 324.3h0.85M188.7 329.7h0.85M214.3 321.1h0.85M192.6 327.9h0.85M194.8 320.9h0.85M192.9 323.9h0.85M203.4 334.2h0.85M214.7 337.0h0.85M224.2 323.3h0.85M222.6 324.4h0.85M204.6 338.3h0.85M229.5 320.4h0.85M186.2 321.6h0.85M197.4 331.0h0.85M210.3 325.0h0.85M208.4 326.4h0.85M186.5 335.7h0.85M213.6 331.8h0.85M214.9 328.2h0.85M194.9 336.6h0.85M223.1 321.2h0.85M187.4 333.7h0.85M215.5 321.5h0.85M199.6 321.4h0.85M181.5 326.4h0.85M205.8 325.2h0.85M187.9 320.1h0.85M208.6 322.2h0.85M211.2 325.8h0.85M198.2 330.0h0.85M190.7 333.8h0.85M190.2 329.4h0.85M199.6 337.9h0.85M183.2 330.9h0.85M187.2 327.0h0.85M229.8 332.2h0.85M228.0 328.3h0.85M214.3 326.3h0.85M205.7 319.2h0.85M196.5 338.4h0.85M203.7 331.2h0.85M219.1 334.6h0.85M183.7 333.1h0.85M183.6 328.7h0.85M203.6 328.7h0.85M198.6 325.7h0.85M211.5 322.2h0.85M225.1 328.0h0.85M196.2 330.7h0.85M203.2 322.1h0.85M221.4 331.0h0.85M181.0 330.5h0.85M219.8 324.3h0.85M190.6 329.8h0.85M226.9 320.7h0.85M218.8 329.8h0.85M183.1 330.8h0.85M196.8 322.3h0.85M192.8 329.7h0.85M208.9 327.0h0.85M213.8 334.8h0.85M182.2 324.1h0.85M204.0 331.5h0.85M199.4 332.6h0.85M192.1 331.0h0.85M215.7 329.4h0.85M190.6 330.2h0.85M204.3 335.1h0.85M216.4 330.2h0.85M230.0 328.1h0.85M182.9 327.4h0.85M212.5 324.1h0.85M228.4 319.6h0.85M189.3 337.4h0.85M191.8 324.0h0.85M229.3 329.1h0.85M199.8 327.5h0.85M191.1 326.2h0.85M198.8 333.8h0.85M190.2 331.9h0.85M202.1 327.6h0.85M216.1 330.9h0.85M200.2 329.2h0.85M231.4 332.7h0.85M190.6 321.8h0.85M206.6 331.7h0.85M202.3 338.9h0.85M206.6 324.8h0.85M211.6 333.3h0.85M202.4 329.4h0.85M215.3 329.3h0.85M186.0 331.7h0.85M182.2 326.1h0.85M219.9 327.9h0.85M200.6 333.0h0.85M201.2 330.6h0.85M195.8 337.1h0.85M189.9 327.4h0.85M180.4 328.8h0.85M191.3 328.1h0.85M190.6 321.5h0.85M226.2 333.0h0.85M204.6 333.2h0.85M208.8 333.0h0.85M203.4 329.0h0.85M179.6 327.5h0.85M226.4 325.6h0.85M197.0 337.2h0.85M206.4 333.3h0.85M219.2 330.2h0.85M189.5 333.2h0.85M194.7 331.3h0.85M199.9 325.7h0.85M228.6 331.1h0.85M217.6 331.9h0.85M212.9 334.5h0.85M219.8 328.9h0.85M205.0 333.8h0.85M187.0 334.5h0.85M230.0 326.6h0.85M196.2 336.6h0.85M200.5 324.4h0.85M183.3 332.5h0.85M225.0 331.1h0.85M194.8 328.2h0.85M182.9 328.0h0.85M189.6 321.6h0.85M224.4 321.3h0.85M201.7 327.3h0.85M229.5 320.9h0.85M202.6 327.3h0.85M201.0 335.3h0.85M223.9 326.3h0.85M184.2 327.9h0.85M188.1 322.3h0.85M185.2 338.7h0.85M216.6 326.5h0.85M189.1 322.6h0.85M199.2 332.3h0.85M216.3 328.2h0.85M214.9 328.4h0.85M187.4 337.6h0.85M224.5 328.5h0.85M215.9 335.8h0.85M224.1 328.3h0.85M224.8 334.5h0.85M194.6 332.9h0.85M179.8 325.1h0.85M199.4 328.2h0.85M206.8 324.1h0.85M199.0 336.6h0.85M221.8 335.7h0.85M201.3 329.6h0.85M214.3 324.3h0.85M198.0 326.1h0.85M225.4 325.5h0.85M181.0 330.3h0.85M213.1 322.0h0.85M226.5 322.2h0.85M194.6 331.3h0.85M189.3 331.4h0.85M215.0 318.7h0.85M213.7 326.8h0.85M198.5 333.2h0.85M216.1 327.1h0.85M197.4 323.4h0.85M219.5 328.1h0.85M177.8 333.9h0.85M230.5 329.2h0.85M184.0 321.9h0.85M217.8 334.8h0.85M217.1 322.5h0.85M229.5 323.2h0.85M211.9 327.2h0.85M233.6 330.9h0.85M184.4 331.4h0.85M221.0 329.8h0.85M221.2 329.2h0.85M230.7 331.1h0.85M223.7 322.8h0.85M214.2 332.3h0.85M183.8 328.9h0.85M210.4 318.9h0.85M191.7 329.0h0.85M232.5 318.0h0.85M192.2 325.1h0.85M189.0 336.8h0.85M186.6 340.3h0.85M230.3 319.3h0.85M225.4 334.4h0.85M200.1 339.6h0.85M205.5 319.2h0.85M198.6 332.1h0.85M207.6 329.8h0.85M195.2 329.9h0.85M233.7 329.9h0.85M182.7 323.5h0.85M234.8 331.0h0.85M218.5 328.2h0.85M212.0 331.5h0.85M197.9 332.1h0.85M224.7 325.4h0.85M229.3 319.6h0.85M208.5 336.3h0.85M224.1 330.9h0.85M225.3 325.7h0.85M199.8 327.4h0.85M182.4 332.4h0.85M206.6 325.5h0.85M188.9 330.6h0.85M186.0 330.2h0.85M231.8 326.2h0.85M197.8 331.1h0.85M191.5 333.2h0.85M228.9 322.0h0.85M210.5 321.8h0.85M216.9 326.5h0.85M195.8 325.0h0.85M198.7 327.1h0.85M179.3 328.8h0.85M208.5 328.7h0.85M190.1 334.9h0.85M230.8 327.6h0.85M225.2 321.1h0.85M189.4 320.5h0.85M214.1 328.9h0.85M234.0 328.4h0.85M209.7 333.0h0.85M178.1 330.6h0.85M192.9 330.2h0.85M201.6 325.3h0.85M229.0 328.3h0.85M185.5 336.0h0.85M225.6 322.6h0.85M233.3 332.6h0.85M207.4 329.0h0.85M203.5 327.6h0.85M216.4 325.1h0.85M201.2 330.2h0.85M204.6 333.2h0.85M183.1 336.1h0.85M203.4 330.6h0.85M216.8 328.8h0.85M204.7 333.7h0.85M181.6 326.3h0.85M183.1 323.5h0.85M181.8 327.6h0.85M212.1 322.3h0.85M222.1 334.9h0.85M208.2 333.3h0.85M210.2 330.7h0.85M206.6 328.3h0.85M202.1 328.7h0.85M223.4 331.1h0.85M184.7 331.1h0.85M218.1 326.3h0.85M225.3 327.3h0.85M232.4 322.4h0.85M192.5 332.0h0.85M216.3 326.0h0.85M180.2 333.5h0.85M200.4 325.1h0.85M204.0 330.6h0.85M195.0 320.2h0.85M214.2 321.6h0.85M204.2 322.6h0.85M190.0 324.9h0.85M202.6 338.8h0.85M210.8 321.8h0.85M206.9 325.9h0.85M226.3 324.0h0.85M214.7 322.4h0.85M192.7 331.2h0.85M227.0 330.3h0.85M232.5 333.3h0.85M226.2 338.3h0.85M212.3 326.8h0.85M214.3 325.4h0.85M210.9 336.8h0.85M217.2 331.4h0.85M218.1 331.1h0.85M201.3 319.4h0.85M185.3 327.9h0.85M192.0 340.0h0.85M219.9 328.4h0.85M176.4 329.8h0.85M184.4 337.5h0.85M189.1 333.2h0.85M179.0 333.6h0.85M191.8 329.4h0.85M228.5 334.0h0.85M230.3 329.9h0.85M208.5 334.7h0.85M206.6 335.9h0.85M183.6 336.0h0.85M199.7 336.1h0.85M203.8 326.5h0.85M186.5 334.2h0.85M181.9 337.1h0.85M206.7 331.1h0.85M183.2 331.1h0.85M196.5 325.7h0.85M180.7 323.6h0.85M184.8 331.5h0.85M208.7 334.2h0.85M196.7 324.7h0.85M228.3 337.5h0.85M211.1 338.1h0.85M182.3 329.0h0.85M219.8 330.2h0.85M186.9 325.4h0.85M203.9 327.7h0.85M196.3 339.8h0.85M199.8 335.3h0.85M221.9 331.3h0.85M216.2 329.8h0.85M194.9 332.4h0.85M211.1 330.6h0.85M201.8 328.2h0.85M178.3 333.7h0.85M222.5 328.2h0.85M234.8 329.7h0.85M217.9 330.3h0.85M221.4 322.3h0.85M228.8 330.0h0.85M229.0 331.1h0.85M222.5 330.2h0.85M208.9 327.3h0.85M230.6 329.3h0.85M219.6 330.0h0.85M193.6 328.1h0.85M196.5 326.3h0.85M208.2 326.1h0.85M204.5 327.3h0.85M208.9 332.4h0.85M218.8 328.1h0.85M226.6 330.4h0.85M193.8 326.9h0.85M220.5 336.9h0.85M214.0 329.7h0.85M214.8 321.9h0.85M220.6 338.6h0.85M196.1 339.7h0.85M186.5 332.6h0.85M204.1 327.7h0.85M209.1 335.4h0.85M223.0 331.3h0.85M185.5 329.8h0.85M194.3 328.7h0.85M199.1 326.4h0.85M209.1 333.2h0.85M233.7 328.2h0.85M222.7 325.3h0.85M233.1 327.6h0.85M202.9 333.6h0.85M212.3 332.6h0.85M211.7 324.8h0.85M194.9 326.7h0.85M206.7 326.3h0.85M227.4 331.5h0.85M186.6 329.0h0.85M214.4 324.7h0.85M186.7 328.3h0.85M213.0 331.0h0.85M218.7 325.7h0.85M213.6 327.7h0.85M226.8 327.1h0.85M219.8 326.5h0.85M224.6 324.6h0.85M209.5 328.1h0.85M194.3 330.1h0.85M184.5 338.4h0.85M212.1 326.2h0.85M211.3 327.7h0.85M218.4 331.9h0.85M199.0 326.6h0.85M183.2 336.5h0.85M177.9 324.8h0.85M214.8 331.8h0.85M196.4 324.1h0.85M200.5 329.5h0.85M184.9 340.1h0.85M202.4 329.2h0.85M192.2 331.5h0.85M208.4 329.7h0.85M225.5 334.0h0.85M216.4 330.4h0.85M217.6 331.9h0.85M214.1 326.0h0.85M189.3 336.2h0.85M217.9 330.0h0.85M198.1 331.0h0.85M202.9 322.5h0.85M217.2 328.2h0.85M199.3 335.4h0.85M211.0 330.7h0.85M187.3 327.0h0.85M210.3 328.0h0.85M230.4 325.4h0.85M223.2 325.2h0.85M218.3 338.2h0.85M184.5 329.2h0.85M203.7 333.0h0.85M206.1 327.0h0.85M229.4 331.1h0.85M183.4 330.5h0.85M208.8 319.8h0.85M231.3 325.3h0.85M221.1 332.8h0.85M184.1 330.3h0.85M179.0 328.1h0.85M181.4 323.0h0.85M194.7 336.3h0.85M231.9 336.1h0.85M182.0 327.0h0.85M227.6 324.3h0.85M199.7 325.9h0.85M197.2 332.0h0.85M197.4 328.1h0.85M222.9 326.9h0.85M200.9 324.9h0.85M179.7 328.5h0.85M218.4 328.9h0.85M186.6 333.3h0.85M187.0 330.7h0.85M205.5 326.5h0.85M227.0 326.1h0.85M184.8 334.9h0.85M196.1 329.4h0.85M199.1 331.6h0.85M182.7 327.6h0.85M193.5 336.6h0.85M206.0 328.0h0.85M204.9 332.7h0.85M205.9 339.3h0.85M228.6 331.2h0.85M201.4 334.0h0.85M198.8 339.2h0.85M181.9 330.8h0.85M224.1 324.6h0.85M225.2 334.3h0.85M232.8 330.3h0.85M221.8 323.4h0.85M222.7 326.1h0.85M211.7 327.7h0.85M202.3 323.8h0.85M226.4 323.8h0.85M183.0 334.3h0.85M204.7 331.9h0.85M222.0 334.7h0.85M224.2 331.8h0.85M182.7 322.7h0.85M224.2 334.9h0.85M187.7 325.1h0.85M204.4 331.4h0.85M198.2 324.9h0.85M207.8 327.6h0.85M222.9 329.2h0.85M184.2 329.3h0.85M207.3 330.4h0.85M183.3 337.6h0.85M219.0 331.9h0.85M230.3 323.4h0.85M226.7 326.6h0.85M210.1 325.7h0.85M224.5 328.3h0.85M204.7 333.6h0.85M235.3 329.7h0.85M189.9 324.7h0.85M206.2 319.2h0.85M186.4 334.5h0.85M193.9 327.5h0.85M229.9 329.5h0.85M203.3 339.0h0.85M201.3 332.3h0.85M206.5 325.6h0.85M222.5 324.6h0.85M196.1 322.7h0.85M210.5 326.1h0.85M200.6 335.5h0.85M201.4 333.3h0.85M225.6 334.0h0.85M217.3 321.8h0.85M189.9 326.7h0.85M200.1 331.7h0.85M222.5 318.4h0.85M192.7 329.4h0.85M215.3 328.4h0.85M217.5 333.5h0.85M186.6 337.8h0.85M188.7 330.0h0.85M224.4 325.2h0.85M189.1 334.7h0.85M214.3 326.7h0.85M181.1 327.5h0.85M198.0 323.0h0.85M187.3 326.1h0.85M190.2 331.6h0.85M181.4 331.0h0.85M207.2 331.3h0.85M213.0 332.9h0.85M218.8 328.1h0.85M205.4 334.1h0.85M221.8 332.4h0.85M215.6 327.3h0.85M224.8 325.3h0.85M229.3 327.4h0.85M213.6 318.9h0.85M219.3 326.4h0.85M211.7 331.2h0.85M198.6 325.0h0.85M205.8 336.3h0.85M210.0 321.1h0.85M184.7 328.2h0.85M202.3 330.7h0.85M227.6 325.4h0.85M205.0 333.1h0.85M223.8 336.4h0.85M193.4 328.5h0.85M227.4 329.6h0.85M215.2 329.4h0.85M209.2 321.8h0.85M202.8 319.3h0.85M222.2 327.1h0.85M184.2 320.3h0.85M228.8 325.5h0.85M185.7 326.6h0.85M224.2 333.0h0.85M209.1 332.9h0.85M227.5 318.1h0.85M180.4 340.6h0.85M233.1 326.3h0.85M206.1 329.1h0.85M200.4 319.4h0.85M193.8 331.5h0.85M215.4 323.0h0.85M217.7 331.3h0.85M216.1 330.8h0.85M184.3 331.1h0.85M187.5 322.5h0.85M203.1 326.3h0.85M192.3 328.4h0.85M187.8 330.1h0.85M197.8 339.7h0.85M202.9 329.5h0.85M232.7 333.4h0.85M211.3 328.9h0.85M217.5 326.6h0.85M200.0 330.2h0.85M209.1 323.8h0.85M234.3 332.0h0.85M232.3 333.0h0.85M205.7 332.4h0.85M189.8 324.8h0.85M225.7 326.8h0.85M208.7 330.3h0.85M186.0 330.2h0.85M187.6 333.4h0.85M220.9 324.3h0.85M231.0 327.9h0.85M184.3 329.6h0.85M208.6 335.6h0.85M214.9 331.1h0.85M215.7 335.5h0.85M186.2 327.5h0.85M203.6 325.8h0.85M228.5 320.3h0.85M190.3 330.4h0.85M195.5 323.5h0.85M208.0 329.7h0.85M185.2 331.6h0.85M205.7 333.8h0.85M206.7 321.8h0.85M181.3 327.7h0.85M200.5 324.9h0.85M216.2 329.9h0.85M200.7 329.0h0.85M187.9 330.4h0.85M207.6 334.3h0.85M211.4 337.5h0.85M189.5 323.0h0.85M223.0 322.3h0.85M232.0 328.4h0.85M196.2 335.7h0.85M215.1 327.7h0.85M206.3 324.9h0.85M186.6 331.5h0.85M181.0 333.0h0.85M202.4 324.6h0.85M215.6 328.7h0.85M205.6 324.5h0.85M190.6 329.9h0.85M196.5 325.4h0.85M218.7 330.8h0.85M198.1 333.8h0.85M210.2 336.3h0.85M215.2 332.0h0.85M223.4 338.5h0.85M197.4 333.0h0.85M212.7 326.2h0.85M209.3 326.4h0.85M201.3 319.6h0.85M186.3 328.0h0.85M213.9 321.1h0.85M223.2 319.5h0.85M212.4 333.9h0.85M214.4 329.4h0.85M227.7 327.2h0.85M223.2 320.3h0.85M215.3 325.7h0.85M207.8 322.2h0.85M228.7 334.5h0.85M231.5 324.9h0.85M193.7 324.4h0.85M190.2 328.5h0.85M181.5 333.3h0.85M226.3 334.0h0.85M230.0 329.1h0.85M220.2 326.1h0.85M227.5 323.4h0.85M188.7 325.0h0.85M189.8 332.7h0.85M207.2 331.2h0.85M222.3 319.7h0.85M212.3 326.9h0.85M223.1 322.5h0.85M209.4 329.6h0.85M200.9 327.4h0.85M229.7 326.7h0.85M206.9 323.6h0.85M211.0 331.5h0.85M206.9 328.0h0.85M191.2 330.7h0.85M215.4 325.5h0.85M189.7 330.2h0.85M230.3 322.9h0.85M227.7 337.3h0.85M189.7 325.4h0.85M208.3 334.8h0.85M232.1 321.3h0.85M229.0 329.7h0.85M191.7 336.2h0.85M224.0 321.0h0.85M212.9 328.2h0.85M210.9 331.7h0.85M210.2 333.7h0.85M211.6 339.0h0.85M207.3 329.7h0.85M187.2 325.5h0.85M187.3 339.0h0.85M224.7 321.3h0.85M232.2 324.7h0.85M207.8 328.4h0.85M225.5 321.2h0.85M189.7 330.2h0.85M221.3 328.2h0.85M226.5 326.6h0.85M219.7 323.1h0.85M200.9 333.9h0.85M214.4 325.5h0.85M188.9 335.0h0.85M188.4 338.8h0.85M198.1 330.7h0.85M208.7 330.3h0.85M205.7 330.1h0.85M201.9 339.2h0.85M228.3 335.1h0.85M219.9 324.6h0.85M194.9 324.3h0.85M192.5 332.8h0.85M203.0 329.1h0.85M208.7 325.1h0.85M194.3 330.4h0.85M195.2 329.5h0.85M192.1 331.4h0.85M205.8 329.8h0.85M213.2 328.6h0.85M203.5 335.2h0.85M208.3 326.8h0.85M206.8 332.9h0.85M193.0 325.1h0.85M198.6 328.1h0.85M228.5 324.5h0.85M197.9 329.1h0.85M212.0 326.9h0.85M183.5 325.4h0.85M231.5 322.8h0.85M207.1 333.4h0.85M223.1 331.0h0.85M231.2 329.8h0.85M185.2 324.3h0.85M222.9 320.9h0.85M183.6 337.3h0.85M199.4 327.6h0.85M195.9 332.9h0.85M190.1 336.5h0.85M233.3 319.1h0.85M181.0 336.0h0.85M221.5 327.9h0.85M210.9 329.7h0.85M203.1 331.2h0.85M233.6 338.0h0.85M229.9 328.4h0.85M227.2 330.8h0.85M184.7 336.7h0.85M228.9 333.5h0.85M195.5 326.3h0.85M228.3 331.0h0.85M184.0 340.0h0.85M215.2 325.3h0.85M226.3 332.7h0.85M187.5 328.0h0.85M219.5 330.0h0.85M218.8 329.7h0.85M220.9 320.8h0.85M195.1 329.4h0.85M221.1 326.7h0.85M191.5 327.7h0.85M201.7 339.5h0.85M235.1 332.7h0.85M215.1 328.0h0.85M197.1 333.1h0.85M183.1 331.8h0.85M186.8 330.2h0.85M202.7 332.0h0.85M205.2 325.5h0.85M198.9 334.4h0.85M191.8 334.2h0.85M198.6 324.8h0.85M224.6 334.7h0.85M201.0 334.3h0.85M194.4 331.2h0.85M192.9 324.0h0.85M230.3 330.4h0.85M217.3 321.9h0.85M186.7 327.8h0.85M228.3 326.5h0.85M188.7 334.5h0.85M198.8 332.1h0.85M190.6 327.5h0.85M213.3 325.9h0.85M193.6 334.3h0.85M207.5 326.6h0.85M204.1 330.9h0.85M209.6 332.0h0.85M200.2 328.3h0.85M193.7 329.0h0.85M219.9 328.6h0.85M224.4 330.4h0.85M227.6 328.6h0.85M185.4 327.2h0.85M229.4 331.6h0.85M230.0 329.1h0.85M212.3 330.6h0.85M189.5 330.6h0.85M191.6 338.4h0.85M195.6 331.9h0.85M200.4 322.3h0.85M207.6 327.9h0.85M204.6 330.4h0.85M197.5 328.4h0.85M200.8 329.2h0.85M191.8 329.5h0.85M186.5 328.8h0.85M199.1 331.2h0.85M182.0 332.9h0.85M190.6 321.1h0.85M233.5 338.0h0.85M180.6 328.9h0.85M204.2 336.1h0.85M185.8 338.2h0.85M195.1 332.0h0.85M202.0 330.9h0.85M206.6 329.8h0.85M213.6 338.9h0.85M186.0 338.6h0.85M219.2 328.3h0.85M222.1 334.7h0.85M207.9 329.4h0.85M207.2 321.7h0.85M230.0 328.7h0.85M225.6 330.0h0.85M198.9 327.4h0.85M185.1 329.9h0.85M232.2 323.8h0.85M185.2 333.6h0.85M181.5 332.3h0.85M232.9 323.9h0.85M200.0 334.8h0.85M214.9 329.1h0.85M193.7 332.2h0.85M213.5 325.6h0.85M184.2 328.1h0.85M222.6 332.6h0.85M216.4 330.4h0.85M209.3 327.0h0.85M201.7 331.0h0.85M227.9 327.2h0.85M229.7 326.6h0.85M202.7 334.2h0.85M208.0 324.8h0.85M185.5 324.7h0.85M212.7 324.4h0.85M229.9 318.8h0.85M204.8 331.4h0.85M225.3 323.5h0.85M218.9 329.9h0.85M188.5 326.9h0.85M185.3 323.6h0.85M223.5 330.7h0.85M202.5 326.8h0.85M228.1 330.3h0.85M196.2 337.6h0.85M223.1 329.3h0.85M198.6 331.0h0.85M203.1 331.3h0.85M206.6 329.7h0.85M228.2 325.1h0.85M216.6 335.0h0.85M185.0 327.2h0.85M227.4 318.1h0.85M225.9 329.8h0.85M220.3 330.3h0.85M210.4 323.0h0.85M228.3 322.8h0.85M186.4 332.7h0.85M209.5 331.2h0.85M215.8 329.3h0.85M224.1 329.9h0.85M216.3 324.3h0.85M228.1 325.4h0.85M211.7 331.1h0.85M185.6 323.1h0.85M223.3 331.1h0.85M182.5 321.6h0.85M211.6 329.7h0.85M221.7 326.4h0.85M189.4 335.9h0.85M231.2 329.2h0.85M220.8 330.8h0.85M231.1 326.8h0.85M212.6 332.9h0.85M220.8 332.2h0.85M183.1 326.9h0.85M187.5 331.1h0.85M200.0 327.2h0.85M182.7 328.7h0.85M194.8 331.9h0.85M223.0 323.3h0.85M207.3 333.5h0.85M217.6 327.1h0.85M232.1 335.4h0.85M214.4 337.1h0.85M227.0 321.9h0.85M228.7 326.4h0.85M183.7 332.4h0.85M182.1 329.3h0.85M187.1 333.2h0.85M230.0 322.6h0.85M229.7 327.4h0.85M224.2 323.3h0.85M188.7 324.7h0.85M219.0 330.3h0.85M206.5 327.7h0.85M232.4 334.3h0.85M216.9 332.2h0.85M201.6 326.2h0.85M191.5 328.2h0.85M221.2 326.4h0.85M200.9 329.1h0.85M191.5 325.6h0.85M207.5 326.8h0.85M197.9 328.9h0.85M198.4 320.4h0.85M222.8 328.8h0.85M222.2 328.7h0.85M207.5 327.6h0.85M211.6 324.3h0.85M232.5 330.4h0.85M181.0 336.7h0.85M196.9 328.5h0.85M226.6 324.9h0.85M215.3 327.5h0.85M202.5 327.9h0.85M221.3 329.9h0.85M223.3 328.7h0.85M181.8 332.5h0.85M218.1 333.1h0.85M180.3 321.8h0.85M228.9 325.0h0.85M188.9 333.1h0.85M232.9 334.0h0.85M206.3 323.1h0.85M230.1 333.4h0.85M229.2 328.5h0.85M200.2 330.5h0.85M207.2 328.4h0.85M181.1 336.5h0.85M194.0 329.8h0.85M209.7 331.1h0.85M214.7 329.2h0.85M231.0 338.1h0.85M196.9 332.2h0.85M223.1 336.9h0.85M189.0 324.1h0.85M183.9 320.4h0.85M194.7 327.4h0.85M211.3 323.7h0.85M219.5 323.4h0.85M228.0 336.2h0.85M206.0 333.5h0.85M180.5 332.5h0.85M207.7 325.5h0.85M221.1 330.2h0.85M193.2 334.3h0.85M192.9 327.1h0.85M198.2 326.8h0.85M185.5 326.7h0.85M230.8 325.7h0.85M184.9 333.4h0.85M203.5 324.4h0.85M206.5 319.4h0.85M184.9 331.8h0.85M227.8 325.6h0.85M199.0 325.8h0.85M226.7 330.1h0.85M227.8 323.2h0.85M181.3 329.8h0.85M181.1 335.2h0.85M229.8 324.1h0.85M204.4 331.6h0.85M207.7 330.9h0.85M226.9 318.1h0.85M220.3 325.9h0.85M231.1 329.9h0.85M201.2 322.2h0.85M221.8 327.6h0.85M196.2 332.2h0.85M225.7 335.0h0.85M231.2 337.4h0.85M213.3 334.1h0.85M199.6 330.0h0.85M222.3 325.6h0.85M229.9 324.4h0.85M192.2 335.5h0.85M218.8 326.6h0.85M219.5 327.8h0.85M185.8 330.3h0.85M214.1 337.7h0.85M197.8 332.3h0.85M201.7 322.8h0.85M232.3 324.6h0.85M217.6 332.1h0.85M219.5 327.6h0.85M204.9 326.7h0.85M205.9 330.3h0.85M229.8 329.6h0.85M216.4 327.9h0.85M195.7 337.9h0.85M190.0 333.6h0.85M206.3 337.4h0.85M228.4 326.8h0.85M197.4 330.9h0.85M182.9 334.4h0.85M191.3 335.9h0.85M210.8 328.3h0.85M197.7 328.3h0.85M214.6 335.9h0.85M214.8 334.9h0.85M185.6 326.8h0.85M233.0 325.3h0.85M211.8 327.1h0.85M198.3 331.3h0.85M197.7 336.1h0.85M186.4 324.4h0.85M227.5 325.4h0.85M198.5 324.0h0.85M210.3 333.4h0.85M180.4 323.0h0.85M199.7 328.6h0.85M211.9 327.0h0.85M226.6 335.4h0.85M225.3 324.7h0.85M179.5 327.7h0.85M195.3 330.7h0.85M190.7 324.2h0.85M203.0 326.8h0.85M206.1 325.5h0.85M202.5 328.6h0.85M224.3 319.9h0.85M198.5 336.5h0.85M196.6 328.4h0.85M234.8 328.8h0.85M231.6 326.0h0.85M221.4 330.4h0.85M225.1 331.6h0.85M183.8 328.1h0.85M207.0 319.9h0.85M184.8 326.7h0.85M186.7 324.7h0.85M226.4 336.7h0.85M219.8 332.0h0.85M184.6 330.2h0.85M197.0 334.7h0.85M220.6 327.3h0.85M188.0 331.9h0.85M209.1 327.5h0.85M229.5 326.7h0.85M197.7 328.4h0.85M185.3 330.7h0.85M190.3 325.9h0.85M189.9 323.2h0.85M219.8 325.8h0.85M187.2 335.6h0.85M188.9 338.1h0.85M219.7 334.3h0.85M177.3 334.7h0.85M228.6 329.7h0.85M192.4 338.5h0.85M229.3 330.2h0.85M215.5 328.8h0.85M201.2 332.7h0.85M193.2 327.4h0.85M187.7 326.9h0.85M191.7 331.8h0.85M216.1 335.9h0.85M196.6 329.9h0.85M183.9 339.6h0.85M195.3 327.5h0.85M200.0 326.5h0.85M182.1 332.7h0.85M222.4 326.6h0.85M217.8 331.3h0.85M187.8 329.5h0.85M201.2 332.7h0.85M196.2 326.2h0.85M218.4 335.0h0.85M192.5 337.4h0.85M215.4 323.9h0.85M190.3 333.0h0.85M186.7 334.7h0.85M222.4 326.9h0.85M196.6 335.1h0.85M213.0 324.0h0.85M206.4 330.7h0.85M179.7 327.7h0.85M210.6 331.8h0.85M199.6 333.9h0.85M211.4 326.8h0.85M201.7 331.0h0.85M229.0 324.8h0.85M200.3 327.4h0.85M227.4 334.6h0.85M217.2 330.6h0.85M209.2 324.9h0.85M193.5 330.3h0.85M199.5 328.6h0.85M202.1 330.3h0.85M205.9 323.6h0.85M230.1 336.6h0.85M187.2 329.7h0.85M226.3 326.7h0.85M183.7 335.5h0.85M232.9 323.1h0.85M190.6 325.7h0.85M183.3 326.2h0.85M230.9 330.5h0.85M203.2 333.2h0.85M235.3 324.0h0.85M188.8 334.2h0.85M185.0 340.4h0.85M204.7 330.8h0.85M220.5 328.2h0.85M200.1 321.3h0.85M181.8 328.7h0.85M185.0 326.9h0.85M200.1 335.0h0.85M193.8 329.3h0.85M222.4 337.8h0.85M208.4 322.4h0.85M226.1 328.6h0.85M185.6 337.8h0.85M218.2 331.8h0.85M212.0 328.4h0.85M229.1 325.7h0.85M195.3 334.3h0.85M203.8 338.6h0.85M186.7 328.1h0.85M199.8 330.7h0.85M200.6 330.5h0.85M204.0 332.5h0.85M190.1 332.0h0.85M213.0 333.3h0.85M231.2 335.4h0.85M197.1 334.9h0.85M229.3 322.8h0.85M186.8 327.8h0.85M185.4 324.2h0.85M218.1 325.1h0.85M198.4 325.3h0.85M191.5 330.6h0.85M181.3 326.8h0.85M232.6 324.8h0.85M199.4 328.2h0.85M229.6 330.5h0.85M204.2 335.3h0.85M231.6 327.5h0.85M216.7 322.9h0.85M190.6 336.8h0.85M220.8 332.2h0.85M187.9 330.5h0.85M193.6 321.5h0.85M200.8 329.4h0.85M191.4 331.5h0.85M233.1 329.4h0.85M205.3 327.5h0.85M233.6 327.6h0.85M188.6 331.6h0.85M222.5 326.3h0.85M205.1 327.5h0.85M183.9 330.8h0.85M190.9 336.3h0.85M222.7 331.0h0.85M191.6 324.7h0.85M182.4 332.1h0.85M209.3 327.2h0.85M203.9 326.5h0.85M188.0 322.8h0.85M189.1 323.3h0.85M183.7 325.6h0.85M186.3 326.6h0.85M207.0 328.1h0.85M224.6 337.7h0.85M228.1 335.9h0.85M192.4 330.3h0.85M219.8 329.8h0.85M207.2 333.9h0.85M196.4 327.1h0.85M210.5 323.5h0.85M192.4 327.0h0.85M230.0 329.5h0.85M203.5 329.8h0.85M205.0 330.3h0.85M213.0 337.8h0.85M197.9 331.5h0.85M182.5 329.4h0.85M186.7 322.7h0.85M182.5 340.4h0.85M223.8 329.8h0.85M226.2 329.6h0.85M216.1 338.8h0.85M206.9 328.8h0.85M196.9 329.5h0.85M226.0 333.1h0.85M226.0 322.3h0.85M192.7 332.0h0.85M204.1 328.3h0.85M196.3 326.4h0.85M193.2 321.5h0.85M222.4 328.7h0.85M224.1 323.4h0.85M220.9 330.1h0.85M225.6 331.4h0.85M233.6 323.2h0.85M228.6 323.9h0.85M223.2 329.2h0.85M231.6 324.3h0.85M228.2 336.6h0.85M227.9 329.5h0.85M228.4 331.1h0.85M224.5 328.9h0.85M228.0 320.0h0.85M231.5 334.3h0.85M228.7 326.2h0.85M229.7 321.9h0.85M221.5 334.7h0.85M229.6 326.6h0.85M228.0 326.4h0.85M225.0 327.7h0.85M233.3 329.5h0.85M229.5 328.4h0.85M223.0 328.3h0.85M227.2 325.5h0.85M222.3 319.4h0.85M230.9 322.5h0.85M228.6 337.0h0.85M228.9 322.2h0.85M225.3 328.6h0.85M230.1 319.1h0.85M228.5 327.3h0.85M225.4 330.4h0.85M228.3 324.4h0.85M227.8 318.9h0.85M223.2 331.6h0.85M232.2 333.8h0.85M232.6 321.8h0.85M233.9 330.9h0.85M220.9 319.2h0.85M228.0 317.8h0.85M231.7 327.9h0.85M225.5 332.0h0.85M225.7 329.7h0.85M218.2 324.0h0.85M219.9 321.7h0.85M226.2 328.7h0.85M221.1 324.2h0.85M228.7 322.5h0.85M218.2 326.6h0.85M227.7 329.5h0.85M229.4 331.9h0.85M229.0 318.3h0.85M228.9 330.8h0.85M228.7 333.0h0.85M229.0 325.6h0.85M222.7 321.2h0.85M230.9 332.6h0.85M228.3 325.1h0.85M226.1 325.9h0.85M227.4 323.6h0.85M228.1 328.4h0.85M236.6 328.6h0.85M227.3 325.4h0.85M223.4 327.4h0.85M224.1 332.5h0.85M223.0 329.8h0.85M234.8 322.0h0.85M221.8 332.7h0.85M227.2 336.5h0.85M227.8 322.3h0.85M233.4 324.2h0.85M232.0 331.8h0.85M235.1 327.9h0.85M226.1 320.5h0.85M223.2 329.0h0.85M232.9 320.8h0.85M227.2 326.8h0.85M224.5 316.6h0.85M223.1 329.5h0.85M230.1 328.7h0.85M230.6 321.7h0.85M220.0 322.4h0.85M234.9 321.1h0.85M226.7 323.2h0.85M231.6 321.2h0.85M225.5 320.2h0.85M229.3 327.3h0.85M226.2 325.4h0.85M226.6 324.1h0.85M237.4 331.9h0.85M231.0 327.7h0.85M221.6 330.9h0.85M229.6 328.3h0.85M228.9 332.8h0.85M237.2 323.5h0.85M229.7 327.0h0.85M226.6 326.2h0.85M224.4 329.5h0.85M230.5 336.7h0.85M219.6 327.2h0.85M225.9 340.4h0.85M228.2 326.4h0.85M223.3 321.2h0.85M220.3 321.4h0.85M231.7 334.5h0.85M215.7 326.2h0.85M225.6 329.6h0.85M219.0 322.3h0.85M229.5 332.0h0.85M224.8 317.8h0.85M226.2 330.8h0.85M225.6 324.4h0.85M229.5 327.4h0.85M221.0 332.2h0.85M229.9 323.3h0.85M233.4 332.1h0.85M240.2 334.5h0.85M228.0 323.7h0.85M228.9 329.0h0.85M230.0 324.3h0.85M221.3 322.2h0.85M228.7 330.8h0.85M226.8 331.7h0.85M229.0 324.8h0.85M228.8 324.7h0.85M223.7 325.7h0.85M227.6 329.9h0.85M226.1 315.9h0.85M229.0 329.7h0.85M225.6 326.6h0.85M222.0 320.6h0.85M231.8 328.2h0.85M230.4 324.7h0.85M232.0 327.9h0.85M220.5 325.0h0.85M226.1 327.3h0.85M223.4 322.4h0.85M222.7 326.8h0.85M230.9 330.2h0.85M233.8 333.5h0.85M227.6 323.4h0.85M226.0 323.4h0.85M224.9 323.7h0.85M227.0 320.7h0.85M224.5 336.5h0.85M213.8 335.8h0.85M226.0 327.4h0.85M225.9 325.5h0.85M230.5 325.0h0.85M224.4 326.9h0.85M225.0 326.7h0.85M229.9 328.8h0.85M228.0 320.0h0.85M229.6 332.4h0.85M225.2 329.0h0.85M230.6 331.9h0.85M230.9 328.2h0.85M231.1 322.9h0.85M230.9 325.6h0.85M223.5 319.9h0.85M222.3 327.6h0.85M219.4 324.9h0.85M224.3 326.7h0.85M222.1 327.9h0.85M223.5 327.7h0.85M230.8 322.0h0.85M229.4 327.7h0.85M232.6 314.1h0.85M230.4 324.0h0.85M230.7 326.8h0.85M228.5 325.2h0.85M229.2 337.1h0.85M224.5 327.6h0.85M229.3 334.9h0.85M226.5 329.8h0.85M222.1 330.1h0.85M225.5 320.0h0.85M226.9 329.3h0.85M223.6 324.1h0.85M226.2 324.3h0.85M229.4 322.7h0.85M230.3 324.1h0.85M237.4 321.9h0.85M231.7 323.3h0.85M228.2 325.6h0.85M226.0 322.6h0.85M229.2 331.4h0.85M222.6 320.3h0.85M234.9 322.2h0.85M222.9 328.4h0.85M228.3 334.0h0.85M227.9 334.0h0.85M229.8 328.0h0.85M221.5 329.6h0.85M218.8 330.7h0.85M236.1 329.5h0.85M232.0 328.2h0.85M223.1 328.0h0.85M220.4 330.8h0.85M223.7 325.7h0.85M223.0 334.9h0.85M227.4 329.5h0.85M226.0 327.5h0.85M224.8 323.1h0.85M224.9 332.7h0.85M225.4 327.1h0.85M236.2 329.1h0.85M231.8 326.3h0.85M230.1 331.5h0.85M226.2 332.4h0.85M232.8 317.2h0.85M236.8 330.9h0.85M234.3 336.8h0.85M231.6 328.1h0.85M232.8 323.5h0.85M220.3 326.1h0.85M230.2 323.8h0.85M232.2 321.4h0.85M225.4 335.6h0.85M225.8 331.2h0.85M221.8 325.1h0.85M233.4 319.6h0.85M226.0 320.5h0.85M227.6 320.2h0.85M224.8 324.6h0.85M222.5 327.6h0.85M231.5 326.4h0.85M224.4 335.0h0.85M233.5 325.2h0.85M227.7 324.7h0.85M226.1 326.0h0.85M226.9 318.7h0.85M220.6 327.8h0.85M224.6 328.7h0.85M221.5 332.0h0.85M228.5 323.9h0.85M226.5 329.9h0.85M225.6 327.4h0.85M231.9 327.4h0.85M230.1 323.0h0.85M229.3 327.0h0.85M229.3 339.0h0.85M229.3 326.2h0.85M224.5 332.4h0.85M221.9 324.8h0.85M232.2 320.8h0.85M223.0 325.6h0.85M231.8 331.5h0.85M229.2 323.9h0.85M233.6 331.0h0.85M235.2 330.5h0.85M225.0 329.1h0.85M223.4 335.6h0.85M226.8 318.8h0.85M224.4 329.2h0.85M227.1 330.6h0.85M224.8 325.6h0.85M230.2 325.7h0.85M228.6 322.8h0.85M228.8 333.0h0.85M228.4 338.0h0.85M222.1 321.2h0.85M227.7 319.3h0.85M224.7 327.6h0.85M223.5 326.4h0.85M221.5 330.6h0.85M228.8 319.5h0.85M232.0 324.7h0.85M229.8 318.1h0.85M221.6 331.5h0.85M231.9 330.2h0.85M223.6 328.6h0.85M236.3 325.7h0.85M230.2 325.3h0.85M226.2 329.5h0.85M223.3 331.5h0.85M232.1 326.3h0.85M226.7 320.2h0.85M229.2 329.9h0.85M226.9 324.4h0.85M225.7 325.4h0.85M240.5 328.3h0.85M222.0 331.8h0.85M226.8 319.7h0.85M237.9 322.4h0.85M226.0 328.2h0.85M233.8 326.0h0.85M234.5 325.1h0.85M225.7 324.3h0.85M224.4 325.4h0.85M235.3 325.2h0.85M229.2 328.0h0.85M227.1 325.5h0.85M229.4 326.7h0.85M217.7 324.5h0.85M218.6 331.9h0.85M225.9 325.1h0.85M232.9 322.5h0.85M223.4 322.6h0.85M229.9 327.9h0.85M226.6 330.1h0.85M197.6 347.5h0.85M187.7 354.3h0.85M185.4 362.3h0.85M177.8 348.4h0.85M193.5 354.9h0.85M192.3 351.6h0.85M192.7 357.9h0.85M194.3 354.1h0.85M179.4 353.6h0.85M186.3 364.3h0.85M179.8 366.0h0.85M190.5 349.8h0.85M183.6 362.0h0.85M190.7 362.1h0.85M183.9 359.1h0.85M191.4 364.8h0.85M186.6 369.5h0.85M190.4 353.7h0.85M192.7 359.0h0.85M191.8 365.6h0.85M193.5 364.0h0.85M198.7 357.1h0.85M178.8 354.5h0.85M171.1 351.5h0.85M183.2 357.9h0.85M185.9 368.2h0.85M190.2 369.0h0.85M188.8 354.3h0.85M191.2 364.5h0.85M178.2 362.0h0.85M189.6 355.3h0.85M198.7 359.6h0.85M192.8 356.5h0.85M185.5 346.7h0.85M183.4 366.1h0.85M183.1 359.8h0.85M172.5 359.4h0.85M186.5 359.3h0.85M182.0 359.1h0.85M192.0 364.9h0.85M191.1 367.4h0.85M179.3 368.1h0.85M189.8 358.2h0.85M188.1 364.7h0.85M180.4 376.5h0.85M186.9 370.8h0.85M180.4 362.3h0.85M185.1 350.0h0.85M193.6 345.0h0.85M191.6 357.6h0.85M190.1 353.0h0.85M186.4 363.7h0.85M181.2 362.8h0.85M188.1 353.5h0.85M187.4 364.3h0.85M185.4 350.3h0.85M182.4 356.7h0.85M188.5 350.8h0.85M191.6 350.4h0.85M189.5 349.5h0.85M185.7 363.4h0.85M184.3 375.1h0.85M184.5 348.3h0.85M186.4 370.5h0.85M181.2 363.3h0.85M188.1 365.0h0.85M186.5 368.1h0.85M179.1 362.7h0.85M178.7 360.6h0.85M175.9 360.0h0.85M181.1 374.9h0.85M187.7 375.6h0.85M186.3 362.7h0.85M190.8 366.1h0.85M181.3 359.0h0.85M195.1 353.5h0.85M186.6 349.3h0.85M177.3 359.9h0.85M182.9 360.7h0.85M194.9 346.9h0.85M185.9 355.8h0.85M186.3 360.5h0.85M179.8 357.2h0.85M171.3 378.4h0.85M181.0 373.0h0.85M178.6 357.3h0.85M177.0 369.2h0.85M185.3 361.4h0.85M168.6 365.8h0.85M188.3 355.7h0.85M189.3 357.4h0.85M195.3 362.1h0.85M178.1 358.9h0.85M188.7 352.5h0.85M188.1 364.0h0.85M183.0 362.6h0.85M183.9 365.2h0.85M166.9 365.8h0.85M185.8 355.9h0.85M195.9 345.3h0.85M188.4 351.3h0.85M176.5 361.1h0.85M174.2 362.0h0.85M203.1 359.4h0.85M188.9 347.8h0.85M171.3 360.5h0.85M178.2 364.9h0.85M177.6 359.0h0.85M202.1 346.8h0.85M191.9 362.0h0.85M203.4 344.2h0.85M182.1 359.1h0.85M189.8 358.1h0.85M195.9 359.5h0.85M179.5 364.6h0.85M197.8 358.1h0.85M185.6 368.0h0.85M181.8 364.5h0.85M195.7 359.1h0.85M187.3 367.8h0.85M198.1 359.2h0.85M202.9 350.8h0.85M176.9 365.0h0.85M187.0 366.1h0.85M201.8 359.8h0.85M187.9 366.2h0.85M176.1 362.6h0.85M185.8 369.5h0.85M191.5 361.0h0.85M188.8 354.5h0.85M179.4 361.1h0.85M186.2 363.9h0.85M192.3 356.7h0.85M187.6 350.5h0.85M194.5 342.9h0.85M184.6 357.5h0.85M182.4 367.9h0.85M188.7 374.1h0.85M186.8 350.3h0.85M195.9 354.9h0.85M190.3 370.4h0.85M197.9 362.4h0.85M182.1 365.9h0.85M189.8 346.8h0.85M181.6 362.7h0.85M192.8 354.8h0.85M185.6 340.8h0.85M201.4 344.9h0.85M188.6 372.0h0.85M178.2 370.8h0.85M180.6 359.7h0.85M177.3 362.0h0.85M187.7 362.8h0.85M193.0 358.3h0.85M178.2 361.0h0.85M174.5 352.9h0.85M184.1 365.9h0.85M181.7 361.2h0.85M190.7 356.9h0.85M182.7 366.4h0.85M188.3 364.6h0.85M179.3 362.1h0.85M189.7 353.7h0.85M190.3 365.2h0.85M179.9 366.7h0.85M187.7 369.8h0.85M174.8 362.2h0.85M191.9 366.5h0.85M187.9 360.0h0.85M183.6 373.2h0.85M190.9 364.5h0.85M190.0 353.1h0.85M197.2 359.8h0.85M191.4 350.8h0.85M195.5 363.6h0.85M195.1 352.0h0.85M171.3 362.6h0.85M187.5 352.5h0.85M184.0 349.7h0.85M186.6 355.1h0.85M180.0 364.8h0.85M180.3 369.9h0.85M183.7 358.9h0.85M184.4 373.9h0.85M188.4 362.0h0.85M185.1 357.3h0.85M173.3 364.3h0.85M196.8 358.2h0.85M189.8 363.1h0.85M189.8 349.6h0.85M190.9 357.8h0.85M188.3 363.8h0.85M188.4 355.9h0.85M179.6 353.8h0.85M201.2 364.4h0.85M199.0 341.5h0.85M183.6 360.0h0.85M182.2 365.9h0.85M179.0 356.7h0.85M192.0 349.3h0.85M180.2 360.0h0.85M191.5 359.1h0.85M185.9 357.2h0.85M186.0 363.3h0.85M199.4 344.6h0.85M187.8 348.1h0.85M198.5 340.9h0.85M186.4 365.7h0.85M189.4 359.4h0.85M185.4 358.7h0.85M175.8 364.6h0.85M182.4 372.9h0.85M188.2 363.5h0.85M186.2 366.1h0.85M184.7 354.7h0.85M185.3 357.1h0.85M188.6 364.6h0.85M189.4 353.6h0.85M188.9 361.0h0.85M183.1 358.9h0.85M185.2 356.9h0.85M180.2 373.8h0.85M184.9 359.0h0.85M177.0 353.9h0.85M179.1 369.2h0.85M185.4 368.8h0.85M182.8 358.8h0.85M183.4 375.0h0.85M182.4 365.5h0.85M178.6 374.2h0.85M186.0 362.4h0.85M195.0 349.6h0.85M187.5 368.9h0.85M190.7 358.5h0.85M181.5 372.9h0.85M193.1 348.2h0.85M188.1 362.1h0.85M189.9 366.1h0.85M190.1 349.5h0.85M183.1 352.4h0.85M183.0 349.2h0.85M190.6 348.8h0.85M177.8 365.2h0.85M190.1 362.1h0.85M187.3 348.3h0.85M193.8 361.9h0.85M194.1 353.2h0.85M184.1 353.8h0.85M193.7 350.7h0.85M189.3 369.7h0.85M169.5 369.7h0.85M186.6 366.5h0.85M184.1 361.8h0.85M178.0 355.9h0.85M206.8 357.5h0.85M183.3 357.4h0.85M191.5 358.9h0.85M183.0 354.2h0.85M184.9 373.8h0.85M193.9 348.6h0.85M194.0 344.5h0.85M178.3 355.5h0.85M187.7 364.4h0.85M173.8 363.8h0.85M186.6 365.0h0.85M180.2 362.8h0.85M194.0 362.3h0.85M184.6 359.0h0.85M199.8 346.3h0.85M183.2 363.3h0.85M194.0 361.0h0.85M189.4 361.9h0.85M179.8 367.7h0.85M176.8 355.5h0.85M182.0 363.0h0.85M174.1 355.9h0.85M179.9 361.7h0.85M178.4 351.3h0.85M194.7 360.7h0.85M185.1 356.5h0.85M191.9 356.7h0.85M177.7 358.7h0.85M188.6 364.3h0.85M195.3 358.9h0.85M198.7 349.4h0.85M181.7 372.9h0.85M184.8 369.9h0.85M171.3 371.3h0.85M189.3 374.7h0.85M196.6 349.2h0.85M180.7 353.2h0.85M203.1 361.5h0.85M187.6 369.2h0.85M193.9 343.0h0.85M193.3 348.8h0.85M193.9 358.7h0.85M184.5 355.7h0.85M187.5 367.9h0.85M188.5 356.5h0.85M196.7 355.5h0.85M183.6 350.1h0.85M180.4 357.0h0.85M179.4 373.4h0.85M180.5 376.6h0.85M188.0 370.6h0.85M189.5 349.3h0.85M188.5 350.9h0.85M179.1 376.8h0.85M196.2 372.3h0.85M186.3 355.4h0.85M185.5 359.0h0.85M195.8 364.3h0.85M187.8 361.7h0.85M166.8 358.1h0.85M175.5 368.2h0.85M189.1 362.4h0.85M188.7 359.3h0.85M189.6 360.7h0.85M190.6 356.4h0.85M187.4 359.8h0.85M174.4 366.4h0.85M176.7 357.6h0.85M186.9 371.1h0.85M182.7 363.3h0.85M194.6 356.7h0.85M200.6 349.1h0.85M189.8 356.7h0.85M194.7 367.0h0.85M189.1 358.4h0.85M190.7 355.1h0.85M174.4 359.3h0.85M179.8 359.6h0.85M198.6 358.1h0.85M181.7 359.0h0.85M194.1 358.4h0.85M201.0 367.5h0.85M188.7 359.9h0.85M183.0 343.8h0.85M183.3 363.3h0.85M183.5 372.5h0.85M185.3 365.8h0.85M191.2 355.7h0.85M182.2 362.4h0.85M187.6 363.3h0.85M174.7 359.2h0.85M199.0 357.5h0.85M171.5 356.8h0.85M190.7 355.8h0.85M191.1 364.2h0.85M172.9 355.0h0.85M189.1 349.2h0.85M188.8 356.4h0.85M188.9 352.2h0.85M169.8 370.8h0.85M186.5 360.1h0.85M186.5 363.7h0.85M179.2 360.0h0.85M180.7 362.5h0.85M191.1 343.9h0.85M195.7 359.8h0.85M190.7 359.3h0.85M180.3 359.0h0.85M178.4 364.3h0.85M199.5 349.0h0.85M184.2 361.3h0.85M185.5 363.0h0.85M194.4 367.7h0.85M187.3 353.0h0.85M188.4 352.4h0.85M199.0 357.1h0.85M174.8 353.3h0.85M185.9 362.2h0.85M191.1 352.3h0.85M178.1 353.8h0.85M191.6 356.8h0.85M190.0 367.0h0.85M180.5 373.9h0.85M191.0 351.3h0.85M189.3 352.0h0.85M189.8 354.2h0.85M203.7 352.8h0.85M176.4 371.4h0.85M198.7 368.2h0.85M187.3 347.3h0.85M180.9 364.2h0.85M191.4 357.5h0.85M189.5 349.2h0.85M191.4 351.9h0.85M190.9 365.7h0.85M187.7 379.3h0.85M188.2 353.5h0.85M182.8 363.7h0.85M194.2 360.2h0.85M183.3 359.5h0.85M184.7 367.1h0.85M185.7 356.5h0.85M191.9 345.3h0.85M179.1 363.9h0.85M185.9 365.3h0.85M183.9 375.3h0.85M185.7 347.0h0.85M188.7 348.6h0.85M183.8 363.7h0.85M182.7 349.7h0.85M192.5 365.2h0.85M186.3 359.5h0.85M187.8 352.0h0.85M189.0 361.0h0.85M197.2 356.2h0.85M201.6 347.2h0.85M188.8 356.9h0.85M171.4 362.8h0.85M187.2 347.9h0.85M187.0 362.1h0.85M186.3 358.8h0.85M178.5 358.8h0.85M177.2 359.4h0.85M193.9 353.3h0.85M196.4 349.9h0.85M179.6 358.3h0.85M194.2 367.2h0.85M188.0 360.0h0.85M188.0 356.7h0.85M186.3 374.9h0.85M186.4 352.3h0.85M179.5 357.9h0.85M192.8 349.5h0.85M196.3 359.3h0.85M184.9 356.8h0.85M182.7 365.0h0.85M184.8 366.3h0.85M188.1 371.0h0.85M186.8 354.6h0.85M188.1 363.6h0.85M190.5 372.7h0.85M195.8 354.9h0.85M181.0 350.1h0.85M177.9 347.6h0.85M188.8 361.9h0.85M175.1 369.0h0.85M179.1 357.9h0.85M184.4 368.1h0.85M184.6 351.6h0.85M193.3 354.8h0.85M174.0 380.7h0.85M193.7 342.0h0.85M174.6 367.0h0.85M183.2 361.9h0.85M183.8 362.9h0.85M174.4 356.8h0.85M181.6 355.6h0.85M178.1 357.9h0.85M179.1 372.2h0.85M191.6 361.5h0.85M169.4 363.0h0.85M178.0 362.6h0.85M186.2 354.9h0.85M180.6 365.7h0.85M198.2 363.9h0.85M179.0 361.7h0.85M177.6 368.5h0.85M175.7 360.7h0.85M177.9 363.5h0.85M179.8 366.3h0.85M201.6 345.7h0.85M192.4 350.4h0.85M187.9 348.1h0.85M189.1 347.2h0.85M197.7 376.3h0.85M176.9 364.3h0.85M179.3 355.6h0.85M179.1 358.6h0.85M181.2 376.2h0.85M187.0 364.2h0.85M189.6 348.3h0.85M180.9 358.5h0.85M197.3 350.8h0.85M184.2 351.0h0.85M188.6 364.2h0.85M177.0 358.5h0.85M188.7 368.0h0.85M179.3 355.2h0.85M190.0 366.2h0.85M190.7 351.5h0.85M183.2 367.4h0.85M194.9 354.3h0.85M195.4 353.6h0.85M186.1 356.5h0.85M174.8 351.4h0.85M186.7 356.1h0.85M183.8 359.7h0.85M192.5 368.1h0.85M180.4 357.5h0.85M189.4 345.8h0.85M184.9 372.8h0.85M186.1 359.6h0.85M176.4 368.1h0.85M194.2 349.1h0.85M190.4 352.4h0.85M176.2 375.3h0.85M190.8 351.4h0.85M175.1 358.8h0.85M175.2 360.1h0.85M185.1 354.1h0.85M199.9 351.1h0.85M190.6 368.6h0.85M189.6 353.5h0.85M190.8 354.8h0.85M178.9 367.8h0.85M190.5 378.1h0.85M189.6 366.6h0.85M179.9 366.3h0.85M188.7 367.0h0.85M192.7 344.1h0.85M175.6 365.2h0.85M179.7 367.2h0.85M190.8 356.3h0.85M184.4 365.3h0.85M188.0 343.5h0.85M201.3 355.8h0.85M184.4 353.4h0.85M188.0 360.6h0.85M194.4 356.2h0.85M189.4 360.0h0.85M188.3 362.2h0.85M191.3 367.6h0.85M199.4 363.6h0.85M170.6 367.6h0.85M192.8 367.1h0.85M178.7 357.0h0.85M178.8 363.1h0.85M197.3 357.4h0.85M188.6 366.5h0.85M181.3 362.1h0.85M181.9 358.6h0.85M192.3 356.5h0.85M187.4 357.5h0.85M184.1 360.5h0.85M186.8 347.8h0.85M188.3 350.7h0.85M195.2 358.9h0.85M196.0 340.8h0.85M183.4 353.7h0.85M191.5 363.0h0.85M186.9 366.2h0.85M193.5 360.6h0.85M182.8 364.4h0.85M189.7 346.4h0.85M196.7 355.6h0.85M185.4 357.6h0.85M179.3 352.0h0.85M193.0 350.2h0.85M187.2 360.6h0.85M189.6 342.2h0.85M191.6 359.8h0.85M189.7 352.9h0.85M180.7 360.3h0.85M174.4 369.2h0.85M191.5 358.7h0.85M175.3 365.5h0.85M183.8 359.9h0.85M183.5 364.7h0.85M182.7 357.7h0.85M189.8 376.1h0.85M190.6 375.7h0.85M187.2 362.0h0.85M185.3 361.7h0.85M191.3 357.2h0.85M179.1 364.4h0.85M200.3 347.7h0.85M176.9 372.6h0.85M193.1 347.3h0.85M176.8 372.7h0.85M191.8 364.4h0.85M181.7 367.0h0.85M188.3 343.3h0.85M192.2 372.9h0.85M189.5 362.0h0.85M180.4 378.4h0.85M196.8 347.8h0.85M190.8 359.8h0.85M201.1 366.7h0.85M185.1 364.7h0.85M184.1 360.8h0.85M171.7 361.2h0.85M186.0 354.0h0.85M177.3 360.4h0.85M186.3 354.1h0.85M186.8 359.6h0.85M182.8 357.1h0.85M192.0 363.3h0.85M184.9 362.5h0.85M181.7 350.4h0.85M195.7 348.9h0.85M189.2 373.3h0.85M191.2 364.6h0.85M188.2 356.2h0.85M188.3 364.8h0.85M181.6 369.4h0.85M173.1 358.5h0.85M191.3 361.6h0.85M188.5 358.2h0.85M179.2 363.3h0.85M181.3 367.7h0.85M182.0 366.3h0.85M206.3 355.3h0.85M191.0 344.9h0.85M182.9 353.4h0.85M175.1 358.4h0.85M176.8 373.0h0.85M180.6 366.4h0.85M184.0 366.2h0.85M191.3 363.6h0.85M179.2 369.6h0.85M192.9 373.6h0.85M201.2 354.3h0.85M180.3 363.2h0.85M179.3 362.3h0.85M189.1 349.5h0.85M192.1 351.9h0.85M194.1 361.0h0.85M190.1 345.8h0.85M188.1 355.2h0.85M179.6 356.2h0.85M186.4 357.4h0.85M190.2 366.5h0.85M181.1 376.9h0.85M185.7 347.2h0.85M180.0 370.2h0.85M183.5 355.5h0.85M183.5 366.8h0.85M189.3 348.8h0.85M182.2 357.5h0.85M182.3 372.4h0.85M186.7 363.6h0.85M172.4 356.5h0.85M191.2 357.2h0.85M187.3 361.5h0.85M181.0 367.4h0.85M190.6 358.3h0.85M193.0 345.5h0.85M196.2 339.6h0.85M179.3 371.9h0.85M192.7 357.4h0.85M197.6 355.5h0.85M182.2 367.2h0.85M179.6 364.2h0.85M182.5 354.5h0.85M191.6 363.2h0.85M191.9 362.4h0.85M185.9 360.0h0.85M184.2 343.1h0.85M190.4 367.5h0.85M190.2 359.3h0.85M186.1 361.2h0.85M192.9 358.1h0.85M178.1 369.9h0.85M183.6 354.1h0.85M179.4 363.4h0.85M190.2 363.9h0.85M176.2 375.3h0.85M198.7 353.9h0.85M171.2 370.0h0.85M189.8 359.4h0.85M185.5 366.8h0.85M192.5 336.9h0.85M175.0 371.7h0.85M179.7 373.8h0.85M178.8 364.0h0.85M183.1 359.5h0.85M175.1 355.8h0.85M182.5 356.9h0.85M184.6 363.1h0.85M197.0 360.3h0.85M186.4 356.8h0.85M182.5 373.7h0.85M184.8 349.9h0.85M182.7 355.3h0.85M187.6 367.3h0.85M190.8 355.8h0.85M181.8 364.8h0.85M177.6 357.4h0.85M196.2 354.1h0.85M184.0 361.2h0.85M174.8 355.0h0.85M196.0 342.4h0.85M190.5 359.7h0.85M187.9 345.2h0.85M183.9 356.0h0.85M187.3 353.5h0.85M196.2 351.8h0.85M176.3 370.3h0.85M188.9 363.2h0.85M190.3 358.7h0.85M200.2 364.6h0.85M179.5 364.7h0.85M190.1 359.7h0.85M184.6 369.3h0.85M187.5 351.9h0.85M187.3 359.7h0.85M185.1 364.5h0.85M181.9 353.0h0.85M191.5 370.7h0.85M184.8 360.0h0.85M183.6 363.6h0.85M191.8 349.9h0.85M185.5 356.4h0.85M187.8 361.7h0.85M176.6 359.6h0.85M182.2 353.5h0.85M184.0 362.3h0.85M194.1 351.0h0.85M185.2 354.8h0.85M172.0 351.4h0.85M176.0 357.8h0.85M185.5 360.3h0.85M193.3 360.0h0.85M187.4 347.6h0.85M194.0 367.7h0.85M196.0 365.4h0.85M181.6 356.5h0.85M189.2 364.0h0.85M187.9 357.2h0.85M190.0 349.3h0.85M187.0 351.9h0.85M184.8 357.6h0.85M183.0 359.7h0.85M206.4 357.0h0.85M181.4 356.6h0.85M195.5 358.3h0.85M191.1 363.9h0.85M196.2 349.9h0.85M178.7 354.5h0.85M186.4 359.7h0.85M179.3 353.5h0.85M184.6 361.1h0.85M192.9 355.7h0.85M186.3 364.4h0.85M183.1 365.4h0.85M180.0 364.0h0.85M190.2 370.0h0.85M187.9 357.1h0.85M193.3 355.4h0.85M190.3 367.4h0.85M185.1 356.0h0.85M186.0 370.4h0.85M189.0 364.9h0.85M187.3 357.2h0.85M194.9 335.7h0.85M187.0 370.6h0.85M177.9 365.3h0.85M167.3 376.3h0.85M188.4 353.7h0.85M194.0 351.4h0.85M184.0 355.4h0.85M188.6 353.5h0.85M194.0 359.7h0.85M188.9 346.3h0.85M188.3 368.1h0.85M184.8 359.2h0.85M188.3 364.4h0.85M198.2 354.8h0.85M182.8 361.3h0.85M173.6 366.5h0.85M180.8 339.7h0.85M178.7 366.9h0.85M178.5 368.3h0.85M175.8 367.1h0.85M196.6 355.3h0.85M188.1 360.1h0.85M167.7 372.6h0.85M176.4 358.0h0.85M194.6 354.0h0.85M178.9 356.5h0.85M192.8 360.4h0.85M172.4 365.3h0.85M192.7 359.4h0.85M179.2 359.5h0.85M179.6 361.0h0.85M188.6 369.2h0.85M184.2 359.9h0.85M176.0 364.1h0.85M198.3 346.7h0.85M183.7 348.7h0.85M176.5 363.1h0.85M183.2 348.6h0.85M188.2 357.9h0.85M189.9 356.8h0.85M183.1 358.8h0.85M182.0 362.8h0.85M189.6 358.6h0.85M194.3 341.0h0.85M178.5 361.7h0.85M190.6 370.8h0.85M184.3 346.0h0.85M189.1 375.0h0.85M184.4 369.5h0.85M191.4 349.4h0.85M202.4 346.7h0.85M187.4 355.5h0.85M182.9 363.7h0.85M185.8 359.7h0.85M183.0 357.6h0.85M181.6 359.1h0.85M175.2 367.9h0.85M186.5 361.9h0.85M201.2 346.3h0.85M187.6 355.5h0.85M186.4 345.4h0.85M199.0 358.3h0.85M185.1 367.7h0.85M186.5 366.2h0.85M199.5 343.7h0.85M183.4 352.8h0.85M189.0 360.3h0.85M190.8 367.7h0.85M182.0 357.0h0.85M194.5 364.6h0.85M179.8 363.2h0.85M178.4 364.7h0.85M187.5 365.8h0.85M183.8 357.1h0.85M173.8 380.1h0.85M194.8 349.5h0.85M183.9 356.4h0.85M177.7 366.5h0.85M189.7 349.5h0.85M199.2 364.1h0.85M183.6 362.1h0.85M178.1 356.1h0.85M192.0 356.0h0.85M179.1 370.6h0.85M181.4 359.2h0.85M194.5 352.1h0.85M189.5 358.5h0.85M184.5 364.4h0.85M205.3 348.5h0.85M171.6 377.1h0.85M186.6 343.7h0.85M187.0 358.6h0.85M188.2 368.2h0.85M170.9 370.5h0.85M193.7 355.6h0.85M181.0 358.5h0.85M190.3 354.5h0.85M172.0 376.5h0.85M185.8 364.4h0.85M175.9 360.2h0.85M189.6 353.7h0.85M184.1 367.0h0.85M199.2 352.0h0.85M169.6 367.2h0.85M185.0 369.4h0.85M187.1 352.3h0.85M189.0 358.5h0.85M187.7 363.3h0.85M184.4 358.6h0.85M189.0 360.6h0.85M194.4 341.8h0.85M194.7 352.5h0.85M183.7 375.0h0.85M187.3 353.8h0.85M184.6 363.9h0.85M175.5 358.2h0.85M184.8 366.4h0.85M182.3 368.5h0.85M198.2 355.8h0.85M189.0 361.5h0.85M180.6 362.0h0.85M190.0 362.4h0.85M178.6 368.9h0.85M177.7 359.3h0.85M175.7 362.3h0.85M188.4 360.8h0.85M188.1 359.6h0.85M191.2 362.4h0.85M192.8 357.1h0.85M188.1 353.8h0.85M200.6 373.4h0.85M193.6 351.3h0.85M173.0 365.9h0.85M171.2 372.6h0.85M189.0 370.1h0.85M202.1 359.2h0.85M172.6 369.8h0.85M190.9 366.0h0.85M178.5 367.3h0.85M176.2 360.0h0.85M189.0 347.7h0.85M185.2 365.1h0.85M184.6 361.2h0.85M186.5 359.1h0.85M183.5 357.4h0.85M182.1 354.4h0.85M193.8 364.8h0.85M183.2 367.2h0.85M192.9 353.8h0.85M177.7 373.8h0.85M178.7 366.1h0.85M185.8 359.2h0.85M178.5 367.4h0.85M191.7 371.2h0.85M179.4 365.3h0.85M192.7 349.0h0.85M167.7 361.9h0.85M190.0 368.7h0.85M178.4 362.4h0.85M179.7 341.1h0.85M183.9 362.3h0.85M193.1 366.0h0.85M183.9 351.4h0.85M178.8 376.8h0.85M191.4 358.1h0.85M188.2 356.2h0.85M172.7 375.5h0.85M195.0 352.8h0.85M190.3 359.8h0.85M185.0 359.9h0.85M183.3 350.4h0.85M176.3 352.4h0.85M187.5 363.5h0.85M184.8 357.6h0.85M187.3 366.0h0.85M176.1 378.5h0.85M175.9 364.5h0.85M188.3 355.4h0.85M186.9 355.8h0.85M201.4 349.9h0.85M186.1 365.2h0.85M189.1 355.6h0.85M190.7 359.2h0.85M192.2 363.0h0.85M186.9 355.6h0.85M176.6 349.7h0.85M184.1 364.3h0.85M185.3 374.9h0.85M181.2 369.6h0.85M179.6 358.4h0.85M191.1 356.5h0.85M189.0 353.9h0.85M184.1 366.7h0.85M183.5 359.5h0.85M185.2 368.2h0.85M181.6 360.8h0.85M190.7 354.7h0.85M182.1 359.8h0.85M194.4 365.8h0.85M188.4 369.3h0.85M187.2 365.3h0.85M185.5 352.6h0.85M198.3 335.6h0.85M195.2 338.0h0.85M190.6 351.7h0.85M190.3 347.3h0.85M198.1 343.2h0.85M189.2 347.2h0.85M193.5 337.2h0.85M197.0 344.2h0.85M198.9 343.4h0.85M196.2 335.6h0.85M191.1 339.5h0.85M200.5 351.9h0.85M197.3 339.5h0.85M191.5 343.7h0.85M192.3 345.2h0.85M196.1 345.0h0.85M186.4 343.2h0.85M180.4 353.8h0.85M204.9 346.8h0.85M197.9 339.4h0.85M197.0 341.9h0.85M197.1 344.4h0.85M190.4 340.8h0.85M198.1 337.5h0.85M199.9 340.5h0.85M194.9 349.3h0.85M192.4 349.7h0.85M197.9 332.7h0.85M204.0 334.7h0.85M193.4 342.3h0.85M195.1 347.5h0.85M197.2 339.4h0.85M182.9 339.5h0.85M192.5 353.3h0.85M189.2 344.4h0.85M184.8 353.9h0.85M189.3 350.3h0.85M199.2 343.0h0.85M190.6 343.9h0.85M193.9 341.1h0.85M187.1 364.2h0.85M196.6 338.5h0.85M206.3 338.2h0.85M195.0 344.0h0.85M206.0 342.9h0.85M194.8 343.9h0.85M185.0 342.6h0.85M201.7 327.5h0.85M187.3 346.0h0.85M189.7 354.3h0.85M196.6 344.6h0.85M198.7 350.2h0.85M195.7 338.4h0.85M194.1 350.0h0.85M198.1 344.3h0.85M203.4 351.2h0.85M180.7 353.8h0.85M196.9 347.6h0.85M176.5 347.7h0.85M204.4 353.9h0.85M203.3 332.5h0.85M192.4 351.2h0.85M199.1 335.3h0.85M190.2 340.7h0.85M193.0 352.2h0.85M191.0 345.5h0.85M195.9 342.1h0.85M184.9 349.0h0.85M202.9 341.2h0.85M201.9 350.1h0.85M186.4 351.5h0.85M201.5 338.3h0.85M194.4 346.5h0.85M200.7 343.9h0.85M196.0 353.4h0.85M195.3 341.9h0.85M192.4 343.7h0.85M197.2 349.0h0.85M190.9 347.8h0.85M191.8 348.6h0.85M189.5 349.9h0.85M205.9 340.4h0.85M195.4 342.4h0.85M199.6 333.5h0.85M206.3 337.2h0.85M194.1 344.9h0.85M196.0 342.1h0.85M191.6 341.5h0.85M196.1 338.2h0.85M195.6 347.1h0.85M197.2 347.6h0.85M194.5 344.8h0.85M200.5 340.0h0.85M193.6 339.5h0.85M200.4 351.1h0.85M185.3 349.8h0.85M196.2 348.2h0.85M197.5 346.6h0.85M207.2 328.1h0.85M191.0 352.4h0.85M195.7 348.4h0.85M197.7 350.1h0.85M191.6 351.0h0.85M194.8 352.4h0.85M194.4 348.3h0.85M189.5 352.2h0.85M188.9 355.3h0.85M205.4 349.2h0.85M194.2 333.2h0.85M181.0 347.8h0.85M204.6 334.9h0.85M197.7 339.1h0.85M188.7 338.0h0.85M191.3 344.3h0.85M186.9 331.4h0.85M190.1 345.4h0.85M189.8 348.0h0.85M188.9 342.2h0.85M185.6 351.4h0.85M192.9 342.1h0.85M199.7 353.3h0.85M191.8 342.8h0.85M203.3 336.3h0.85M187.9 342.9h0.85M189.2 351.3h0.85M178.7 349.6h0.85M197.4 338.8h0.85M195.1 348.4h0.85M192.4 337.5h0.85M195.5 349.1h0.85M188.2 344.1h0.85M197.7 345.4h0.85M182.2 352.1h0.85M191.4 339.4h0.85M203.2 337.2h0.85M191.4 346.0h0.85M200.8 347.8h0.85M189.0 350.1h0.85M187.8 353.8h0.85M186.2 335.5h0.85M195.3 335.9h0.85M205.0 339.0h0.85M205.8 333.6h0.85M200.0 341.5h0.85M195.1 338.7h0.85M196.4 344.7h0.85M211.5 339.3h0.85M197.5 341.3h0.85M200.4 340.5h0.85M195.1 343.6h0.85M194.7 345.6h0.85M194.1 337.3h0.85M199.5 340.2h0.85M188.2 340.8h0.85M194.6 345.1h0.85M199.8 339.7h0.85M189.7 348.7h0.85M200.9 348.2h0.85M181.3 350.8h0.85M194.6 343.7h0.85M192.8 354.8h0.85M195.9 348.8h0.85M185.5 344.6h0.85M198.3 348.3h0.85M200.9 342.2h0.85M203.9 339.7h0.85M189.9 344.1h0.85M203.1 340.0h0.85M186.1 347.2h0.85M189.7 351.5h0.85M194.7 345.6h0.85M195.9 334.5h0.85M186.4 345.5h0.85M188.6 348.7h0.85M195.7 341.9h0.85M195.8 343.7h0.85M184.3 348.0h0.85M199.2 339.2h0.85M189.8 344.6h0.85M198.4 344.4h0.85M189.8 345.0h0.85M190.8 337.2h0.85M184.0 343.7h0.85M201.6 348.5h0.85M187.8 357.6h0.85M190.0 338.9h0.85M183.0 339.4h0.85M200.3 343.8h0.85M194.8 338.2h0.85M199.4 337.5h0.85M180.4 346.2h0.85M194.7 350.8h0.85M187.6 355.0h0.85M205.4 338.4h0.85M197.2 337.7h0.85M194.4 340.2h0.85M177.0 349.5h0.85M197.2 346.0h0.85M203.0 346.1h0.85M183.1 349.5h0.85M194.7 343.7h0.85M195.3 339.3h0.85M190.8 338.4h0.85M198.6 336.2h0.85M195.9 347.0h0.85M191.6 348.6h0.85M192.8 349.0h0.85M196.2 349.0h0.85M194.0 344.8h0.85M189.0 348.5h0.85M201.3 343.6h0.85M199.6 339.5h0.85M187.2 340.4h0.85M187.5 345.4h0.85M187.6 343.5h0.85M195.1 342.6h0.85M188.1 347.1h0.85M195.7 337.0h0.85M207.3 346.9h0.85M197.4 337.3h0.85M189.9 350.1h0.85M206.3 338.1h0.85M184.6 353.4h0.85M191.4 349.8h0.85M189.1 344.3h0.85M191.3 338.7h0.85M199.5 335.3h0.85M193.3 347.2h0.85M191.0 343.2h0.85M194.0 349.0h0.85M189.5 346.4h0.85M201.4 341.6h0.85M186.1 347.3h0.85M177.6 348.1h0.85M196.1 347.2h0.85M196.4 338.3h0.85M199.1 347.3h0.85M195.2 344.0h0.85M192.1 339.2h0.85M194.3 340.8h0.85M199.8 348.2h0.85M193.1 354.2h0.85M196.7 355.4h0.85M200.4 350.6h0.85M184.0 346.2h0.85M204.7 338.7h0.85M184.7 341.2h0.85M192.7 340.6h0.85M189.8 335.7h0.85M191.4 340.5h0.85M196.8 352.3h0.85M194.8 348.3h0.85M193.7 344.8h0.85M188.0 345.2h0.85M198.9 339.3h0.85M198.1 335.1h0.85M197.7 342.9h0.85M196.8 340.1h0.85M193.1 346.3h0.85M206.8 337.2h0.85M197.8 355.6h0.85M195.8 344.6h0.85M202.8 334.7h0.85M186.8 342.0h0.85M207.0 335.2h0.85M193.5 340.2h0.85M196.8 344.0h0.85M189.8 343.9h0.85M198.8 342.1h0.85M190.5 339.4h0.85M208.1 328.0h0.85M193.0 344.2h0.85M191.4 347.9h0.85M181.7 346.3h0.85M186.9 346.2h0.85M192.2 346.3h0.85M183.4 346.9h0.85M193.1 342.5h0.85M190.7 342.1h0.85M204.0 345.9h0.85M193.8 346.1h0.85M199.8 340.0h0.85M186.6 349.0h0.85M191.8 348.2h0.85M195.7 335.6h0.85M200.9 340.2h0.85M201.2 342.2h0.85M201.6 340.6h0.85M187.6 342.2h0.85M196.5 355.9h0.85M193.6 335.6h0.85M196.8 345.9h0.85M195.2 346.1h0.85M190.3 344.6h0.85M190.7 339.5h0.85M192.5 340.2h0.85M186.0 350.8h0.85M181.7 341.5h0.85M200.6 345.3h0.85M193.6 349.8h0.85M201.4 333.7h0.85M191.9 344.4h0.85M189.1 338.0h0.85M194.1 334.0h0.85M189.8 342.8h0.85M193.1 348.1h0.85M192.8 348.3h0.85M199.6 346.9h0.85M187.0 340.3h0.85M192.1 352.1h0.85M201.3 345.6h0.85M187.8 345.5h0.85M191.9 347.8h0.85M200.8 333.4h0.85M186.9 345.5h0.85M177.9 345.8h0.85M192.7 343.3h0.85M197.3 338.6h0.85M203.5 344.5h0.85M190.6 346.3h0.85M195.6 344.2h0.85M189.0 352.1h0.85M195.6 340.8h0.85M194.9 347.8h0.85M193.1 336.5h0.85M186.2 348.4h0.85M194.6 346.6h0.85M191.1 339.8h0.85M203.5 342.9h0.85M192.5 351.8h0.85M187.9 352.5h0.85M181.3 351.4h0.85M191.6 342.4h0.85M202.0 342.5h0.85M199.6 345.4h0.85M200.0 353.7h0.85M193.2 349.8h0.85M197.3 340.9h0.85M192.2 344.8h0.85M193.5 355.5h0.85M191.4 348.8h0.85M196.8 339.7h0.85M187.9 346.2h0.85M191.8 348.0h0.85M193.2 349.9h0.85M185.4 350.3h0.85M192.9 348.5h0.85M192.6 348.4h0.85M194.8 343.2h0.85M196.8 339.7h0.85M195.6 343.2h0.85M191.4 338.8h0.85M179.0 346.2h0.85M207.0 337.0h0.85M195.1 347.9h0.85M199.2 339.2h0.85M191.4 338.9h0.85M186.3 342.0h0.85M197.0 337.9h0.85M198.1 343.8h0.85M201.0 329.9h0.85M188.1 342.9h0.85M190.8 351.3h0.85M187.8 345.9h0.85M198.2 345.2h0.85M191.4 340.3h0.85M193.3 339.7h0.85M198.7 336.6h0.85M201.8 351.9h0.85M183.6 355.4h0.85M180.2 358.6h0.85M199.7 338.3h0.85M198.3 335.2h0.85M191.6 340.1h0.85M203.7 337.9h0.85M190.2 337.0h0.85M193.8 346.4h0.85M199.1 341.5h0.85M196.3 354.2h0.85M192.6 342.6h0.85M220.8 343.8h0.85M211.8 343.2h0.85M214.3 340.2h0.85M216.7 359.9h0.85M222.3 369.9h0.85M212.4 372.3h0.85M207.1 362.1h0.85M208.3 344.5h0.85M223.4 365.3h0.85M210.1 352.3h0.85M207.5 361.9h0.85M223.1 367.1h0.85M229.4 347.5h0.85M220.7 374.9h0.85M228.7 337.3h0.85M213.8 365.3h0.85M233.0 340.1h0.85M230.9 352.9h0.85M221.2 347.8h0.85M228.6 370.8h0.85M231.9 347.1h0.85M231.1 375.7h0.85M215.5 352.3h0.85M216.8 346.8h0.85M217.9 346.7h0.85M226.0 336.4h0.85M207.0 355.0h0.85M217.1 352.6h0.85M208.5 377.5h0.85M223.9 371.2h0.85M225.6 365.6h0.85M221.2 349.2h0.85M235.6 363.5h0.85M212.5 376.0h0.85M229.3 372.9h0.85M232.3 344.3h0.85M220.1 343.8h0.85M229.7 368.1h0.85M208.8 367.6h0.85M227.5 348.6h0.85M209.4 355.0h0.85M223.8 340.9h0.85M211.3 349.9h0.85M214.1 372.8h0.85M219.0 344.6h0.85M228.2 362.4h0.85M221.3 365.4h0.85M228.1 357.8h0.85M207.7 353.3h0.85M215.1 349.0h0.85M232.1 357.1h0.85M215.0 358.2h0.85M211.0 345.3h0.85M213.1 344.6h0.85M223.3 370.2h0.85M220.7 348.6h0.85M230.4 357.1h0.85M227.1 367.2h0.85M222.0 349.5h0.85M205.5 373.7h0.85M224.8 356.2h0.85M209.3 368.1h0.85M233.7 367.5h0.85M223.9 365.0h0.85M209.5 364.7h0.85M216.1 361.8h0.85M209.5 353.1h0.85M229.8 342.7h0.85M211.3 350.1h0.85M215.1 363.6h0.85M223.7 360.3h0.85M201.7 361.2h0.85M220.5 363.5h0.85M212.2 372.8h0.85M229.7 351.9h0.85M233.3 375.6h0.85M232.5 369.2h0.85M210.5 338.7h0.85M214.7 344.3h0.85M225.5 373.9h0.85M211.5 341.9h0.85M221.7 346.3h0.85M226.7 367.2h0.85M229.1 335.3h0.85M223.2 339.9h0.85M207.2 355.6h0.85M223.3 337.1h0.85M209.8 344.7h0.85M229.1 353.1h0.85M226.1 355.9h0.85M212.9 372.7h0.85M223.7 370.9h0.85M211.7 349.7h0.85M230.3 341.8h0.85M229.3 345.9h0.85M221.8 346.9h0.85M220.1 348.4h0.85M227.5 370.2h0.85M222.6 353.8h0.85M230.9 374.5h0.85M207.7 345.6h0.85M219.7 342.0h0.85M231.2 361.3h0.85M231.3 346.1h0.85M233.7 343.3h0.85M207.3 362.3h0.85M221.3 352.7h0.85M213.1 366.7h0.85M229.5 362.7h0.85M205.8 360.7h0.85M233.0 344.6h0.85M223.3 367.7h0.85M215.4 344.8h0.85M232.1 374.7h0.85M212.4 378.7h0.85M217.1 352.7h0.85M205.9 363.7h0.85M211.5 352.9h0.85M212.2 362.7h0.85M215.6 369.1h0.85M229.7 365.6h0.85M203.1 346.5h0.85M228.9 366.0h0.85M208.9 354.6h0.85M205.8 351.1h0.85M225.6 358.3h0.85M223.8 370.3h0.85M229.5 359.6h0.85M207.2 347.6h0.85M222.7 345.9h0.85M221.9 352.7h0.85M207.9 366.6h0.85M218.0 368.0h0.85M230.0 357.9h0.85M227.0 372.4h0.85M214.8 360.6h0.85M231.0 367.6h0.85M207.3 372.7h0.85M222.0 351.5h0.85M204.8 341.5h0.85M220.2 350.5h0.85M210.8 365.2h0.85M209.1 365.7h0.85M220.3 353.0h0.85M216.0 357.9h0.85M224.3 337.4h0.85M210.6 355.0h0.85M221.2 373.0h0.85M212.1 360.6h0.85M206.9 349.7h0.85M214.0 342.8h0.85M222.2 346.3h0.85M209.2 343.8h0.85M214.0 353.3h0.85M203.8 357.9h0.85M219.1 359.2h0.85M206.6 341.0h0.85M202.4 365.0h0.85M223.6 360.7h0.85M219.6 351.4h0.85M221.1 364.5h0.85M217.0 360.9h0.85M220.7 359.5h0.85M234.3 373.3h0.85M208.1 370.3h0.85M229.6 372.6h0.85M207.4 353.7h0.85M225.2 347.4h0.85M230.3 344.7h0.85M219.2 352.3h0.85M231.9 337.5h0.85M218.4 361.0h0.85M220.4 351.3h0.85M235.3 341.7h0.85M222.6 354.7h0.85M228.9 373.5h0.85M221.7 347.3h0.85M211.2 343.4h0.85M231.4 354.6h0.85M224.9 364.8h0.85M233.2 348.5h0.85M223.5 340.9h0.85M221.8 369.5h0.85M210.5 356.4h0.85M221.7 365.5h0.85M218.6 369.2h0.85M227.2 352.8h0.85M226.7 368.3h0.85M211.5 353.2h0.85M230.5 347.0h0.85M214.0 365.7h0.85M210.1 347.8h0.85M210.6 361.6h0.85M224.6 341.7h0.85M227.3 341.5h0.85M206.7 380.1h0.85M232.0 345.0h0.85M209.2 347.3h0.85M224.8 371.9h0.85M216.9 357.6h0.85M215.4 363.4h0.85M223.7 369.6h0.85M223.0 367.9h0.85M218.8 376.4h0.85M215.0 350.7h0.85M210.1 345.3h0.85M232.8 361.7h0.85M208.6 373.8h0.85M210.1 344.5h0.85M218.3 356.8h0.85M206.9 350.7h0.85M217.2 365.3h0.85M207.0 342.4h0.85M228.9 375.0h0.85M213.5 346.2h0.85M216.4 353.0h0.85M220.7 363.7h0.85M215.2 367.4h0.85M212.1 340.9h0.85M216.3 357.1h0.85M222.9 351.1h0.85M209.8 340.5h0.85M217.9 367.8h0.85M230.2 354.0h0.85M227.1 343.5h0.85M228.4 359.8h0.85M208.2 350.8h0.85M231.3 343.5h0.85M219.3 370.1h0.85M227.3 345.6h0.85M223.5 356.0h0.85M233.9 373.6h0.85M229.1 371.4h0.85M228.9 354.6h0.85M207.6 358.1h0.85M214.9 366.1h0.85M224.5 354.8h0.85M209.5 365.9h0.85M218.9 344.4h0.85M229.0 347.2h0.85M213.8 340.7h0.85M218.5 346.9h0.85M211.9 344.1h0.85M236.2 354.8h0.85M224.7 350.0h0.85M236.5 366.7h0.85M233.9 370.0h0.85M211.9 357.7h0.85M216.7 367.9h0.85M204.2 376.2h0.85M212.7 354.0h0.85M205.3 357.4h0.85M229.4 367.0h0.85M212.5 347.0h0.85M220.0 366.3h0.85M207.2 358.0h0.85M209.0 348.9h0.85M225.2 352.1h0.85M230.3 348.8h0.85M223.2 370.9h0.85M227.1 364.1h0.85M231.4 352.5h0.85M206.0 363.1h0.85M209.9 338.6h0.85M214.9 369.7h0.85M208.1 349.6h0.85M228.7 374.1h0.85M203.8 370.9h0.85M221.0 366.8h0.85M225.5 345.8h0.85M207.4 375.3h0.85M224.9 355.5h0.85M211.2 363.1h0.85M212.3 345.9h0.85M223.3 352.2h0.85M205.2 355.3h0.85M224.1 370.1h0.85M216.7 343.4h0.85M212.0 355.6h0.85M217.5 372.8h0.85M207.5 374.9h0.85M209.2 357.6h0.85M210.8 376.3h0.85M214.6 355.7h0.85M217.1 373.8h0.85M209.7 345.4h0.85M216.7 354.8h0.85M218.0 369.4h0.85M208.0 367.1h0.85M217.4 373.9h0.85M207.3 335.8h0.85M218.6 365.1h0.85M225.6 361.0h0.85M218.3 361.9h0.85M225.0 348.0h0.85M204.5 363.7h0.85M226.8 356.8h0.85M210.6 365.0h0.85M224.1 374.5h0.85M212.7 367.3h0.85M207.6 340.0h0.85M230.4 348.9h0.85M216.3 362.0h0.85M221.5 371.4h0.85M229.6 364.1h0.85M233.2 344.9h0.85M210.5 379.2h0.85M205.9 349.6h0.85M213.3 362.7h0.85M222.6 367.5h0.85M219.4 342.4h0.85M222.6 354.4h0.85M223.5 352.6h0.85M229.3 366.4h0.85M210.3 344.2h0.85M224.0 352.5h0.85M219.2 345.1h0.85M231.2 374.0h0.85M214.7 347.4h0.85M226.8 371.8h0.85M234.8 335.9h0.85M209.4 356.7h0.85M206.4 364.8h0.85M216.7 367.1h0.85M212.8 351.2h0.85M225.8 373.2h0.85M231.3 349.9h0.85M216.5 348.2h0.85M229.2 350.7h0.85M210.4 374.4h0.85M228.4 362.8h0.85M206.8 362.6h0.85M205.4 363.1h0.85M229.9 374.9h0.85M230.4 347.3h0.85M223.8 374.2h0.85M216.7 365.2h0.85M228.9 350.6h0.85M215.2 355.9h0.85M232.0 357.4h0.85M213.3 340.7h0.85M233.3 347.0h0.85M206.2 336.2h0.85M228.4 339.5h0.85M221.9 345.4h0.85M226.1 339.8h0.85M229.5 366.2h0.85M212.1 340.1h0.85M233.5 348.7h0.85M223.6 368.6h0.85M208.5 368.9h0.85M228.3 347.7h0.85M212.8 351.5h0.85M209.5 379.9h0.85M222.2 362.0h0.85M211.7 340.7h0.85M219.9 358.9h0.85M208.8 369.1h0.85M219.6 359.9h0.85M231.7 360.6h0.85M227.8 353.6h0.85M234.3 367.8h0.85M235.2 350.9h0.85M231.2 344.3h0.85M225.5 360.0h0.85M222.9 360.5h0.85M219.2 344.6h0.85M215.4 364.1h0.85M208.2 340.9h0.85M231.9 369.9h0.85M229.7 349.9h0.85M217.6 356.5h0.85M229.6 358.5h0.85M201.9 336.5h0.85M227.4 367.5h0.85M207.5 364.3h0.85M226.8 346.2h0.85M225.3 371.6h0.85M215.8 352.9h0.85M225.6 347.9h0.85M231.5 347.2h0.85M215.7 355.2h0.85M208.2 351.8h0.85M222.0 365.7h0.85M215.3 375.9h0.85M229.6 337.2h0.85M215.5 376.1h0.85M211.0 354.5h0.85M211.3 355.6h0.85M221.3 342.7h0.85M224.5 372.2h0.85M222.8 376.8h0.85M208.5 343.6h0.85M215.3 377.3h0.85M219.1 358.1h0.85M224.1 362.7h0.85M217.9 370.1h0.85M230.6 346.7h0.85M228.9 355.5h0.85M206.4 372.3h0.85M218.3 340.6h0.85M233.5 339.1h0.85M228.3 350.0h0.85M220.9 340.1h0.85M218.1 357.3h0.85M221.6 372.2h0.85M210.3 360.9h0.85M218.6 343.1h0.85M226.9 336.5h0.85M213.3 340.7h0.85M233.3 355.6h0.85M216.4 377.8h0.85M221.8 361.3h0.85M211.7 374.0h0.85M215.9 361.4h0.85M207.2 355.0h0.85M210.5 339.8h0.85M219.6 346.9h0.85M219.0 371.9h0.85M208.9 357.4h0.85M229.2 356.2h0.85M209.4 361.6h0.85M211.8 367.8h0.85M213.6 365.1h0.85M220.7 362.6h0.85M230.5 357.1h0.85M217.6 359.2h0.85M216.5 374.8h0.85M233.8 377.1h0.85M234.2 373.7h0.85M205.9 341.7h0.85M226.2 361.4h0.85M216.4 358.2h0.85M207.4 356.8h0.85M207.4 370.3h0.85M209.9 354.1h0.85M207.1 371.3h0.85M207.9 372.4h0.85M211.5 364.7h0.85M207.9 359.7h0.85M213.2 342.4h0.85M208.6 370.0h0.85M225.8 378.4h0.85M215.5 363.0h0.85M208.5 344.6h0.85M213.0 352.7h0.85M206.7 370.0h0.85M210.3 345.0h0.85M204.7 358.1h0.85M220.9 342.1h0.85M215.9 364.5h0.85M223.9 373.8h0.85M228.7 363.4h0.85M209.2 371.0h0.85M212.9 362.7h0.85M232.1 344.2h0.85M211.6 354.3h0.85M220.1 356.4h0.85M208.3 344.6h0.85M212.9 365.9h0.85M226.4 348.9h0.85M216.8 369.9h0.85M225.8 363.0h0.85M230.9 356.7h0.85M224.6 359.8h0.85M225.4 351.4h0.85M232.4 344.1h0.85M233.8 353.5h0.85M218.8 362.1h0.85M229.2 366.9h0.85M231.3 379.6h0.85M207.3 340.0h0.85M232.0 350.4h0.85M222.4 345.8h0.85M225.2 376.8h0.85M203.4 366.4h0.85M208.1 338.1h0.85M223.2 341.6h0.85M212.0 373.6h0.85M223.1 335.0h0.85M210.0 358.2h0.85M203.4 376.5h0.85M205.9 346.4h0.85M217.2 335.1h0.85M231.9 365.9h0.85M223.2 348.6h0.85M213.6 372.7h0.85M209.0 343.2h0.85M204.2 357.7h0.85M211.7 346.9h0.85M227.5 342.5h0.85M213.0 352.8h0.85M211.5 364.8h0.85M227.4 343.8h0.85M217.8 354.6h0.85M227.8 358.2h0.85M230.3 352.4h0.85M230.7 351.3h0.85M225.6 338.2h0.85M217.5 377.4h0.85M218.2 343.5h0.85M230.1 380.5h0.85M225.0 342.2h0.85M205.8 351.4h0.85M230.9 349.0h0.85M217.0 355.0h0.85M217.1 350.0h0.85M228.7 356.1h0.85M219.3 335.2h0.85M228.3 371.3h0.85M228.0 360.3h0.85M204.3 357.2h0.85M222.5 345.5h0.85M208.3 345.4h0.85M227.3 353.5h0.85M218.6 364.3h0.85M210.1 347.5h0.85M212.9 367.7h0.85M208.7 348.2h0.85M212.3 362.0h0.85M229.0 339.3h0.85M212.2 373.1h0.85M214.6 343.4h0.85M219.5 370.1h0.85M216.8 370.6h0.85M228.5 376.3h0.85M209.9 363.7h0.85M208.6 369.6h0.85M221.5 365.4h0.85M214.5 376.9h0.85M209.1 342.5h0.85M227.7 370.6h0.85M213.3 362.0h0.85M219.1 370.5h0.85M221.6 374.2h0.85M229.9 341.3h0.85M232.4 340.5h0.85M210.2 350.4h0.85M208.4 341.0h0.85M214.2 345.0h0.85M230.1 361.5h0.85M223.7 363.8h0.85M220.6 360.8h0.85M215.1 375.1h0.85M221.3 346.3h0.85M224.9 341.5h0.85M224.7 341.0h0.85M210.4 364.0h0.85M209.2 358.9h0.85M210.8 362.7h0.85M211.5 369.1h0.85M224.1 372.8h0.85M225.6 345.6h0.85M230.2 365.4h0.85M230.0 365.1h0.85M212.7 373.5h0.85M233.3 342.8h0.85M230.2 350.4h0.85M216.0 354.7h0.85M231.4 358.8h0.85M216.8 352.3h0.85M232.6 374.0h0.85M232.5 350.4h0.85M232.9 368.8h0.85M228.9 372.6h0.85M207.3 361.6h0.85M215.4 353.8h0.85M206.9 339.9h0.85M210.0 380.7h0.85M223.0 366.1h0.85M226.1 371.4h0.85M219.6 375.9h0.85M212.1 335.7h0.85M230.3 363.1h0.85M225.3 371.4h0.85M214.3 355.1h0.85M222.8 355.5h0.85M228.8 356.1h0.85M211.2 346.0h0.85M227.4 367.5h0.85M207.9 368.7h0.85M215.3 368.0h0.85M211.5 366.5h0.85M228.0 342.1h0.85M202.1 340.3h0.85M214.6 359.1h0.85M231.2 344.7h0.85M229.2 345.6h0.85M231.5 363.5h0.85M220.6 344.2h0.85M212.7 361.3h0.85M225.5 341.9h0.85M214.9 339.5h0.85M214.2 368.2h0.85M222.9 353.0h0.85M225.9 361.4h0.85M233.3 373.3h0.85M231.5 369.5h0.85M211.1 355.0h0.85M206.2 378.3h0.85M224.2 368.2h0.85M214.7 373.3h0.85M219.8 350.2h0.85M215.8 346.4h0.85M222.1 377.5h0.85M214.2 370.7h0.85M214.4 357.7h0.85M215.1 362.4h0.85M229.0 346.9h0.85M208.2 370.1h0.85M208.4 372.2h0.85M227.0 368.4h0.85M228.6 371.1h0.85M228.1 368.8h0.85M217.9 360.4h0.85M222.9 368.8h0.85M211.1 349.7h0.85M205.3 364.5h0.85M215.0 362.4h0.85M213.9 344.8h0.85M211.9 371.2h0.85M223.9 357.0h0.85M226.7 340.1h0.85M225.8 341.6h0.85M206.1 376.0h0.85M208.6 345.4h0.85M208.3 339.0h0.85M218.7 342.6h0.85M209.3 342.9h0.85M220.3 343.4h0.85M204.8 349.1h0.85M218.0 359.1h0.85M227.5 373.9h0.85M229.3 369.3h0.85M221.5 362.0h0.85M208.8 347.2h0.85M222.8 361.1h0.85M217.7 356.2h0.85M208.8 355.7h0.85M228.8 372.5h0.85M233.8 356.8h0.85M213.0 350.9h0.85M208.7 370.6h0.85M217.9 371.3h0.85M217.1 363.4h0.85M231.0 344.8h0.85M223.8 366.6h0.85M224.3 342.9h0.85M232.9 365.0h0.85M215.2 366.4h0.85M221.2 360.3h0.85M220.0 362.1h0.85M226.7 358.3h0.85M222.1 354.5h0.85M209.0 361.1h0.85M227.4 351.0h0.85M213.7 354.1h0.85M209.3 350.1h0.85M219.9 373.3h0.85M232.0 360.2h0.85M210.6 344.4h0.85M226.3 348.4h0.85M212.6 345.7h0.85M210.1 362.4h0.85M205.9 349.2h0.85M219.1 372.6h0.85M235.8 344.0h0.85M213.4 362.9h0.85M215.4 373.5h0.85M225.4 373.9h0.85M214.5 351.2h0.85M215.5 364.8h0.85M224.5 361.1h0.85M227.0 346.4h0.85M206.3 342.3h0.85M220.8 340.3h0.85M228.0 339.8h0.85M207.7 343.1h0.85M221.2 337.3h0.85M217.1 354.2h0.85M230.3 356.0h0.85M221.4 352.2h0.85M229.7 376.8h0.85M234.4 360.6h0.85M221.9 351.7h0.85M213.5 364.3h0.85M208.7 342.6h0.85M213.7 359.6h0.85M207.8 339.5h0.85M222.7 341.5h0.85M208.3 343.7h0.85M205.9 370.0h0.85M225.4 347.9h0.85M229.5 349.6h0.85M230.8 356.2h0.85M212.3 370.3h0.85M222.0 363.4h0.85M223.7 345.1h0.85M220.7 376.0h0.85M233.7 349.6h0.85M209.9 352.9h0.85M222.5 355.3h0.85M225.6 347.4h0.85M222.8 364.3h0.85M229.2 366.7h0.85M233.6 347.6h0.85M213.2 351.7h0.85M235.8 373.6h0.85M205.7 356.9h0.85M223.2 374.7h0.85M221.8 346.0h0.85M211.5 367.8h0.85M206.7 365.3h0.85M230.5 369.2h0.85M228.3 335.9h0.85M224.5 368.2h0.85M227.2 355.9h0.85M220.0 349.8h0.85M216.7 349.5h0.85M217.3 337.3h0.85M205.7 366.3h0.85M208.0 368.7h0.85M227.7 343.6h0.85M211.2 355.7h0.85M218.3 337.1h0.85M209.6 347.7h0.85M230.3 359.6h0.85M223.8 347.1h0.85M230.5 342.5h0.85M209.7 377.2h0.85M210.4 366.8h0.85M219.2 376.1h0.85M227.9 364.1h0.85M211.9 360.7h0.85M221.2 369.2h0.85M218.0 350.7h0.85M231.2 348.6h0.85M227.3 344.2h0.85M217.0 361.1h0.85M213.8 357.6h0.85M236.5 355.4h0.85M217.4 360.3h0.85M215.8 354.1h0.85M231.0 367.4h0.85M225.6 368.2h0.85M204.3 372.1h0.85M205.4 364.1h0.85M222.3 371.7h0.85M205.8 360.6h0.85M232.2 370.3h0.85M213.4 369.1h0.85M211.2 372.6h0.85M213.0 374.7h0.85M225.5 360.1h0.85M229.0 362.6h0.85M211.5 340.7h0.85M220.1 372.5h0.85M226.4 368.5h0.85M208.6 342.3h0.85M222.9 375.9h0.85M216.9 370.8h0.85M219.5 353.8h0.85M207.9 350.8h0.85M211.6 349.1h0.85M210.6 367.5h0.85M222.8 362.9h0.85M236.9 344.4h0.85M213.3 373.5h0.85M222.0 373.5h0.85M229.2 360.8h0.85M206.9 338.0h0.85M212.4 349.0h0.85M215.9 342.0h0.85M227.2 369.3h0.85M208.8 353.6h0.85M217.6 365.5h0.85M232.4 342.7h0.85M221.4 355.9h0.85M226.4 358.0h0.85M205.6 371.0h0.85M211.7 342.6h0.85M228.0 369.4h0.85M235.1 350.0h0.85M227.8 340.9h0.85M226.0 349.5h0.85M233.2 362.4h0.85M235.7 366.4h0.85M206.6 349.9h0.85M222.5 357.6h0.85M218.8 364.4h0.85M223.9 361.5h0.85M229.9 349.7h0.85M209.0 376.1h0.85M210.4 350.0h0.85M232.8 354.4h0.85M219.3 341.4h0.85M216.2 352.6h0.85M226.3 353.6h0.85M228.1 354.8h0.85M216.0 375.3h0.85M198.5 349.0h0.85M203.0 353.0h0.85M204.1 359.4h0.85M204.3 352.4h0.85M208.4 357.9h0.85M212.9 372.7h0.85M209.2 350.9h0.85M201.0 362.3h0.85M206.1 342.0h0.85M186.1 348.4h0.85M205.9 350.0h0.85M207.4 350.7h0.85M196.8 343.5h0.85M195.6 355.0h0.85M217.1 345.6h0.85M192.8 351.6h0.85M216.7 352.9h0.85M203.4 348.5h0.85M205.2 340.8h0.85M203.8 357.3h0.85M199.0 349.1h0.85M217.0 364.2h0.85M194.0 336.0h0.85M208.0 360.3h0.85M212.4 352.2h0.85M208.5 361.6h0.85M210.2 364.4h0.85M189.6 362.7h0.85M208.8 346.6h0.85M190.3 358.7h0.85M203.8 355.3h0.85M198.6 358.4h0.85M213.4 349.0h0.85M210.9 351.5h0.85M209.6 357.1h0.85M221.7 344.0h0.85M222.6 340.9h0.85M200.7 345.5h0.85M208.6 363.9h0.85M214.9 343.1h0.85M205.6 360.9h0.85M212.0 352.5h0.85M214.4 350.3h0.85M199.7 339.4h0.85M215.4 350.8h0.85M200.5 341.2h0.85M211.8 362.2h0.85M209.9 363.9h0.85M202.4 350.5h0.85M199.5 356.6h0.85M194.5 362.5h0.85M208.7 354.2h0.85M218.1 348.4h0.85M218.6 352.0h0.85M204.2 360.3h0.85M198.7 352.5h0.85M220.4 365.4h0.85M196.5 351.6h0.85M215.2 350.5h0.85M194.8 360.5h0.85M196.3 355.1h0.85M213.4 312.1h0.85M197.7 364.2h0.85M212.1 361.4h0.85M208.5 350.3h0.85M214.2 350.4h0.85M205.5 353.3h0.85M200.3 339.4h0.85M206.1 362.2h0.85M200.7 370.0h0.85M202.9 335.9h0.85M195.3 332.4h0.85M222.3 357.0h0.85M210.8 344.0h0.85M211.0 351.9h0.85M204.2 341.5h0.85M204.1 346.6h0.85M215.6 340.8h0.85M202.2 360.2h0.85M208.4 351.1h0.85M220.2 358.5h0.85M197.3 333.0h0.85M195.2 352.6h0.85M207.7 337.4h0.85M209.9 351.7h0.85M196.2 344.1h0.85M207.1 362.0h0.85M224.3 344.4h0.85M201.0 346.6h0.85M212.8 342.0h0.85M201.2 355.0h0.85M206.7 347.3h0.85M213.1 359.7h0.85M211.2 345.3h0.85M200.3 362.8h0.85M206.8 336.6h0.85M190.2 342.6h0.85M210.9 342.1h0.85M202.7 341.6h0.85M203.6 351.1h0.85M191.6 331.7h0.85M212.6 351.0h0.85M200.0 329.7h0.85M225.2 352.7h0.85M204.1 361.9h0.85M197.5 356.1h0.85M203.5 347.5h0.85M208.9 348.2h0.85M221.8 340.6h0.85M189.4 342.6h0.85M204.6 356.8h0.85M203.0 347.1h0.85M203.8 349.0h0.85M183.3 356.7h0.85M201.6 364.4h0.85M200.9 362.5h0.85M184.6 366.0h0.85M210.6 343.9h0.85M205.1 356.0h0.85M194.0 347.2h0.85M210.6 360.1h0.85M207.7 350.5h0.85M196.2 362.0h0.85M205.2 350.6h0.85M213.8 372.2h0.85M203.3 358.0h0.85M205.9 359.2h0.85M206.7 350.6h0.85M194.1 365.9h0.85M214.8 338.9h0.85M193.6 352.0h0.85M204.9 350.3h0.85M201.2 340.9h0.85M198.8 340.0h0.85M203.3 344.1h0.85M194.8 355.4h0.85M211.0 354.1h0.85M202.4 343.8h0.85M202.7 355.6h0.85M199.2 342.6h0.85M203.9 354.7h0.85M193.9 349.1h0.85M196.5 333.5h0.85M203.0 340.3h0.85M200.1 341.6h0.85M211.1 354.3h0.85M208.6 339.6h0.85M214.6 343.7h0.85M212.8 346.6h0.85M187.5 369.0h0.85M207.1 366.3h0.85M212.6 345.1h0.85M186.8 339.7h0.85M215.2 360.1h0.85M216.1 344.8h0.85M201.8 349.1h0.85M201.5 355.9h0.85M204.7 349.7h0.85M205.6 359.4h0.85M207.4 356.4h0.85M216.7 345.1h0.85M199.7 356.2h0.85M228.0 352.0h0.85M220.2 364.2h0.85M217.9 356.8h0.85M211.3 335.7h0.85M210.9 362.2h0.85M215.9 340.7h0.85M209.4 359.6h0.85M205.3 343.7h0.85M209.7 351.0h0.85M195.2 358.9h0.85M188.4 352.6h0.85M199.6 351.3h0.85M197.6 361.8h0.85M202.3 341.8h0.85M209.3 343.8h0.85M215.9 366.7h0.85M190.8 348.7h0.85M189.8 380.7h0.85M211.4 356.4h0.85M188.2 341.6h0.85M199.9 363.9h0.85M227.2 344.3h0.85M194.8 352.4h0.85M195.7 349.0h0.85M193.2 349.8h0.85M213.0 357.4h0.85M206.7 356.6h0.85M189.3 363.8h0.85M190.5 365.9h0.85M205.3 351.4h0.85M213.6 347.1h0.85M202.8 349.1h0.85M209.0 364.3h0.85M201.9 352.8h0.85M205.2 357.9h0.85M206.4 351.5h0.85M212.3 354.9h0.85M212.2 367.6h0.85M178.1 360.5h0.85M213.7 353.4h0.85M203.2 352.2h0.85M204.7 358.8h0.85M204.0 360.1h0.85M200.7 360.6h0.85M206.0 355.7h0.85M196.9 345.4h0.85M196.8 354.8h0.85M216.0 368.4h0.85M192.0 378.7h0.85M213.4 342.6h0.85M201.3 353.3h0.85M194.7 345.0h0.85M204.0 348.7h0.85M219.1 343.4h0.85M213.2 343.3h0.85M184.2 357.6h0.85M197.9 353.2h0.85M222.4 355.9h0.85M207.7 334.1h0.85M209.8 353.6h0.85M205.6 338.2h0.85M210.9 369.9h0.85M219.9 361.2h0.85M197.2 356.0h0.85M196.4 337.4h0.85M202.0 356.7h0.85M199.7 346.2h0.85M211.1 357.4h0.85M206.4 357.2h0.85M220.9 350.7h0.85M215.4 348.6h0.85M199.0 355.5h0.85M205.4 368.5h0.85M203.1 347.4h0.85M206.7 363.3h0.85M205.0 341.5h0.85M201.8 355.5h0.85M205.1 368.1h0.85M210.2 331.6h0.85M206.1 349.1h0.85M206.8 363.0h0.85M200.8 353.7h0.85M205.9 355.3h0.85M207.3 342.1h0.85M206.1 364.6h0.85M225.2 339.8h0.85M214.7 337.4h0.85M197.7 347.5h0.85M204.2 358.5h0.85M212.9 362.2h0.85M208.7 363.2h0.85M205.9 365.4h0.85M215.1 353.6h0.85M203.3 357.1h0.85M192.4 340.7h0.85M205.2 339.2h0.85M209.3 328.6h0.85M200.3 363.5h0.85M193.2 362.7h0.85M189.0 344.2h0.85M196.6 355.9h0.85M188.0 346.2h0.85M190.1 359.3h0.85M216.6 347.5h0.85M198.0 351.7h0.85M219.0 345.4h0.85M218.3 359.1h0.85M212.9 351.7h0.85M209.2 348.1h0.85M219.7 342.3h0.85M211.2 349.3h0.85M202.8 351.5h0.85M198.1 346.2h0.85M211.9 346.7h0.85M216.2 353.0h0.85M198.3 370.1h0.85M203.1 335.1h0.85M215.7 352.4h0.85M188.7 358.2h0.85M199.3 356.1h0.85M216.5 338.0h0.85M205.6 355.3h0.85M196.1 343.1h0.85M191.3 317.8h0.85M215.2 359.1h0.85M204.3 350.0h0.85M195.5 332.0h0.85M213.6 358.2h0.85M209.3 339.5h0.85M211.3 346.3h0.85M191.4 353.5h0.85M195.7 347.0h0.85M210.5 354.1h0.85M216.1 363.6h0.85M199.6 352.5h0.85M211.4 360.6h0.85M189.0 354.6h0.85M206.9 349.4h0.85M196.6 362.4h0.85M211.4 333.5h0.85M209.1 357.4h0.85M209.5 349.3h0.85M193.2 352.4h0.85M220.0 353.1h0.85M210.4 376.8h0.85M191.5 365.7h0.85M224.2 345.4h0.85M213.0 347.1h0.85M171.4 320.6h0.85M205.8 336.6h0.85M231.2 320.2h0.85M212.1 357.8h0.85M209.1 327.6h0.85M192.5 324.2h0.85M212.3 348.7h0.85M222.6 346.9h0.85M219.2 351.3h0.85M211.3 334.7h0.85M216.7 337.9h0.85M215.9 342.2h0.85M218.0 352.9h0.85M191.6 357.8h0.85M191.1 359.6h0.85M192.0 344.5h0.85M216.1 356.1h0.85M218.5 357.1h0.85M198.4 374.5h0.85M202.0 336.6h0.85M204.4 378.9h0.85M225.0 346.4h0.85M203.6 338.7h0.85M214.6 336.2h0.85M193.2 351.0h0.85M193.2 317.1h0.85M194.6 334.4h0.85M187.6 357.7h0.85M231.7 341.9h0.85M209.7 365.2h0.85M234.0 341.3h0.85M185.6 350.9h0.85M216.1 345.5h0.85M184.1 320.1h0.85M182.1 354.0h0.85M234.7 359.7h0.85M201.2 347.9h0.85M211.7 357.7h0.85M211.7 363.4h0.85M212.1 340.1h0.85M211.9 356.0h0.85M225.8 355.9h0.85M218.2 369.9h0.85M225.7 307.7h0.85M208.8 348.4h0.85M191.8 353.7h0.85M229.5 348.8h0.85M213.8 359.3h0.85M222.7 373.9h0.85M190.8 345.7h0.85M184.9 324.7h0.85M216.8 342.3h0.85M211.5 321.2h0.85M204.3 323.7h0.85M186.5 345.4h0.85M198.3 356.2h0.85M202.8 323.3h0.85M202.9 343.2h0.85M194.0 346.0h0.85M176.4 338.5h0.85M196.6 353.9h0.85M180.3 330.6h0.85M198.9 352.8h0.85M183.4 362.9h0.85M213.4 361.7h0.85M196.2 351.0h0.85M232.2 356.4h0.85M189.5 340.8h0.85M183.9 339.7h0.85M196.1 307.9h0.85M191.0 319.6h0.85M216.3 345.7h0.85M236.9 353.0h0.85M225.0 345.3h0.85M189.1 329.5h0.85M200.7 336.4h0.85M219.5 347.0h0.85M214.2 323.6h0.85M196.5 354.3h0.85M230.3 325.8h0.85M190.9 367.7h0.85M218.7 356.3h0.85M211.0 353.4h0.85M214.6 369.2h0.85M215.3 334.2h0.85M205.9 350.1h0.85M196.9 354.5h0.85M179.0 361.6h0.85M232.1 343.9h0.85M214.8 338.5h0.85M200.1 353.8h0.85M174.2 352.6h0.85M176.7 315.8h0.85M199.7 349.6h0.85M198.9 357.4h0.85M198.7 336.0h0.85M226.2 347.6h0.85M210.3 337.3h0.85M205.8 325.4h0.85M181.2 348.5h0.85M176.4 343.6h0.85M204.1 340.0h0.85M207.9 354.8h0.85M194.3 342.0h0.85M189.8 356.4h0.85M195.6 337.1h0.85M221.1 350.5h0.85M182.8 364.5h0.85M196.8 374.7h0.85M220.8 359.5h0.85M174.3 351.6h0.85M219.0 353.9h0.85M245.7 372.4h0.85M175.4 348.9h0.85M189.1 312.3h0.85M249.2 356.3h0.85M167.4 348.5h0.85M195.5 350.4h0.85M193.6 329.5h0.85M226.1 367.1h0.85M200.7 349.4h0.85M245.0 357.1h0.85M222.2 334.1h0.85M197.7 324.0h0.85M253.4 358.7h0.85M185.3 325.8h0.85M211.0 371.7h0.85M238.3 333.5h0.85M232.7 363.2h0.85M228.4 362.0h0.85M230.0 363.3h0.85M231.9 364.3h0.85M231.7 368.4h0.85M227.5 365.5h0.85M233.5 368.5h0.85M228.6 366.0h0.85M233.2 363.7h0.85M230.3 362.7h0.85M231.7 364.8h0.85M231.9 366.8h0.85M232.0 360.8h0.85M233.0 363.8h0.85M232.7 362.6h0.85M230.0 364.1h0.85M231.0 362.7h0.85M233.8 362.9h0.85M230.6 364.1h0.85M231.9 364.5h0.85M232.0 366.3h0.85M229.3 364.2h0.85M233.4 363.0h0.85M230.4 365.6h0.85M233.3 365.4h0.85M231.3 365.8h0.85M231.7 361.4h0.85M232.4 366.5h0.85M232.8 360.0h0.85M232.6 364.2h0.85M231.5 365.4h0.85M231.1 365.3h0.85M230.9 363.9h0.85M229.8 362.3h0.85M232.5 367.1h0.85M231.7 364.9h0.85M230.8 363.5h0.85M231.9 363.0h0.85M230.2 365.7h0.85M232.3 362.8h0.85M231.3 363.8h0.85M231.6 366.4h0.85M231.8 365.4h0.85M234.9 364.0h0.85M233.2 361.7h0.85M233.3 360.7h0.85M231.0 361.2h0.85M232.8 364.3h0.85M230.5 362.2h0.85M230.8 364.9h0.85M231.4 360.4h0.85M232.3 360.9h0.85M232.8 361.5h0.85M230.2 365.9h0.85M232.6 362.8h0.85M232.6 366.4h0.85M230.3 363.8h0.85M230.3 359.9h0.85M231.4 363.8h0.85M231.4 359.6h0.85M193.7 303.3h0.85M212.0 333.1h0.85M221.6 340.9h0.85M221.2 341.0h0.85M234.5 375.9h0.85M239.7 345.4h0.85M213.5 374.7h0.85M178.1 371.1h0.85M192.2 337.6h0.85M169.9 342.0h0.85M238.4 342.7h0.85M219.9 354.4h0.85M220.1 330.9h0.85M252.4 318.0h0.85M193.4 339.8h0.85M190.0 370.0h0.85M228.9 376.7h0.85M199.3 316.8h0.85M214.0 368.1h0.85M209.8 334.1h0.85M172.0 340.5h0.85M195.5 325.2h0.85M238.2 339.7h0.85M251.1 308.6h0.85M243.1 351.8h0.85M192.5 306.3h0.85M179.2 334.0h0.85M228.0 326.9h0.85M167.9 378.8h0.85M236.0 342.8h0.85M181.4 306.7h0.85M191.7 361.4h0.85M250.2 378.4h0.85M209.6 335.7h0.85M179.6 327.9h0.85M233.0 329.9h0.85M222.9 350.5h0.85M184.5 376.0h0.85M192.5 303.5h0.85M239.3 380.8h0.85M177.1 380.8h0.85M228.2 380.5h0.85M231.3 380.0h0.85M238.8 380.7h0.85M231.4 380.7h0.85M198.4 380.6h0.85M180.0 380.6h0.85M224.2 380.4h0.85M205.8 380.1h0.85M202.9 380.1h0.85M178.1 380.2h0.85M182.1 380.8h0.85M186.3 380.0h0.85M239.8 380.0h0.85M208.1 380.0h0.85M233.4 380.7h0.85M185.3 380.3h0.85M222.8 380.5h0.85M187.9 380.8h0.85M233.0 380.4h0.85M226.2 380.1h0.85M220.1 380.8h0.85M186.8 380.2h0.85M235.7 380.2h0.85M225.5 380.6h0.85M219.1 380.7h0.85M226.1 380.2h0.85M200.4 380.5h0.85M191.6 380.4h0.85M222.6 380.0h0.85M234.6 380.4h0.85M192.9 380.0h0.85M212.5 380.8h0.85M195.1 380.1h0.85M187.3 379.9h0.85M222.7 380.2h0.85M238.8 380.5h0.85M223.8 380.3h0.85M227.9 380.3h0.85M226.3 380.3h0.85M182.4 379.9h0.85M181.4 380.3h0.85M207.6 380.7h0.85M179.3 380.2h0.85M182.9 380.5h0.85M188.3 380.6h0.85M196.5 380.6h0.85M218.4 380.8h0.85M191.8 380.3h0.85M210.5 380.6h0.85M208.1 380.5h0.85M196.0 380.4h0.85M197.1 380.2h0.85M221.2 380.5h0.85M232.9 380.3h0.85M193.0 380.3h0.85M205.3 380.8h0.85M230.2 380.7h0.85M184.5 380.4h0.85M206.1 380.8h0.85M229.6 380.6h0.85M202.4 380.8h0.85M222.7 380.5h0.85M227.1 380.7h0.85M186.2 380.0h0.85M217.6 380.6h0.85M200.1 380.0h0.85M220.7 380.8h0.85M210.6 380.8h0.85M207.6 380.4h0.85M227.8 380.0h0.85M188.0 380.4h0.85M229.8 380.3h0.85M181.8 380.2h0.85M222.1 380.1h0.85M220.2 380.0h0.85M235.3 379.9h0.85M209.1 380.6h0.85M206.7 380.8h0.85M214.1 380.3h0.85M177.5 380.8h0.85M232.0 380.3h0.85M220.8 380.5h0.85M203.9 380.5h0.85M202.4 380.4h0.85M197.6 380.1h0.85M185.3 380.3h0.85M197.3 380.0h0.85M177.8 380.7h0.85M193.8 380.2h0.85M198.9 380.0h0.85M219.2 380.3h0.85M179.8 380.4h0.85M201.3 380.2h0.85M190.2 380.6h0.85M227.2 380.8h0.85M217.3 379.9h0.85M227.7 380.5h0.85M216.5 380.1h0.85M209.0 380.4h0.85M234.9 380.5h0.85M211.9 380.1h0.85M205.3 380.5h0.85M235.2 380.4h0.85M194.5 380.1h0.85M237.6 380.0h0.85M217.6 380.2h0.85M183.2 380.2h0.85M232.9 380.1h0.85" stroke="#000" stroke-opacity="0.42" stroke-width="0.85" fill="none" filter="url(#bl)"/>
<rect x="163.00" y="302.20" width="91.90" height="78.50" fill="none" stroke="#808080" stroke-width="0.9"/>
<line x1="213.00" y1="302.20" x2="213.00" y2="380.70" stroke="#808080" stroke-width="0.9" />
<line x1="163.00" y1="338.30" x2="254.90" y2="338.30" stroke="#808080" stroke-width="0.9" />
<text x="204.70" y="298.10" font-size="8.2" text-anchor="middle" font-weight="normal" fill="#1a1a1a" stroke="#1a1a1a" stroke-width="0.22">Gli2<tspan font-weight="bold">Δ</tspan>C<tspan font-size="5.08" dy="1.80">2</tspan><tspan dy="-1.80">Rag1-/-</tspan></text>
<text x="185.70" y="311.90" font-size="7.9" text-anchor="middle" font-weight="normal" fill="#1a1a1a" stroke="#111" stroke-width="0.3">15.8</text>
<text x="241.00" y="311.90" font-size="7.9" text-anchor="middle" font-weight="normal" fill="#1a1a1a" stroke="#111" stroke-width="0.3">39.4</text>
<text x="171.00" y="374.80" font-size="7.9" text-anchor="middle" font-weight="normal" fill="#1a1a1a" stroke="#111" stroke-width="0.3">33.5</text>
<text x="243.80" y="374.80" font-size="7.9" text-anchor="middle" font-weight="normal" fill="#1a1a1a" stroke="#111" stroke-width="0.3">11.3</text>
<line x1="37.00" y1="310.00" x2="37.00" y2="390.00" stroke="#000" stroke-width="1.5" />
<polygon points="37.00,302.80 32.80,311.00 41.20,311.00" fill="#000"/>
<line x1="36.30" y1="390.00" x2="248.80" y2="390.00" stroke="#000" stroke-width="1.5" />
<polygon points="256.00,390.00 247.80,385.80 247.80,394.20" fill="#000"/>
<text x="15.00" y="345.70" font-size="8.1" text-anchor="middle" font-weight="normal" fill="#1a1a1a" stroke="#1a1a1a" stroke-width="0.22">CD8</text>
<text x="137.60" y="399.60" font-size="8.0" text-anchor="start" font-weight="normal" fill="#1a1a1a" stroke="#1a1a1a" stroke-width="0.22">CD4</text>
<line x1="339.00" y1="298.00" x2="339.00" y2="383.20" stroke="#6a6a6a" stroke-width="1.0" />
<line x1="338.50" y1="383.20" x2="480.00" y2="383.20" stroke="#6a6a6a" stroke-width="1.0" />
<line x1="339.00" y1="383.20" x2="339.00" y2="384.80" stroke="#6a6a6a" stroke-width="0.6" />
<line x1="409.50" y1="383.20" x2="409.50" y2="384.80" stroke="#6a6a6a" stroke-width="0.6" />
<line x1="480.00" y1="383.20" x2="480.00" y2="384.80" stroke="#6a6a6a" stroke-width="0.6" />
<line x1="337.50" y1="383.20" x2="339.00" y2="383.20" stroke="#6a6a6a" stroke-width="0.6" />
<text transform="translate(336.80 384.86) scale(1.0 1)" font-size="4.6" text-anchor="end" font-weight="normal" fill="#1a1a1a" stroke="#1a1a1a" stroke-width="0.3">0</text>
<line x1="337.50" y1="372.55" x2="339.00" y2="372.55" stroke="#6a6a6a" stroke-width="0.6" />
<text transform="translate(336.80 374.21) scale(1.0 1)" font-size="4.6" text-anchor="end" font-weight="normal" fill="#1a1a1a" stroke="#1a1a1a" stroke-width="0.3">0.2</text>
<line x1="337.50" y1="361.90" x2="339.00" y2="361.90" stroke="#6a6a6a" stroke-width="0.6" />
<text transform="translate(336.80 363.56) scale(1.0 1)" font-size="4.6" text-anchor="end" font-weight="normal" fill="#1a1a1a" stroke="#1a1a1a" stroke-width="0.3">0.4</text>
<line x1="337.50" y1="351.25" x2="339.00" y2="351.25" stroke="#6a6a6a" stroke-width="0.6" />
<text transform="translate(336.80 352.91) scale(1.0 1)" font-size="4.6" text-anchor="end" font-weight="normal" fill="#1a1a1a" stroke="#1a1a1a" stroke-width="0.3">0.6</text>
<line x1="337.50" y1="340.60" x2="339.00" y2="340.60" stroke="#6a6a6a" stroke-width="0.6" />
<text transform="translate(336.80 342.26) scale(1.0 1)" font-size="4.6" text-anchor="end" font-weight="normal" fill="#1a1a1a" stroke="#1a1a1a" stroke-width="0.3">0.8</text>
<line x1="337.50" y1="329.95" x2="339.00" y2="329.95" stroke="#6a6a6a" stroke-width="0.6" />
<text transform="translate(336.80 331.61) scale(1.0 1)" font-size="4.6" text-anchor="end" font-weight="normal" fill="#1a1a1a" stroke="#1a1a1a" stroke-width="0.3">1</text>
<line x1="337.50" y1="319.30" x2="339.00" y2="319.30" stroke="#6a6a6a" stroke-width="0.6" />
<text transform="translate(336.80 320.96) scale(1.0 1)" font-size="4.6" text-anchor="end" font-weight="normal" fill="#1a1a1a" stroke="#1a1a1a" stroke-width="0.3">1.2</text>
<line x1="337.50" y1="308.65" x2="339.00" y2="308.65" stroke="#6a6a6a" stroke-width="0.6" />
<text transform="translate(336.80 310.31) scale(1.0 1)" font-size="4.6" text-anchor="end" font-weight="normal" fill="#1a1a1a" stroke="#1a1a1a" stroke-width="0.3">1.4</text>
<line x1="337.50" y1="298.00" x2="339.00" y2="298.00" stroke="#6a6a6a" stroke-width="0.6" />
<text transform="translate(336.80 299.66) scale(1.0 1)" font-size="4.6" text-anchor="end" font-weight="normal" fill="#1a1a1a" stroke="#1a1a1a" stroke-width="0.3">1.6</text>
<rect x="359.30" y="330.10" width="28.70" height="53.10" fill="#fff" stroke="#1a1a1a" stroke-width="0.9"/>
<line x1="373.50" y1="323.50" x2="373.50" y2="336.40" stroke="#2a2a2a" stroke-width="0.8" />
<rect x="430.00" y="313.00" width="28.60" height="70.20" fill="#fff" stroke="#1a1a1a" stroke-width="0.9"/>
<line x1="444.50" y1="309.30" x2="444.50" y2="316.20" stroke="#2a2a2a" stroke-width="0.8" />
<text x="377.40" y="392.60" font-size="8.1" text-anchor="middle" font-weight="normal" fill="#1a1a1a" stroke="#1a1a1a" stroke-width="0.22">Rag1-/-</text>
<text x="449.00" y="392.60" font-size="8.3" text-anchor="middle" font-weight="normal" fill="#1a1a1a" stroke="#1a1a1a" stroke-width="0.22">Gli2<tspan font-weight="bold">Δ</tspan>C<tspan font-size="5.15" dy="1.83">2</tspan><tspan dy="-1.83">Rag1-/-</tspan></text>
<text x="325.20" y="325.70" font-size="8.1" text-anchor="middle" font-weight="normal" fill="#1a1a1a" transform="rotate(-90 325.20 325.70)" stroke="#1a1a1a" stroke-width="0.22">Relative proportion of DP</text>
<line x1="39.90" y1="430.20" x2="39.90" y2="515.50" stroke="#6a6a6a" stroke-width="1.0" />
<line x1="39.40" y1="515.50" x2="180.50" y2="515.50" stroke="#6a6a6a" stroke-width="1.0" />
<line x1="39.90" y1="515.50" x2="39.90" y2="517.10" stroke="#6a6a6a" stroke-width="0.6" />
<line x1="110.20" y1="515.50" x2="110.20" y2="517.10" stroke="#6a6a6a" stroke-width="0.6" />
<line x1="180.50" y1="515.50" x2="180.50" y2="517.10" stroke="#6a6a6a" stroke-width="0.6" />
<line x1="38.40" y1="515.50" x2="39.90" y2="515.50" stroke="#6a6a6a" stroke-width="0.6" />
<text transform="translate(37.80 516.98) scale(0.95 1)" font-size="4.1" text-anchor="end" font-weight="normal" fill="#1a1a1a" stroke="#1a1a1a" stroke-width="0.3">0</text>
<line x1="38.40" y1="503.31" x2="39.90" y2="503.31" stroke="#6a6a6a" stroke-width="0.6" />
<text transform="translate(37.80 504.79) scale(0.95 1)" font-size="4.1" text-anchor="end" font-weight="normal" fill="#1a1a1a" stroke="#1a1a1a" stroke-width="0.3">0.2</text>
<line x1="38.40" y1="491.13" x2="39.90" y2="491.13" stroke="#6a6a6a" stroke-width="0.6" />
<text transform="translate(37.80 492.60) scale(0.95 1)" font-size="4.1" text-anchor="end" font-weight="normal" fill="#1a1a1a" stroke="#1a1a1a" stroke-width="0.3">0.4</text>
<line x1="38.40" y1="478.94" x2="39.90" y2="478.94" stroke="#6a6a6a" stroke-width="0.6" />
<text transform="translate(37.80 480.42) scale(0.95 1)" font-size="4.1" text-anchor="end" font-weight="normal" fill="#1a1a1a" stroke="#1a1a1a" stroke-width="0.3">0.6</text>
<line x1="38.40" y1="466.76" x2="39.90" y2="466.76" stroke="#6a6a6a" stroke-width="0.6" />
<text transform="translate(37.80 468.23) scale(0.95 1)" font-size="4.1" text-anchor="end" font-weight="normal" fill="#1a1a1a" stroke="#1a1a1a" stroke-width="0.3">0.8</text>
<line x1="38.40" y1="454.57" x2="39.90" y2="454.57" stroke="#6a6a6a" stroke-width="0.6" />
<text transform="translate(37.80 456.05) scale(0.95 1)" font-size="4.1" text-anchor="end" font-weight="normal" fill="#1a1a1a" stroke="#1a1a1a" stroke-width="0.3">1</text>
<line x1="38.40" y1="442.39" x2="39.90" y2="442.39" stroke="#6a6a6a" stroke-width="0.6" />
<text transform="translate(37.80 443.86) scale(0.95 1)" font-size="4.1" text-anchor="end" font-weight="normal" fill="#1a1a1a" stroke="#1a1a1a" stroke-width="0.3">1.2</text>
<line x1="38.40" y1="430.20" x2="39.90" y2="430.20" stroke="#6a6a6a" stroke-width="0.6" />
<text transform="translate(37.80 431.68) scale(0.95 1)" font-size="4.1" text-anchor="end" font-weight="normal" fill="#1a1a1a" stroke="#1a1a1a" stroke-width="0.3">1.4</text>
<rect x="60.40" y="454.30" width="28.20" height="61.20" fill="#fff" stroke="#1a1a1a" stroke-width="0.85"/>
<line x1="74.50" y1="443.80" x2="74.50" y2="464.80" stroke="#2a2a2a" stroke-width="0.8" />
<rect x="130.80" y="464.60" width="28.80" height="50.90" fill="#fff" stroke="#1a1a1a" stroke-width="0.85"/>
<line x1="145.50" y1="450.40" x2="145.50" y2="479.60" stroke="#2a2a2a" stroke-width="0.8" />
<text x="74.00" y="530.80" font-size="8.15" text-anchor="middle" font-weight="normal" fill="#1a1a1a" stroke="#1a1a1a" stroke-width="0.22">Rag1-/-</text>
<text x="155.80" y="530.80" font-size="8.2" text-anchor="middle" font-weight="normal" fill="#1a1a1a" stroke="#1a1a1a" stroke-width="0.22">Gli2<tspan font-weight="bold">Δ</tspan>C<tspan font-size="5.08" dy="1.80">2</tspan><tspan dy="-1.80">Rag1-/-</tspan></text>
<text x="29.30" y="467.00" font-size="8.25" text-anchor="middle" font-weight="normal" fill="#1a1a1a" transform="rotate(-90 29.30 467.00)" stroke="#1a1a1a" stroke-width="0.22">Relative thymocyte number</text>
<line x1="306.90" y1="447.70" x2="306.90" y2="536.00" stroke="#1a1a1a" stroke-width="0.8" />
<line x1="305.50" y1="535.60" x2="306.90" y2="535.60" stroke="#1a1a1a" stroke-width="0.6" />
<text x="303.20" y="537.00" font-size="3.8" text-anchor="end" font-weight="normal" fill="#1a1a1a" stroke="#1a1a1a" stroke-width="0.22">0</text>
<line x1="305.50" y1="518.02" x2="306.90" y2="518.02" stroke="#1a1a1a" stroke-width="0.6" />
<text x="303.20" y="519.42" font-size="3.8" text-anchor="end" font-weight="normal" fill="#1a1a1a" stroke="#1a1a1a" stroke-width="0.22">1</text>
<line x1="305.50" y1="500.44" x2="306.90" y2="500.44" stroke="#1a1a1a" stroke-width="0.6" />
<text x="303.20" y="501.84" font-size="3.8" text-anchor="end" font-weight="normal" fill="#1a1a1a" stroke="#1a1a1a" stroke-width="0.22">2</text>
<line x1="305.50" y1="482.86" x2="306.90" y2="482.86" stroke="#1a1a1a" stroke-width="0.6" />
<text x="303.20" y="484.26" font-size="3.8" text-anchor="end" font-weight="normal" fill="#1a1a1a" stroke="#1a1a1a" stroke-width="0.22">3</text>
<line x1="305.50" y1="465.28" x2="306.90" y2="465.28" stroke="#1a1a1a" stroke-width="0.6" />
<text x="303.20" y="466.68" font-size="3.8" text-anchor="end" font-weight="normal" fill="#1a1a1a" stroke="#1a1a1a" stroke-width="0.22">4</text>
<line x1="305.50" y1="447.70" x2="306.90" y2="447.70" stroke="#1a1a1a" stroke-width="0.6" />
<text x="303.20" y="449.10" font-size="3.8" text-anchor="end" font-weight="normal" fill="#1a1a1a" stroke="#1a1a1a" stroke-width="0.22">5</text>
<line x1="306.90" y1="518.00" x2="459.00" y2="518.00" stroke="#444" stroke-width="0.9" />
<rect x="328.80" y="518.00" width="31.20" height="11.30" fill="#fff" stroke="#333" stroke-width="0.9"/>
<rect x="405.30" y="464.40" width="30.60" height="53.60" fill="#e0e0e0" stroke="#555" stroke-width="0.9"/>
<text x="332.00" y="512.20" font-size="8.1" text-anchor="start" font-weight="normal" fill="#1a1a1a" stroke="#1a1a1a" stroke-width="0.22">Gli2<tspan font-weight="bold">Δ</tspan>N<tspan font-size="5.02" dy="1.78">2</tspan></text>
<text x="330.20" y="525.60" font-size="8.1" text-anchor="start" font-weight="normal" fill="#1a1a1a" stroke="#1a1a1a" stroke-width="0.22">Rag1-/-</text>
<text x="408.80" y="478.00" font-size="8.1" text-anchor="start" font-weight="normal" fill="#1a1a1a" stroke="#1a1a1a" stroke-width="0.22">Gli2<tspan font-weight="bold">Δ</tspan>C<tspan font-size="5.02" dy="1.78">2</tspan></text>
<text x="406.00" y="490.40" font-size="8.1" text-anchor="start" font-weight="normal" fill="#1a1a1a" stroke="#1a1a1a" stroke-width="0.22">Rag1-/-</text>
<text x="459.00" y="518.70" font-size="8.1" text-anchor="start" font-weight="normal" fill="#1a1a1a" stroke="#1a1a1a" stroke-width="0.22">Rag-/-</text>
<text x="283.60" y="541.60" font-size="8.3" text-anchor="start" font-weight="normal" fill="#1a1a1a" transform="rotate(-90 283.60 541.60)" stroke="#1a1a1a" stroke-width="0.22">Relative Erk Phosphorylation</text>
</svg>
</body></html>
